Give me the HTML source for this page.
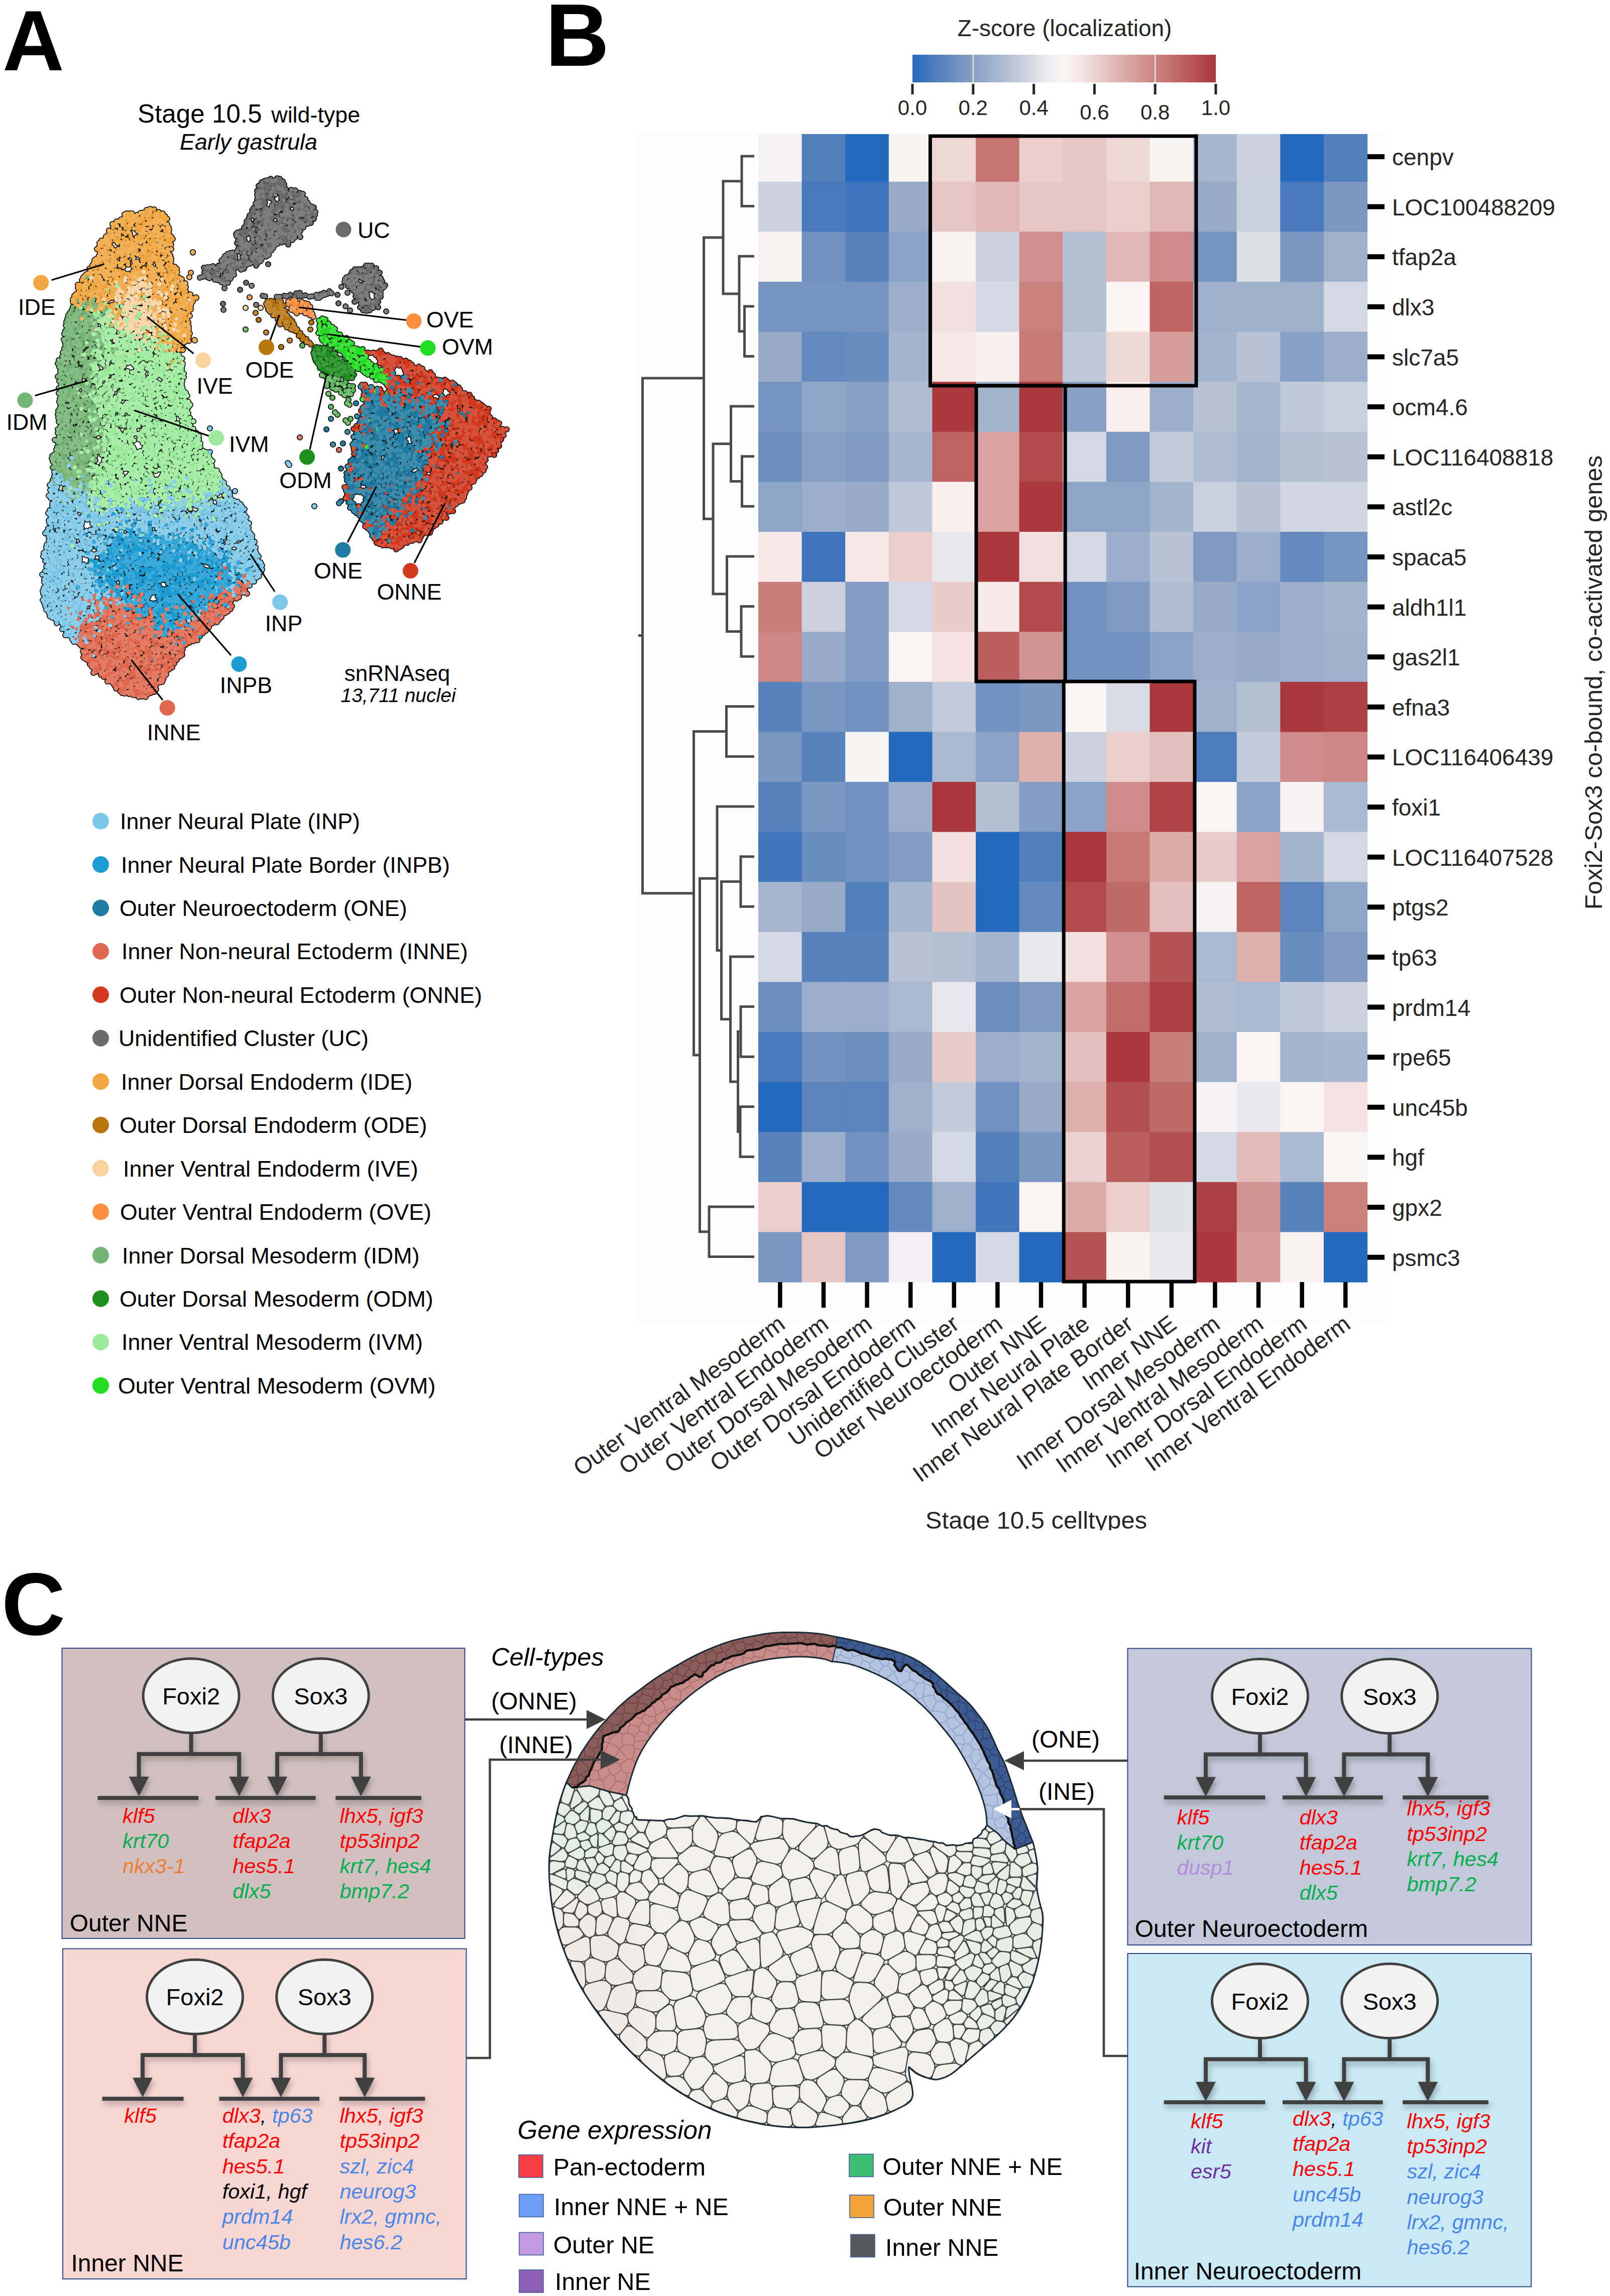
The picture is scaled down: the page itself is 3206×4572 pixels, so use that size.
<!DOCTYPE html>
<html><head><meta charset="utf-8"><title>Figure</title>
<style>html,body{margin:0;padding:0;background:#fff}svg{display:block}text{font-family:"Liberation Sans",sans-serif}</style>
</head><body>
<svg width="3206" height="4572" viewBox="0 0 3206 4572">
<rect width="3206" height="4572" fill="#fff"/>
<g id="panel_b">
<rect x="1270" y="264" width="1497" height="2370" fill="#fdfdfd"/>
<text x="1086" y="131" font-size="176" font-weight="bold">B</text>
<defs><linearGradient id="cb" x1="0" x2="1" y1="0" y2="0"><stop offset="0%" stop-color="#2369bd"/><stop offset="5%" stop-color="#4276bc"/><stop offset="10%" stop-color="#5b84bd"/><stop offset="15%" stop-color="#7192c0"/><stop offset="20%" stop-color="#87a0c4"/><stop offset="25%" stop-color="#9baecb"/><stop offset="30%" stop-color="#afbcd1"/><stop offset="35%" stop-color="#c3cbda"/><stop offset="40%" stop-color="#d9dce5"/><stop offset="45%" stop-color="#eeedf0"/><stop offset="50%" stop-color="#faf5f4"/><stop offset="55%" stop-color="#f6e8e7"/><stop offset="60%" stop-color="#ecd3d2"/><stop offset="65%" stop-color="#e3bfbd"/><stop offset="70%" stop-color="#dbaba8"/><stop offset="75%" stop-color="#d39794"/><stop offset="80%" stop-color="#cc8582"/><stop offset="85%" stop-color="#c3726f"/><stop offset="90%" stop-color="#bb5e5d"/><stop offset="95%" stop-color="#b24a4b"/><stop offset="100%" stop-color="#a9373b"/></linearGradient></defs>
<rect x="1817" y="109" width="604" height="55" fill="url(#cb)"/>
<rect x="1936.3" y="109" width="3" height="55" fill="#d9d9d9"/>
<rect x="2057.1" y="109" width="3" height="55" fill="#d9d9d9"/>
<rect x="2177.9" y="109" width="3" height="55" fill="#d9d9d9"/>
<rect x="2298.7" y="109" width="3" height="55" fill="#d9d9d9"/>
<rect x="1814.5" y="167" width="5" height="21" fill="#262626"/>
<text x="1817" y="229" font-size="42" text-anchor="middle" fill="#262626">0.0</text>
<rect x="1935.3" y="167" width="5" height="21" fill="#262626"/>
<text x="1937.8" y="229" font-size="42" text-anchor="middle" fill="#262626">0.2</text>
<rect x="2056.1" y="167" width="5" height="21" fill="#262626"/>
<text x="2058.6" y="229" font-size="42" text-anchor="middle" fill="#262626">0.4</text>
<rect x="2176.9" y="167" width="5" height="21" fill="#262626"/>
<text x="2179.4" y="238" font-size="42" text-anchor="middle" fill="#262626">0.6</text>
<rect x="2297.7" y="167" width="5" height="21" fill="#262626"/>
<text x="2300.2" y="238" font-size="42" text-anchor="middle" fill="#262626">0.8</text>
<rect x="2418.5" y="167" width="5" height="21" fill="#262626"/>
<text x="2421" y="229" font-size="42" text-anchor="middle" fill="#262626">1.0</text>
<text x="2120" y="72" font-size="46" text-anchor="middle" fill="#262626">Z-score (localization)</text>
<rect x="1510" y="267" width="87.2" height="95.4" fill="#f5f2f4"/>
<rect x="1596.6" y="267" width="87.2" height="95.4" fill="#517fbc"/>
<rect x="1683.2" y="267" width="87.2" height="95.4" fill="#2369bd"/>
<rect x="1769.8" y="267" width="87.2" height="95.4" fill="#f7f4f4"/>
<rect x="1856.4" y="267" width="87.2" height="95.4" fill="#eed7d5"/>
<rect x="1943" y="267" width="87.2" height="95.4" fill="#c57572"/>
<rect x="2029.6" y="267" width="87.2" height="95.4" fill="#eacfcd"/>
<rect x="2116.2" y="267" width="87.2" height="95.4" fill="#e7c7c5"/>
<rect x="2202.9" y="267" width="87.2" height="95.4" fill="#eed7d5"/>
<rect x="2289.5" y="267" width="87.2" height="95.4" fill="#f7f4f4"/>
<rect x="2376.1" y="267" width="87.2" height="95.4" fill="#a7b6ce"/>
<rect x="2462.7" y="267" width="87.2" height="95.4" fill="#cbd1de"/>
<rect x="2549.3" y="267" width="87.2" height="95.4" fill="#2369bd"/>
<rect x="2635.9" y="267" width="87.2" height="95.4" fill="#517fbc"/>
<rect x="1510" y="361.8" width="87.2" height="100.2" fill="#cbd1de"/>
<rect x="1596.6" y="361.8" width="87.2" height="100.2" fill="#4879bc"/>
<rect x="1683.2" y="361.8" width="87.2" height="100.2" fill="#3d74bc"/>
<rect x="1769.8" y="361.8" width="87.2" height="100.2" fill="#97abc9"/>
<rect x="1856.4" y="361.8" width="87.2" height="100.2" fill="#e7c7c5"/>
<rect x="1943" y="361.8" width="87.2" height="100.2" fill="#e0b7b5"/>
<rect x="2029.6" y="361.8" width="87.2" height="100.2" fill="#e7c7c5"/>
<rect x="2116.2" y="361.8" width="87.2" height="100.2" fill="#e7c7c5"/>
<rect x="2202.9" y="361.8" width="87.2" height="100.2" fill="#eacfcd"/>
<rect x="2289.5" y="361.8" width="87.2" height="100.2" fill="#e0b7b5"/>
<rect x="2376.1" y="361.8" width="87.2" height="100.2" fill="#97abc9"/>
<rect x="2462.7" y="361.8" width="87.2" height="100.2" fill="#c8cfdd"/>
<rect x="2549.3" y="361.8" width="87.2" height="100.2" fill="#4879bc"/>
<rect x="2635.9" y="361.8" width="87.2" height="100.2" fill="#7997c1"/>
<rect x="1510" y="461.4" width="87.2" height="100.2" fill="#faf2f1"/>
<rect x="1596.6" y="461.4" width="87.2" height="100.2" fill="#7192c0"/>
<rect x="1683.2" y="461.4" width="87.2" height="100.2" fill="#5782bc"/>
<rect x="1769.8" y="461.4" width="87.2" height="100.2" fill="#8aa2c5"/>
<rect x="1856.4" y="461.4" width="87.2" height="100.2" fill="#faf2f1"/>
<rect x="1943" y="461.4" width="87.2" height="100.2" fill="#cbd1de"/>
<rect x="2029.6" y="461.4" width="87.2" height="100.2" fill="#d08f8d"/>
<rect x="2116.2" y="461.4" width="87.2" height="100.2" fill="#b3bfd3"/>
<rect x="2202.9" y="461.4" width="87.2" height="100.2" fill="#e0b7b5"/>
<rect x="2289.5" y="461.4" width="87.2" height="100.2" fill="#cf8c8a"/>
<rect x="2376.1" y="461.4" width="87.2" height="100.2" fill="#7594c0"/>
<rect x="2462.7" y="461.4" width="87.2" height="100.2" fill="#dcdee6"/>
<rect x="2549.3" y="461.4" width="87.2" height="100.2" fill="#7997c1"/>
<rect x="2635.9" y="461.4" width="87.2" height="100.2" fill="#9fb0cc"/>
<rect x="1510" y="561" width="87.2" height="100.2" fill="#7594c0"/>
<rect x="1596.6" y="561" width="87.2" height="100.2" fill="#7594c0"/>
<rect x="1683.2" y="561" width="87.2" height="100.2" fill="#7594c0"/>
<rect x="1769.8" y="561" width="87.2" height="100.2" fill="#9baecb"/>
<rect x="1856.4" y="561" width="87.2" height="100.2" fill="#f2e0df"/>
<rect x="1943" y="561" width="87.2" height="100.2" fill="#d4d8e2"/>
<rect x="2029.6" y="561" width="87.2" height="100.2" fill="#ca817e"/>
<rect x="2116.2" y="561" width="87.2" height="100.2" fill="#b3bfd3"/>
<rect x="2202.9" y="561" width="87.2" height="100.2" fill="#faf5f4"/>
<rect x="2289.5" y="561" width="87.2" height="100.2" fill="#bd6361"/>
<rect x="2376.1" y="561" width="87.2" height="100.2" fill="#9fb0cc"/>
<rect x="2462.7" y="561" width="87.2" height="100.2" fill="#9fb0cc"/>
<rect x="2549.3" y="561" width="87.2" height="100.2" fill="#9fb0cc"/>
<rect x="2635.9" y="561" width="87.2" height="100.2" fill="#d4d8e2"/>
<rect x="1510" y="660.6" width="87.2" height="100.2" fill="#97abc9"/>
<rect x="1596.6" y="660.6" width="87.2" height="100.2" fill="#6489be"/>
<rect x="1683.2" y="660.6" width="87.2" height="100.2" fill="#698cbe"/>
<rect x="1769.8" y="660.6" width="87.2" height="100.2" fill="#a3b4cd"/>
<rect x="1856.4" y="660.6" width="87.2" height="100.2" fill="#f6e8e7"/>
<rect x="1943" y="660.6" width="87.2" height="100.2" fill="#f9efee"/>
<rect x="2029.6" y="660.6" width="87.2" height="100.2" fill="#c77977"/>
<rect x="2116.2" y="660.6" width="87.2" height="100.2" fill="#c0c9d9"/>
<rect x="2202.9" y="660.6" width="87.2" height="100.2" fill="#eed7d5"/>
<rect x="2289.5" y="660.6" width="87.2" height="100.2" fill="#d59c99"/>
<rect x="2376.1" y="660.6" width="87.2" height="100.2" fill="#a3b4cd"/>
<rect x="2462.7" y="660.6" width="87.2" height="100.2" fill="#b7c2d5"/>
<rect x="2549.3" y="660.6" width="87.2" height="100.2" fill="#87a0c4"/>
<rect x="2635.9" y="660.6" width="87.2" height="100.2" fill="#9baecb"/>
<rect x="1510" y="760.2" width="87.2" height="100.2" fill="#7594c0"/>
<rect x="1596.6" y="760.2" width="87.2" height="100.2" fill="#8fa5c7"/>
<rect x="1683.2" y="760.2" width="87.2" height="100.2" fill="#87a0c4"/>
<rect x="1769.8" y="760.2" width="87.2" height="100.2" fill="#afbcd1"/>
<rect x="1856.4" y="760.2" width="87.2" height="100.2" fill="#a9373b"/>
<rect x="1943" y="760.2" width="87.2" height="100.2" fill="#a3b4cd"/>
<rect x="2029.6" y="760.2" width="87.2" height="100.2" fill="#a9373b"/>
<rect x="2116.2" y="760.2" width="87.2" height="100.2" fill="#87a0c4"/>
<rect x="2202.9" y="760.2" width="87.2" height="100.2" fill="#f9efee"/>
<rect x="2289.5" y="760.2" width="87.2" height="100.2" fill="#9baecb"/>
<rect x="2376.1" y="760.2" width="87.2" height="100.2" fill="#b7c2d5"/>
<rect x="2462.7" y="760.2" width="87.2" height="100.2" fill="#a7b6ce"/>
<rect x="2549.3" y="760.2" width="87.2" height="100.2" fill="#c0c9d9"/>
<rect x="2635.9" y="760.2" width="87.2" height="100.2" fill="#c8cfdd"/>
<rect x="1510" y="859.8" width="87.2" height="100.2" fill="#6c8ebf"/>
<rect x="1596.6" y="859.8" width="87.2" height="100.2" fill="#87a0c4"/>
<rect x="1683.2" y="859.8" width="87.2" height="100.2" fill="#7e9ac2"/>
<rect x="1769.8" y="859.8" width="87.2" height="100.2" fill="#a7b6ce"/>
<rect x="1856.4" y="859.8" width="87.2" height="100.2" fill="#bd6361"/>
<rect x="1943" y="859.8" width="87.2" height="100.2" fill="#d8a3a0"/>
<rect x="2029.6" y="859.8" width="87.2" height="100.2" fill="#b24a4b"/>
<rect x="2116.2" y="859.8" width="87.2" height="100.2" fill="#d4d8e2"/>
<rect x="2202.9" y="859.8" width="87.2" height="100.2" fill="#7e9ac2"/>
<rect x="2289.5" y="859.8" width="87.2" height="100.2" fill="#c3cbda"/>
<rect x="2376.1" y="859.8" width="87.2" height="100.2" fill="#afbcd1"/>
<rect x="2462.7" y="859.8" width="87.2" height="100.2" fill="#a3b4cd"/>
<rect x="2549.3" y="859.8" width="87.2" height="100.2" fill="#b3bfd3"/>
<rect x="2635.9" y="859.8" width="87.2" height="100.2" fill="#b7c2d5"/>
<rect x="1510" y="959.4" width="87.2" height="100.2" fill="#8fa5c7"/>
<rect x="1596.6" y="959.4" width="87.2" height="100.2" fill="#9baecb"/>
<rect x="1683.2" y="959.4" width="87.2" height="100.2" fill="#97abc9"/>
<rect x="1769.8" y="959.4" width="87.2" height="100.2" fill="#c0c9d9"/>
<rect x="1856.4" y="959.4" width="87.2" height="100.2" fill="#f9efee"/>
<rect x="1943" y="959.4" width="87.2" height="100.2" fill="#d8a3a0"/>
<rect x="2029.6" y="959.4" width="87.2" height="100.2" fill="#a9373b"/>
<rect x="2116.2" y="959.4" width="87.2" height="100.2" fill="#8fa5c7"/>
<rect x="2202.9" y="959.4" width="87.2" height="100.2" fill="#8fa5c7"/>
<rect x="2289.5" y="959.4" width="87.2" height="100.2" fill="#a3b4cd"/>
<rect x="2376.1" y="959.4" width="87.2" height="100.2" fill="#c8cfdd"/>
<rect x="2462.7" y="959.4" width="87.2" height="100.2" fill="#b7c2d5"/>
<rect x="2549.3" y="959.4" width="87.2" height="100.2" fill="#d0d5e0"/>
<rect x="2635.9" y="959.4" width="87.2" height="100.2" fill="#d0d5e0"/>
<rect x="1510" y="1059" width="87.2" height="100.2" fill="#f6e8e7"/>
<rect x="1596.6" y="1059" width="87.2" height="100.2" fill="#3d74bc"/>
<rect x="1683.2" y="1059" width="87.2" height="100.2" fill="#f6e8e7"/>
<rect x="1769.8" y="1059" width="87.2" height="100.2" fill="#eacfcd"/>
<rect x="1856.4" y="1059" width="87.2" height="100.2" fill="#e9e9ed"/>
<rect x="1943" y="1059" width="87.2" height="100.2" fill="#a9373b"/>
<rect x="2029.6" y="1059" width="87.2" height="100.2" fill="#f2e0df"/>
<rect x="2116.2" y="1059" width="87.2" height="100.2" fill="#d4d8e2"/>
<rect x="2202.9" y="1059" width="87.2" height="100.2" fill="#9baecb"/>
<rect x="2289.5" y="1059" width="87.2" height="100.2" fill="#b7c2d5"/>
<rect x="2376.1" y="1059" width="87.2" height="100.2" fill="#7e9ac2"/>
<rect x="2462.7" y="1059" width="87.2" height="100.2" fill="#9baecb"/>
<rect x="2549.3" y="1059" width="87.2" height="100.2" fill="#6489be"/>
<rect x="2635.9" y="1059" width="87.2" height="100.2" fill="#7594c0"/>
<rect x="1510" y="1158.6" width="87.2" height="100.2" fill="#c87e7b"/>
<rect x="1596.6" y="1158.6" width="87.2" height="100.2" fill="#cbd1de"/>
<rect x="1683.2" y="1158.6" width="87.2" height="100.2" fill="#829cc3"/>
<rect x="1769.8" y="1158.6" width="87.2" height="100.2" fill="#d4d8e2"/>
<rect x="1856.4" y="1158.6" width="87.2" height="100.2" fill="#e9cbc9"/>
<rect x="1943" y="1158.6" width="87.2" height="100.2" fill="#f7ebea"/>
<rect x="2029.6" y="1158.6" width="87.2" height="100.2" fill="#b24a4b"/>
<rect x="2116.2" y="1158.6" width="87.2" height="100.2" fill="#7192c0"/>
<rect x="2202.9" y="1158.6" width="87.2" height="100.2" fill="#7e9ac2"/>
<rect x="2289.5" y="1158.6" width="87.2" height="100.2" fill="#afbcd1"/>
<rect x="2376.1" y="1158.6" width="87.2" height="100.2" fill="#97abc9"/>
<rect x="2462.7" y="1158.6" width="87.2" height="100.2" fill="#8aa2c5"/>
<rect x="2549.3" y="1158.6" width="87.2" height="100.2" fill="#9baecb"/>
<rect x="2635.9" y="1158.6" width="87.2" height="100.2" fill="#a3b4cd"/>
<rect x="1510" y="1258.2" width="87.2" height="100.2" fill="#cd8885"/>
<rect x="1596.6" y="1258.2" width="87.2" height="100.2" fill="#97abc9"/>
<rect x="1683.2" y="1258.2" width="87.2" height="100.2" fill="#829cc3"/>
<rect x="1769.8" y="1258.2" width="87.2" height="100.2" fill="#faf4f3"/>
<rect x="1856.4" y="1258.2" width="87.2" height="100.2" fill="#f4e3e2"/>
<rect x="1943" y="1258.2" width="87.2" height="100.2" fill="#bb5e5d"/>
<rect x="2029.6" y="1258.2" width="87.2" height="100.2" fill="#d29491"/>
<rect x="2116.2" y="1258.2" width="87.2" height="100.2" fill="#7192c0"/>
<rect x="2202.9" y="1258.2" width="87.2" height="100.2" fill="#7192c0"/>
<rect x="2289.5" y="1258.2" width="87.2" height="100.2" fill="#8aa2c5"/>
<rect x="2376.1" y="1258.2" width="87.2" height="100.2" fill="#9baecb"/>
<rect x="2462.7" y="1258.2" width="87.2" height="100.2" fill="#97abc9"/>
<rect x="2549.3" y="1258.2" width="87.2" height="100.2" fill="#9baecb"/>
<rect x="2635.9" y="1258.2" width="87.2" height="100.2" fill="#9fb0cc"/>
<rect x="1510" y="1357.8" width="87.2" height="100.2" fill="#5782bc"/>
<rect x="1596.6" y="1357.8" width="87.2" height="100.2" fill="#7997c1"/>
<rect x="1683.2" y="1357.8" width="87.2" height="100.2" fill="#7192c0"/>
<rect x="1769.8" y="1357.8" width="87.2" height="100.2" fill="#9fb0cc"/>
<rect x="1856.4" y="1357.8" width="87.2" height="100.2" fill="#c3cbda"/>
<rect x="1943" y="1357.8" width="87.2" height="100.2" fill="#7192c0"/>
<rect x="2029.6" y="1357.8" width="87.2" height="100.2" fill="#7997c1"/>
<rect x="2116.2" y="1357.8" width="87.2" height="100.2" fill="#faf5f4"/>
<rect x="2202.9" y="1357.8" width="87.2" height="100.2" fill="#d9dce5"/>
<rect x="2289.5" y="1357.8" width="87.2" height="100.2" fill="#a9373b"/>
<rect x="2376.1" y="1357.8" width="87.2" height="100.2" fill="#9fb0cc"/>
<rect x="2462.7" y="1357.8" width="87.2" height="100.2" fill="#b3bfd3"/>
<rect x="2549.3" y="1357.8" width="87.2" height="100.2" fill="#a9373b"/>
<rect x="2635.9" y="1357.8" width="87.2" height="100.2" fill="#ac3f42"/>
<rect x="1510" y="1457.4" width="87.2" height="100.2" fill="#7997c1"/>
<rect x="1596.6" y="1457.4" width="87.2" height="100.2" fill="#5782bc"/>
<rect x="1683.2" y="1457.4" width="87.2" height="100.2" fill="#f7f4f4"/>
<rect x="1769.8" y="1457.4" width="87.2" height="100.2" fill="#2369bd"/>
<rect x="1856.4" y="1457.4" width="87.2" height="100.2" fill="#abb9d0"/>
<rect x="1943" y="1457.4" width="87.2" height="100.2" fill="#8aa2c5"/>
<rect x="2029.6" y="1457.4" width="87.2" height="100.2" fill="#ddafad"/>
<rect x="2116.2" y="1457.4" width="87.2" height="100.2" fill="#cbd1de"/>
<rect x="2202.9" y="1457.4" width="87.2" height="100.2" fill="#eacfcd"/>
<rect x="2289.5" y="1457.4" width="87.2" height="100.2" fill="#e3bfbd"/>
<rect x="2376.1" y="1457.4" width="87.2" height="100.2" fill="#4c7cbc"/>
<rect x="2462.7" y="1457.4" width="87.2" height="100.2" fill="#c3cbda"/>
<rect x="2549.3" y="1457.4" width="87.2" height="100.2" fill="#cf8c8a"/>
<rect x="2635.9" y="1457.4" width="87.2" height="100.2" fill="#cd8885"/>
<rect x="1510" y="1557" width="87.2" height="100.2" fill="#5782bc"/>
<rect x="1596.6" y="1557" width="87.2" height="100.2" fill="#7997c1"/>
<rect x="1683.2" y="1557" width="87.2" height="100.2" fill="#7192c0"/>
<rect x="1769.8" y="1557" width="87.2" height="100.2" fill="#9baecb"/>
<rect x="1856.4" y="1557" width="87.2" height="100.2" fill="#a9373b"/>
<rect x="1943" y="1557" width="87.2" height="100.2" fill="#b3bfd3"/>
<rect x="2029.6" y="1557" width="87.2" height="100.2" fill="#829cc3"/>
<rect x="2116.2" y="1557" width="87.2" height="100.2" fill="#8aa2c5"/>
<rect x="2202.9" y="1557" width="87.2" height="100.2" fill="#cf8c8a"/>
<rect x="2289.5" y="1557" width="87.2" height="100.2" fill="#ae4244"/>
<rect x="2376.1" y="1557" width="87.2" height="100.2" fill="#faf5f4"/>
<rect x="2462.7" y="1557" width="87.2" height="100.2" fill="#8aa2c5"/>
<rect x="2549.3" y="1557" width="87.2" height="100.2" fill="#f5f2f4"/>
<rect x="2635.9" y="1557" width="87.2" height="100.2" fill="#abb9d0"/>
<rect x="1510" y="1656.6" width="87.2" height="100.2" fill="#4276bc"/>
<rect x="1596.6" y="1656.6" width="87.2" height="100.2" fill="#698cbe"/>
<rect x="1683.2" y="1656.6" width="87.2" height="100.2" fill="#7192c0"/>
<rect x="1769.8" y="1656.6" width="87.2" height="100.2" fill="#829cc3"/>
<rect x="1856.4" y="1656.6" width="87.2" height="100.2" fill="#f2e0df"/>
<rect x="1943" y="1656.6" width="87.2" height="100.2" fill="#2369bd"/>
<rect x="2029.6" y="1656.6" width="87.2" height="100.2" fill="#517fbc"/>
<rect x="2116.2" y="1656.6" width="87.2" height="100.2" fill="#a9373b"/>
<rect x="2202.9" y="1656.6" width="87.2" height="100.2" fill="#c77977"/>
<rect x="2289.5" y="1656.6" width="87.2" height="100.2" fill="#dbaba8"/>
<rect x="2376.1" y="1656.6" width="87.2" height="100.2" fill="#e9cbc9"/>
<rect x="2462.7" y="1656.6" width="87.2" height="100.2" fill="#d8a3a0"/>
<rect x="2549.3" y="1656.6" width="87.2" height="100.2" fill="#a3b4cd"/>
<rect x="2635.9" y="1656.6" width="87.2" height="100.2" fill="#d4d8e2"/>
<rect x="1510" y="1756.2" width="87.2" height="100.2" fill="#a7b6ce"/>
<rect x="1596.6" y="1756.2" width="87.2" height="100.2" fill="#97abc9"/>
<rect x="1683.2" y="1756.2" width="87.2" height="100.2" fill="#517fbc"/>
<rect x="1769.8" y="1756.2" width="87.2" height="100.2" fill="#a7b6ce"/>
<rect x="1856.4" y="1756.2" width="87.2" height="100.2" fill="#e5c3c1"/>
<rect x="1943" y="1756.2" width="87.2" height="100.2" fill="#2369bd"/>
<rect x="2029.6" y="1756.2" width="87.2" height="100.2" fill="#6489be"/>
<rect x="2116.2" y="1756.2" width="87.2" height="100.2" fill="#b24a4b"/>
<rect x="2202.9" y="1756.2" width="87.2" height="100.2" fill="#c06a68"/>
<rect x="2289.5" y="1756.2" width="87.2" height="100.2" fill="#e3bfbd"/>
<rect x="2376.1" y="1756.2" width="87.2" height="100.2" fill="#f5f2f4"/>
<rect x="2462.7" y="1756.2" width="87.2" height="100.2" fill="#bd6361"/>
<rect x="2549.3" y="1756.2" width="87.2" height="100.2" fill="#5b84bd"/>
<rect x="2635.9" y="1756.2" width="87.2" height="100.2" fill="#8fa5c7"/>
<rect x="1510" y="1855.8" width="87.2" height="100.2" fill="#d4d8e2"/>
<rect x="1596.6" y="1855.8" width="87.2" height="100.2" fill="#5782bc"/>
<rect x="1683.2" y="1855.8" width="87.2" height="100.2" fill="#5782bc"/>
<rect x="1769.8" y="1855.8" width="87.2" height="100.2" fill="#b7c2d5"/>
<rect x="1856.4" y="1855.8" width="87.2" height="100.2" fill="#b3bfd3"/>
<rect x="1943" y="1855.8" width="87.2" height="100.2" fill="#a3b4cd"/>
<rect x="2029.6" y="1855.8" width="87.2" height="100.2" fill="#e9e9ed"/>
<rect x="2116.2" y="1855.8" width="87.2" height="100.2" fill="#f2e0df"/>
<rect x="2202.9" y="1855.8" width="87.2" height="100.2" fill="#d08f8d"/>
<rect x="2289.5" y="1855.8" width="87.2" height="100.2" fill="#b55252"/>
<rect x="2376.1" y="1855.8" width="87.2" height="100.2" fill="#abb9d0"/>
<rect x="2462.7" y="1855.8" width="87.2" height="100.2" fill="#ddafad"/>
<rect x="2549.3" y="1855.8" width="87.2" height="100.2" fill="#698cbe"/>
<rect x="2635.9" y="1855.8" width="87.2" height="100.2" fill="#7e9ac2"/>
<rect x="1510" y="1955.4" width="87.2" height="100.2" fill="#6c8ebf"/>
<rect x="1596.6" y="1955.4" width="87.2" height="100.2" fill="#9baecb"/>
<rect x="1683.2" y="1955.4" width="87.2" height="100.2" fill="#9baecb"/>
<rect x="1769.8" y="1955.4" width="87.2" height="100.2" fill="#abb9d0"/>
<rect x="1856.4" y="1955.4" width="87.2" height="100.2" fill="#e6e6ec"/>
<rect x="1943" y="1955.4" width="87.2" height="100.2" fill="#6c8ebf"/>
<rect x="2029.6" y="1955.4" width="87.2" height="100.2" fill="#7e9ac2"/>
<rect x="2116.2" y="1955.4" width="87.2" height="100.2" fill="#d8a3a0"/>
<rect x="2202.9" y="1955.4" width="87.2" height="100.2" fill="#c16d6b"/>
<rect x="2289.5" y="1955.4" width="87.2" height="100.2" fill="#ac3f42"/>
<rect x="2376.1" y="1955.4" width="87.2" height="100.2" fill="#afbcd1"/>
<rect x="2462.7" y="1955.4" width="87.2" height="100.2" fill="#abb9d0"/>
<rect x="2549.3" y="1955.4" width="87.2" height="100.2" fill="#c0c9d9"/>
<rect x="2635.9" y="1955.4" width="87.2" height="100.2" fill="#cbd1de"/>
<rect x="1510" y="2055" width="87.2" height="100.2" fill="#4879bc"/>
<rect x="1596.6" y="2055" width="87.2" height="100.2" fill="#7192c0"/>
<rect x="1683.2" y="2055" width="87.2" height="100.2" fill="#6c8ebf"/>
<rect x="1769.8" y="2055" width="87.2" height="100.2" fill="#97abc9"/>
<rect x="1856.4" y="2055" width="87.2" height="100.2" fill="#e9cbc9"/>
<rect x="1943" y="2055" width="87.2" height="100.2" fill="#9baecb"/>
<rect x="2029.6" y="2055" width="87.2" height="100.2" fill="#a3b4cd"/>
<rect x="2116.2" y="2055" width="87.2" height="100.2" fill="#e3bfbd"/>
<rect x="2202.9" y="2055" width="87.2" height="100.2" fill="#a9373b"/>
<rect x="2289.5" y="2055" width="87.2" height="100.2" fill="#c87e7b"/>
<rect x="2376.1" y="2055" width="87.2" height="100.2" fill="#9fb0cc"/>
<rect x="2462.7" y="2055" width="87.2" height="100.2" fill="#faf5f4"/>
<rect x="2549.3" y="2055" width="87.2" height="100.2" fill="#a3b4cd"/>
<rect x="2635.9" y="2055" width="87.2" height="100.2" fill="#a7b6ce"/>
<rect x="1510" y="2154.6" width="87.2" height="100.2" fill="#2369bd"/>
<rect x="1596.6" y="2154.6" width="87.2" height="100.2" fill="#5b84bd"/>
<rect x="1683.2" y="2154.6" width="87.2" height="100.2" fill="#5b84bd"/>
<rect x="1769.8" y="2154.6" width="87.2" height="100.2" fill="#9fb0cc"/>
<rect x="1856.4" y="2154.6" width="87.2" height="100.2" fill="#c3cbda"/>
<rect x="1943" y="2154.6" width="87.2" height="100.2" fill="#7192c0"/>
<rect x="2029.6" y="2154.6" width="87.2" height="100.2" fill="#97abc9"/>
<rect x="2116.2" y="2154.6" width="87.2" height="100.2" fill="#ddafad"/>
<rect x="2202.9" y="2154.6" width="87.2" height="100.2" fill="#b44f4f"/>
<rect x="2289.5" y="2154.6" width="87.2" height="100.2" fill="#c06a68"/>
<rect x="2376.1" y="2154.6" width="87.2" height="100.2" fill="#f5f2f4"/>
<rect x="2462.7" y="2154.6" width="87.2" height="100.2" fill="#e9e9ed"/>
<rect x="2549.3" y="2154.6" width="87.2" height="100.2" fill="#faf5f4"/>
<rect x="2635.9" y="2154.6" width="87.2" height="100.2" fill="#f4e3e2"/>
<rect x="1510" y="2254.2" width="87.2" height="100.2" fill="#5782bc"/>
<rect x="1596.6" y="2254.2" width="87.2" height="100.2" fill="#9baecb"/>
<rect x="1683.2" y="2254.2" width="87.2" height="100.2" fill="#7192c0"/>
<rect x="1769.8" y="2254.2" width="87.2" height="100.2" fill="#97abc9"/>
<rect x="1856.4" y="2254.2" width="87.2" height="100.2" fill="#d4d8e2"/>
<rect x="1943" y="2254.2" width="87.2" height="100.2" fill="#517fbc"/>
<rect x="2029.6" y="2254.2" width="87.2" height="100.2" fill="#7997c1"/>
<rect x="2116.2" y="2254.2" width="87.2" height="100.2" fill="#ecd3d2"/>
<rect x="2202.9" y="2254.2" width="87.2" height="100.2" fill="#bb5e5d"/>
<rect x="2289.5" y="2254.2" width="87.2" height="100.2" fill="#b44f4f"/>
<rect x="2376.1" y="2254.2" width="87.2" height="100.2" fill="#d4d8e2"/>
<rect x="2462.7" y="2254.2" width="87.2" height="100.2" fill="#e2bcb9"/>
<rect x="2549.3" y="2254.2" width="87.2" height="100.2" fill="#abb9d0"/>
<rect x="2635.9" y="2254.2" width="87.2" height="100.2" fill="#f9f5f5"/>
<rect x="1510" y="2353.8" width="87.2" height="100.2" fill="#eacfcd"/>
<rect x="1596.6" y="2353.8" width="87.2" height="100.2" fill="#2369bd"/>
<rect x="1683.2" y="2353.8" width="87.2" height="100.2" fill="#2369bd"/>
<rect x="1769.8" y="2353.8" width="87.2" height="100.2" fill="#6489be"/>
<rect x="1856.4" y="2353.8" width="87.2" height="100.2" fill="#9fb0cc"/>
<rect x="1943" y="2353.8" width="87.2" height="100.2" fill="#4276bc"/>
<rect x="2029.6" y="2353.8" width="87.2" height="100.2" fill="#faf5f4"/>
<rect x="2116.2" y="2353.8" width="87.2" height="100.2" fill="#dbaba8"/>
<rect x="2202.9" y="2353.8" width="87.2" height="100.2" fill="#eacfcd"/>
<rect x="2289.5" y="2353.8" width="87.2" height="100.2" fill="#e1e2e9"/>
<rect x="2376.1" y="2353.8" width="87.2" height="100.2" fill="#ac3f42"/>
<rect x="2462.7" y="2353.8" width="87.2" height="100.2" fill="#d29491"/>
<rect x="2549.3" y="2353.8" width="87.2" height="100.2" fill="#5782bc"/>
<rect x="2635.9" y="2353.8" width="87.2" height="100.2" fill="#ca817e"/>
<rect x="1510" y="2453.4" width="87.2" height="100.2" fill="#7997c1"/>
<rect x="1596.6" y="2453.4" width="87.2" height="100.2" fill="#e7c7c5"/>
<rect x="1683.2" y="2453.4" width="87.2" height="100.2" fill="#7e9ac2"/>
<rect x="1769.8" y="2453.4" width="87.2" height="100.2" fill="#f1eff2"/>
<rect x="1856.4" y="2453.4" width="87.2" height="100.2" fill="#2369bd"/>
<rect x="1943" y="2453.4" width="87.2" height="100.2" fill="#d4d8e2"/>
<rect x="2029.6" y="2453.4" width="87.2" height="100.2" fill="#2369bd"/>
<rect x="2116.2" y="2453.4" width="87.2" height="100.2" fill="#b55252"/>
<rect x="2202.9" y="2453.4" width="87.2" height="100.2" fill="#faf2f1"/>
<rect x="2289.5" y="2453.4" width="87.2" height="100.2" fill="#e9e9ed"/>
<rect x="2376.1" y="2453.4" width="87.2" height="100.2" fill="#a9373b"/>
<rect x="2462.7" y="2453.4" width="87.2" height="100.2" fill="#d59c99"/>
<rect x="2549.3" y="2453.4" width="87.2" height="100.2" fill="#faf2f1"/>
<rect x="2635.9" y="2453.4" width="87.2" height="100.2" fill="#2369bd"/>
<g fill="none" stroke="#000" stroke-width="7" stroke-linejoin="miter">
<rect x="1852.4" y="271" width="529.6" height="497"/>
<rect x="1944" y="768" width="177.2" height="589"/>
<rect x="2118.2" y="1357" width="260.8" height="1195"/>
</g>
<rect x="2723" y="307" width="34" height="10" fill="#000"/>
<text x="2772" y="329" font-size="46" fill="#262626">cenpv</text>
<rect x="2723" y="406.6" width="34" height="10" fill="#000"/>
<text x="2772" y="428.6" font-size="46" fill="#262626">LOC100488209</text>
<rect x="2723" y="506.2" width="34" height="10" fill="#000"/>
<text x="2772" y="528.2" font-size="46" fill="#262626">tfap2a</text>
<rect x="2723" y="605.9" width="34" height="10" fill="#000"/>
<text x="2772" y="627.9" font-size="46" fill="#262626">dlx3</text>
<rect x="2723" y="705.5" width="34" height="10" fill="#000"/>
<text x="2772" y="727.5" font-size="46" fill="#262626">slc7a5</text>
<rect x="2723" y="805.1" width="34" height="10" fill="#000"/>
<text x="2772" y="827.1" font-size="46" fill="#262626">ocm4.6</text>
<rect x="2723" y="904.7" width="34" height="10" fill="#000"/>
<text x="2772" y="926.7" font-size="46" fill="#262626">LOC116408818</text>
<rect x="2723" y="1004.3" width="34" height="10" fill="#000"/>
<text x="2772" y="1026.3" font-size="46" fill="#262626">astl2c</text>
<rect x="2723" y="1104" width="34" height="10" fill="#000"/>
<text x="2772" y="1126" font-size="46" fill="#262626">spaca5</text>
<rect x="2723" y="1203.6" width="34" height="10" fill="#000"/>
<text x="2772" y="1225.6" font-size="46" fill="#262626">aldh1l1</text>
<rect x="2723" y="1303.2" width="34" height="10" fill="#000"/>
<text x="2772" y="1325.2" font-size="46" fill="#262626">gas2l1</text>
<rect x="2723" y="1402.8" width="34" height="10" fill="#000"/>
<text x="2772" y="1424.8" font-size="46" fill="#262626">efna3</text>
<rect x="2723" y="1502.4" width="34" height="10" fill="#000"/>
<text x="2772" y="1524.4" font-size="46" fill="#262626">LOC116406439</text>
<rect x="2723" y="1602.1" width="34" height="10" fill="#000"/>
<text x="2772" y="1624.1" font-size="46" fill="#262626">foxi1</text>
<rect x="2723" y="1701.7" width="34" height="10" fill="#000"/>
<text x="2772" y="1723.7" font-size="46" fill="#262626">LOC116407528</text>
<rect x="2723" y="1801.3" width="34" height="10" fill="#000"/>
<text x="2772" y="1823.3" font-size="46" fill="#262626">ptgs2</text>
<rect x="2723" y="1900.9" width="34" height="10" fill="#000"/>
<text x="2772" y="1922.9" font-size="46" fill="#262626">tp63</text>
<rect x="2723" y="2000.5" width="34" height="10" fill="#000"/>
<text x="2772" y="2022.5" font-size="46" fill="#262626">prdm14</text>
<rect x="2723" y="2100.2" width="34" height="10" fill="#000"/>
<text x="2772" y="2122.2" font-size="46" fill="#262626">rpe65</text>
<rect x="2723" y="2199.8" width="34" height="10" fill="#000"/>
<text x="2772" y="2221.8" font-size="46" fill="#262626">unc45b</text>
<rect x="2723" y="2299.4" width="34" height="10" fill="#000"/>
<text x="2772" y="2321.4" font-size="46" fill="#262626">hgf</text>
<rect x="2723" y="2399" width="34" height="10" fill="#000"/>
<text x="2772" y="2421" font-size="46" fill="#262626">gpx2</text>
<rect x="2723" y="2498.6" width="34" height="10" fill="#000"/>
<text x="2772" y="2520.6" font-size="46" fill="#262626">psmc3</text>
<rect x="1549.1" y="2553.0" width="8.5" height="51" fill="#000"/>
<text transform="translate(1566.3 2643) rotate(-36)" font-size="46.5" text-anchor="end" fill="#262626">Outer Ventral Mesoderm</text>
<rect x="1635.7" y="2553.0" width="8.5" height="51" fill="#000"/>
<text transform="translate(1652.9 2643) rotate(-36)" font-size="46.5" text-anchor="end" fill="#262626">Outer Ventral Endoderm</text>
<rect x="1722.3" y="2553.0" width="8.5" height="51" fill="#000"/>
<text transform="translate(1739.5 2643) rotate(-36)" font-size="46.5" text-anchor="end" fill="#262626">Outer Dorsal Mesoderm</text>
<rect x="1808.9" y="2553.0" width="8.5" height="51" fill="#000"/>
<text transform="translate(1826.1 2643) rotate(-36)" font-size="46.5" text-anchor="end" fill="#262626">Outer Dorsal Endoderm</text>
<rect x="1895.5" y="2553.0" width="8.5" height="51" fill="#000"/>
<text transform="translate(1912.7 2643) rotate(-36)" font-size="46.5" text-anchor="end" fill="#262626">Unidentified Cluster</text>
<rect x="1982.1" y="2553.0" width="8.5" height="51" fill="#000"/>
<text transform="translate(1999.3 2643) rotate(-36)" font-size="46.5" text-anchor="end" fill="#262626">Outer Neuroectoderm</text>
<rect x="2068.7" y="2553.0" width="8.5" height="51" fill="#000"/>
<text transform="translate(2085.9 2643) rotate(-36)" font-size="46.5" text-anchor="end" fill="#262626">Outer NNE</text>
<rect x="2155.4" y="2553.0" width="8.5" height="51" fill="#000"/>
<text transform="translate(2172.6 2643) rotate(-36)" font-size="46.5" text-anchor="end" fill="#262626">Inner Neural Plate</text>
<rect x="2242" y="2553.0" width="8.5" height="51" fill="#000"/>
<text transform="translate(2259.2 2643) rotate(-36)" font-size="46.5" text-anchor="end" fill="#262626">Inner Neural Plate Border</text>
<rect x="2328.6" y="2553.0" width="8.5" height="51" fill="#000"/>
<text transform="translate(2345.8 2643) rotate(-36)" font-size="46.5" text-anchor="end" fill="#262626">Inner NNE</text>
<rect x="2415.2" y="2553.0" width="8.5" height="51" fill="#000"/>
<text transform="translate(2432.4 2643) rotate(-36)" font-size="46.5" text-anchor="end" fill="#262626">Inner Dorsal Mesoderm</text>
<rect x="2501.8" y="2553.0" width="8.5" height="51" fill="#000"/>
<text transform="translate(2519 2643) rotate(-36)" font-size="46.5" text-anchor="end" fill="#262626">Inner Ventral Mesoderm</text>
<rect x="2588.4" y="2553.0" width="8.5" height="51" fill="#000"/>
<text transform="translate(2605.6 2643) rotate(-36)" font-size="46.5" text-anchor="end" fill="#262626">Inner Dorsal Endoderm</text>
<rect x="2675" y="2553.0" width="8.5" height="51" fill="#000"/>
<text transform="translate(2692.2 2643) rotate(-36)" font-size="46.5" text-anchor="end" fill="#262626">Inner Ventral Endoderm</text>
<text x="2063.5" y="3044" font-size="49" text-anchor="middle" fill="#262626">Stage 10.5 celltypes</text>
<rect x="1800" y="3047" width="540" height="20" fill="#fff"/>
<text transform="translate(3190 1359) rotate(-90)" font-size="49" text-anchor="middle" fill="#262626">Foxi2-Sox3 co-bound, co-activated genes</text>
<path d="M1502 311H1477V410.6H1502M1502 609.9H1482.5V709.5H1502M1502 510.2H1472V659.7H1482.5M1477 360.8H1440V585H1472M1502 908.7H1477.5V1008.3H1502M1502 809.1H1455.5V958.5H1477.5M1502 1207.6H1476V1307.2H1502M1502 1108H1447.5V1257.4H1476M1455.5 883.8H1420V1182.7H1447.5M1440 472.9H1401.5V1033.2H1420M1502 1406.8H1446.5V1506.4H1502M1502 1705.7H1475V1805.3H1502M1502 2004.5H1475V2104.2H1502M1502 2203.8H1474V2303.4H1502M1475 2054.3H1469.5V2253.6H1474M1502 1904.9H1454.5V2154H1469.5M1475 1755.5H1436.5V2029.4H1454.5M1502 1606.1H1428V1892.5H1436.5M1502 2403H1412V2502.6H1502M1428 1749.3H1393.5V2452.8H1412M1446.5 1456.6H1381.5V2101H1393.5M1401.5 753.1H1279.5V1778.8H1381.5M1271 1265.5H1280" fill="none" stroke="#4a4a4a" stroke-width="5" stroke-linejoin="miter" stroke-linecap="butt"/>
</g>
<g id="panel_a">
<text x="5" y="139.5" font-size="170" font-weight="bold">A</text>
<text x="274" y="244" font-size="51.2">Stage 10.5</text>
<text x="540.3" y="244" font-size="44.8">wild-type</text>
<text x="495" y="298" font-size="44.8" text-anchor="middle" font-style="italic">Early gastrula</text>
<defs><path id="uUC0" d="M539 356h0m13-1h0m5 1h0m-36 7h0m6-3h0m3 8h0m6 0h0m1-7h0m4 4h0m5-1h0m5 2h0m4-4h0m5 4h0m3-5h0m3 6h0m-51 3h0m7 5h0m4-5h0m5 6h0m5-2h0m8-4h0m6 6h0m8-4h0m7 1h0m4 3h0m-57 4h0m5-2h0m11 3h0m6 1h0m15 0h0m8 2h0m14-2h0m26 2h0m-79 4h0m8-1h0m6 4h0m28-2h0m6 0h0m5 2h0m12-5h0m6 1h0m7 2h0m-84 8h0m6-1h0m9 0h0m9-2h0m6 2h0m18-1h0m15 5h0m13-6h0m10 1h0m-78 11h0m1-6h0m7 4h0m17-2h0m6 4h0m7-3h0m4 4h0m4-4h0m14 5h0m6-8h0m5 1h0m9 0h0m-95 13h0m21-3h0m21 4h0m5-3h0m5-1h0m11 1h0m6 2h0m21 0h0m12-5h0m18 4h0m-123 6h0m6 2h0m8-1h0m9-2h0m17 5h0m5-2h0m15-5h0m20 7h0m23-6h0m17 6h0m-125 6h0m5 1h0m0-5h0m19 0h0m23 6h0m44-1h0m21-4h0m10 2h0m8 0h0m-132 7h0m18 3h0m9 1h0m14-6h0m4 4h0m12-5h0m9 8h0m1-7h0m8 2h0m6 1h0m7-3h0m22 6h0m4-5h0m4 5h0m12-3h0m-135 12h0m1-7h0m10 6h0m8-6h0m9 5h0m6-2h0m9 2h0m12-1h0m7 0h0m5-1h0m10 1h0m17-2h0m35 1h0m-133 9h0m11 2h0m13-7h0m29 8h0m23-1h0m3-5h0m5 4h0m8-6h0m4 4h0m12 1h0m-115 8h0m6-1h0m7 0h0m10 0h0m17-2h0m9 3h0m7-2h0m17-1h0m12 2h0m8 0h0m5-1h0m-107 7h0m13 0h0m3 5h0m5-4h0m14-2h0m4 3h0m6 0h0m11 0h0m32 2h0m7 1h0m8-2h0m8 2h0m-107 8h0m13-1h0m30-5h0m4 4h0m12-2h0m19 1h0m9 1h0m6-1h0m-95 8h0m14 1h0m13-1h0m5-2h0m9 0h0m2 5h0m15-4h0m10 3h0m21-3h0m6-2h0m7 1h0m0 5h0m-99 7h0m27-2h0m6-2h0m7 2h0m7 2h0m8 1h0m3-7h0m6 4h0m-59 11h0m9-6h0m9 2h0m8-1h0m21 2h0m-70 9h0m6 1h0m5-3h0m31 5h0m18-1h0m-57 3h0m9-2h0m0 8h0m15 0h0m6-3h0m20-1h0m-68 9h0m4-5h0m11 5h0m31-1h0m6-3h0m12 2h0m7 1h0m21 2h0m-128 7h0m28 2h0m1-6h0m9 7h0m18-4h0m6 2h0m2-5h0m4 3h0m10-2h0m2 5h0m3-6h0m21 0h0m212 6h0m7-6h0m3 5h0m8-5h0m0 6h0m9-1h0m-342 8h0m2-6h0m8 1h0m5 4h0m9-1h0m18 3h0m4-5h0m248 3h0m6-5h0m7 0h0m21 3h0m14 1h0m7 3h0m-347 5h0m14 3h0m3-7h0m2 5h0m270-2h0m13-2h0m7 2h0m6 1h0m9-4h0m14 1h0m-334 7h0m20 0h0m6 5h0m4-4h0m4 5h0m275-3h0m12 1h0m8-3h0m4 5h0m-256 5h0m217 4h0m10 0h0m14 0h0m13-4h0m6 4h0m11-7h0m6 8h0m-74 2h0m35 1h0m12 0h0m5-2h0m8 3h0m-275 5h0m119 6h0m48 0h0m11-3h0m48-1h0m7-1h0m14 4h0m6-6h0m6 1h0m9 3h0m13-3h0m-236 12h0m43 0h0m12-2h0m8 4h0m4-7h0m5 6h0m7-1h0m6-1h0m30-2h0m14-1h0m20 2h0m36 3h0m5-3h0m7-3h0m38 7h0m-46 7h0m1-5h0m9 1h0m26 4h0m5-4h0m-309 11h0m230-1h0m32-3h0m17 6h0m13-3h0m7 2h0m6 0h0m4-5h0m-36 11h0m12 1h0m8-3h0m16 2h0m-30 6h0m7 1h0m6-1h0"/><path id="uIDE0" d="M292 418h0m2 6h0m13-7h0m9 5h0m-60 7h0m2-4h0m2 6h0m27-2h0m13 0h0m6 0h0m3-4h0m1 7h0m9-5h0m4 4h0m6 0h0m-81 1h0m8 7h0m17-5h0m9-2h0m3 5h0m8-2h0m7 2h0m16-4h0m6 3h0m6 3h0m5-3h0m-103 10h0m20-4h0m9 2h0m14 4h0m6-6h0m8 2h0m9-3h0m8 3h0m9-1h0m6 2h0m-94 8h0m24-5h0m1 6h0m8 1h0m17-1h0m5-3h0m6-1h0m14 2h0m31 3h0m-101 5h0m16 2h0m28-2h0m24 2h0m19-5h0m12 3h0m7 4h0m-120 3h0m2 5h0m20 0h0m12-6h0m9-1h0m1 6h0m12 1h0m13-2h0m6-5h0m13 7h0m3-7h0m13 6h0m21 0h0m-139 8h0m27-7h0m0 7h0m6-1h0m11-4h0m7 3h0m10-1h0m13 3h0m1-6h0m5 3h0m10-1h0m12 2h0m5 2h0m15-4h0m5-2h0m6 3h0m4 4h0m5-4h0m-124 5h0m19 0h0m20 6h0m4-5h0m9 3h0m25-5h0m4 4h0m30-2h0m10 5h0m-138 3h0m9-1h0m4 5h0m6-2h0m26-1h0m5 1h0m27 0h0m13 2h0m1-6h0m9 3h0m6 1h0m4 3h0m12-2h0m-132 3h0m5 2h0m1 5h0m19 0h0m17-7h0m16 5h0m11 1h0m10-3h0m19 2h0m9-2h0m-87 8h0m15 1h0m6 2h0m5-5h0m12 1h0m12 4h0m16-5h0m1 5h0m9-1h0m7-3h0m12-2h0m7 8h0m1-7h0m9-1h0m4 5h0m10-1h0m-151 10h0m20 1h0m6-2h0m8 2h0m7-5h0m21 1h0m37-1h0m2 5h0m6-6h0m1 5h0m10-1h0m13-1h0m12 2h0m-135 9h0m4-5h0m3 5h0m35-3h0m10-3h0m7 0h0m19 6h0m11-3h0m16-2h0m12 1h0m22 3h0m6 2h0m-157 0h0m7 4h0m8 3h0m47-3h0m19-2h0m3 6h0m7-3h0m12 1h0m9-2h0m6-1h0m30-1h0m4 5h0m6-1h0m6-3h0m4 4h0m-162 2h0m13 5h0m14-5h0m8 0h0m6 1h0m7 1h0m3 4h0m5-1h0m18-1h0m17-2h0m10-1h0m31 2h0m15 1h0m6 2h0m4-4h0m33 4h0m-210 5h0m10 0h0m31-3h0m3 4h0m13 2h0m16-1h0m7-5h0m5 0h0m21 7h0m3-8h0m5 5h0m14 2h0m12-4h0m12-1h0m16 2h0m13-1h0m-188 11h0m8 1h0m17-7h0m6 8h0m0-6h0m36 1h0m12 1h0m14-3h0m8 5h0m71-5h0m4 5h0m10-6h0m0 6h0m8-5h0m-202 14h0m5 0h0m16-1h0m10 0h0m5-1h0m9-3h0m2 5h0m8-4h0m9-1h0m9-2h0m61 2h0m54 1h0m14 2h0m-202 8h0m8 0h0m19 0h0m5 0h0m5 3h0m4-2h0m6-2h0m5-2h0m4-2h0m33 7h0m1-5h0m4 5h0m57-6h0m23 5h0m1-6h0m8 5h0m21-1h0m-202 7h0m3 4h0m12 1h0m4-4h0m6-1h0m6 1h0m11 3h0m6-1h0m9 0h0m8-1h0m5 0h0m76 0h0m19-1h0m12-3h0m23 2h0m8-2h0m5 3h0m-222 9h0m7 0h0m10 1h0m10-2h0m22 0h0m7 1h0m63-2h0m6-2h0m9-1h0m5 1h0m24 6h0m6 0h0m20-4h0m3 5h0m11-1h0m7 1h0m7-8h0m1 5h0m-216 11h0m2-6h0m8-1h0m10 2h0m10 1h0m21 1h0m10-3h0m2 5h0m4-4h0m102 2h0m3-5h0m17 5h0m6 1h0m10 1h0m8-5h0m4 6h0m19-6h0m4-2h0m1 1h0m-240 13h0m17-5h0m11 1h0m1 5h0m22-3h0m21 3h0m105-4h0m6-1h0m23 3h0m7-1h0m20-4h0m-169 9h0m4 3h0m103 3h0m4-4h0m16 5h0m25-3h0m6 1h0m1-5h0m6 1h0m-192 9h0m16-2h0m23 0h0m8 5h0m5 0h0m54-6h0m10 7h0m52-6h0m20 3h0m4-4h0m-144 11h0m85 1h0m10-2h0m11 1h0m6-1h0m4 3h0m11-1h0m5 1h0m3-5h0m-57 10h0m16 4h0m1-5h0m9 3h0m5-2h0m21 2h0m7-1h0m-40 11h0m23-2h0m19-2h0m-62 13h0m8-4h0m13 0h0m11 0h0m26 5h0m-80 6h0m23-1h0m11-2h0m9 3h0m25-2h0m5-1h0m11 0h0m-54 11h0m17-1h0m3-5h0m6 6h0m4-3h0m11-2h0m10 2h0m4 4h0m2-7h0m-22 14h0m7-3h0m9-1h0m4 5h0m-51 4h0m20-3h0m18 7h0m-15 6h0m8-3h0m-31 8h0m7 1h0m32-2h0m-21 23h0m17 0h0"/><path id="uIVE0" d="M268 551h0m-18 2h0m73 3h0m-91 6h0m32 2h0m6-1h0m13 0h0m7 3h0m-53 8h0m36-3h0m5 1h0m14 0h0m-59 13h0m4 4h0m13-3h0m1 5h0m4-6h0m38 2h0m6-2h0m-92 11h0m23-4h0m18 3h0m18-2h0m4 7h0m5-5h0m24 2h0m9 1h0m69-1h0m-139 6h0m13 2h0m7-1h0m26-4h0m3 5h0m7-1h0m6 2h0m2-5h0m-102 12h0m56 1h0m6-5h0m13 4h0m5 1h0m10-4h0m25-1h0m174 4h0m-260 9h0m39-3h0m5 2h0m16-3h0m3 5h0m20-1h0m-91 4h0m24 0h0m18 3h0m5-3h0m13 6h0m14 0h0m9 0h0m3-5h0m19 4h0m-116 8h0m29-5h0m2 5h0m5 1h0m16-3h0m4-4h0m9 6h0m10-4h0m14 0h0m3 4h0m50-4h0m-117 13h0m21-6h0m8 0h0m9 5h0m13-4h0m11-2h0m13 0h0m1 5h0m5 2h0m8-8h0m-88 14h0m15 0h0m15-6h0m5 7h0m8-4h0m7-3h0m12 0h0m32 7h0m-90 2h0m15 3h0m31-1h0m34-3h0m34 3h0m-115 8h0m41 3h0m42-6h0m-58 10h0m9-1h0m15 2h0m1 5h0m40 7h0m-88 18h0m16 0h0m-15 22h0"/><path id="uIDM0" d="M174 552h0m-18 47h0m18 3h0m1 6h0m10-6h0m5 4h0m-45 5h0m10 3h0m57 2h0m-73 7h0m4-6h0m9 1h0m15 3h0m41 1h0m-72 6h0m10-3h0m12 2h0m7 2h0m15-2h0m22 0h0m-68 8h0m14-2h0m10 1h0m4 5h0m6-5h0m6 0h0m-42 7h0m5 1h0m5 5h0m15-5h0m5 3h0m15-4h0m3 5h0m11-5h0m-58 12h0m12 3h0m3-6h0m6 2h0m5-1h0m58 1h0m-87 7h0m6 0h0m13 3h0m5-5h0m12 5h0m25 0h0m5 0h0m-59 9h0m6 0h0m2-5h0m16 0h0m3 5h0m4-4h0m11 1h0m70-3h0m-117 8h0m6 5h0m6 2h0m5-1h0m10-2h0m7-1h0m12-2h0m6 2h0m14-2h0m-69 7h0m1 6h0m9 0h0m24-3h0m17-2h0m12 1h0m-64 11h0m16-4h0m6 6h0m6-2h0m6 1h0m4-4h0m22 1h0m17-3h0m-59 14h0m25-1h0m9-2h0m26 3h0m-76 1h0m3 6h0m6-1h0m13-2h0m36 0h0m-37 12h0m20 0h0m11-6h0m7 5h0m-74 6h0m6-2h0m3 6h0m25-5h0m3 4h0m10-4h0m6 0h0m27-2h0m-62 10h0m7-1h0m5-2h0m13 6h0m9 0h0m8-2h0m5-1h0m-48 8h0m4-3h0m14 5h0m9-2h0m12 3h0m13-3h0m-69 11h0m6 2h0m5-8h0m10 6h0m7-1h0m5-3h0m14-2h0m7 6h0m-43 10h0m22-6h0m5 2h0m6 2h0m16 0h0m3-6h0m3 7h0m-49 3h0m11 3h0m15-2h0m8 2h0m12 0h0m-52 5h0m2 5h0m7 0h0m4-4h0m25-1h0m7-2h0m5 2h0m1 6h0m9-6h0m40 0h0m-88 11h0m5-4h0m27 7h0m3-5h0m65 2h0m-117 7h0m11-3h0m5 4h0m12 1h0m-24 4h0m4 3h0m11 2h0m6 0h0m37-1h0m50-1h0m-113 8h0m10 2h0m23-5h0m5 1h0m13-1h0m3 5h0m4-5h0m4 5h0m6 0h0m6-4h0m6 0h0m-76 7h0m27 4h0m5-4h0m15 4h0m7-2h0m-62 6h0m8 4h0m14-1h0m9 1h0m6-3h0m5 1h0m18 2h0m7-1h0m-68 4h0m11 5h0m10-4h0m6 5h0m10 1h0m22-3h0m8-3h0m4 4h0m52-4h0m-116 10h0m28 4h0m4-2h0m7 1h0m5-6h0m5 5h0m3-4h0m22-1h0m18 6h0m-92 5h0m19 2h0m23 1h0m-44 8h0m22-4h0m5 2h0m7-2h0m26 2h0m6 1h0m7-5h0m48-1h0m-121 13h0m11-3h0m5-1h0m7 1h0m10 1h0m5-1h0m76 5h0m-88 2h0m14 6h0m15-6h0m6 5h0m3-5h0m5 1h0m-61 11h0m5-4h0m1 6h0m4-3h0m8-4h0m13 7h0m22 0h0m9-3h0m12 0h0m-87 5h0m6 5h0m8-3h0m16-2h0m30 1h0m13-1h0m3 6h0m-77 3h0m11-1h0m28 1h0m12 2h0m14-4h0m5 4h0m-71 8h0m10 4h0m2-7h0m12 0h0m5-1h0m2 7h0m6-2h0m19-1h0m12 4h0m5-5h0m-82 9h0m7 2h0m15-3h0m9 0h0m23 1h0m10-2h0m6 5h0m16-3h0m46 1h0m-106 4h0m27 4h0m5-2h0m5 1h0m5 2h0m6-3h0m12 2h0m-73 8h0m11-4h0m2 6h0m4-5h0m16 4h0m2-5h0m8 3h0m4-3h0m3 5h0m5 0h0m12-6h0m30 3h0m8 2h0m-117 6h0m6 0h0m43-1h0m3 4h0m28-1h0m24 0h0m-95 5h0m4 4h0m2-5h0m6 5h0m15-2h0m-14 9h0m4-3h0m8 0h0m6 0h0m6 0h0m5-2h0m6 1h0m17 2h0m-74 9h0m23 2h0m3-4h0m17 4h0m6 1h0m16-3h0m7 1h0m17 1h0m-86 7h0m58-1h0m-19 5h0m8 2h0m11 1h0m28 2h0m-50 5h0m24-1h0m3 11h0m-29 4h0"/><path id="uIVM0" d="M214 576h0m73 15h0m-78 14h0m-48 8h0m139-1h0m-55 9h0m34 2h0m-91 2h0m1 5h0m6-2h0m18 0h0m63 0h0m-75 6h0m14 2h0m5 1h0m11 2h0m-45 4h0m43 3h0m-24 5h0m49-2h0m30 5h0m-83 5h0m3 4h0m17-2h0m39-2h0m-69 8h0m13 1h0m5-2h0m11 1h0m6-3h0m18 4h0m32-3h0m13 4h0m5 2h0m24-5h0m11 0h0m-124 13h0m5-7h0m31 5h0m17 0h0m8 3h0m31 0h0m8-2h0m3-5h0m18 0h0m-112 13h0m36-4h0m6 2h0m46 2h0m17-1h0m-103 7h0m20 0h0m8 0h0m6 3h0m6-2h0m28-2h0m31-2h0m9 0h0m-140 15h0m3-6h0m25 1h0m7-2h0m12 3h0m9-3h0m30 3h0m10 2h0m13 0h0m7-2h0m15 3h0m7-1h0m12 1h0m-171 4h0m30 2h0m2-5h0m4 5h0m11-3h0m11-1h0m3 5h0m20-1h0m20-4h0m5 5h0m12-2h0m6-1h0m14 0h0m19 0h0m24 2h0m5 2h0m7-5h0m2 5h0m-162 3h0m15-2h0m9 1h0m6 6h0m10-5h0m6-1h0m2 5h0m6-5h0m4 4h0m6-1h0m5 1h0m7-2h0m8 0h0m5-2h0m7 3h0m6-2h0m22-1h0m8 6h0m3-6h0m18 6h0m6-1h0m-176 6h0m11-1h0m11 0h0m30 3h0m17-2h0m18 2h0m24 0h0m9-3h0m15-2h0m7 2h0m15-2h0m8 5h0m-130 4h0m7 4h0m8-3h0m5 3h0m74-4h0m5-1h0m3 5h0m13-6h0m33 7h0m-171 5h0m12 1h0m5-2h0m3 5h0m2-8h0m3 5h0m14 0h0m7-2h0m6-2h0m6 5h0m5-3h0m16-1h0m12-1h0m17 7h0m11-7h0m7 3h0m5-1h0m4-3h0m12 5h0m6 3h0m18-4h0m-180 9h0m4-5h0m10 7h0m4-3h0m6-2h0m8 2h0m12 3h0m6-3h0m6-4h0m23 5h0m6 2h0m8-5h0m11 3h0m19 2h0m3-6h0m5-1h0m10 6h0m1-6h0m27 3h0m3 5h0m12-8h0m0 7h0m-180 8h0m17-4h0m18 2h0m12-1h0m40-3h0m6-1h0m1 5h0m7-1h0m8-3h0m6 3h0m6 0h0m21-2h0m16 3h0m12 1h0m-183 5h0m19-1h0m17 5h0m21-2h0m5-2h0m13 5h0m11-8h0m35 5h0m7 1h0m15-3h0m10-2h0m14 4h0m11 0h0m-197 9h0m47 1h0m6-3h0m9 1h0m44-2h0m5-3h0m10 1h0m6 0h0m3 5h0m13-4h0m16-1h0m25 5h0m9-1h0m9-2h0m3 4h0m-203 8h0m50-4h0m5-3h0m32 2h0m6 0h0m2 5h0m8-1h0m7 1h0m8-4h0m6-1h0m15 4h0m2-5h0m8-1h0m2 8h0m15-2h0m6-5h0m7 2h0m6 3h0m2-5h0m8 0h0m7 5h0m5 1h0m2-6h0m1 2h0m-200 11h0m5-1h0m21 1h0m17-1h0m4-4h0m8 2h0m23 0h0m3 5h0m8-6h0m11 3h0m15-4h0m9 1h0m22 0h0m5 2h0m30-3h0m6 3h0m-170 4h0m10 4h0m15 0h0m5-4h0m14 4h0m30-2h0m7 3h0m7-4h0m7 1h0m4 4h0m15 1h0m13-1h0m5-4h0m22-1h0m4 3h0m7 3h0m6 0h0m7-1h0m7-1h0m-161 5h0m8 0h0m14 6h0m46 0h0m13-7h0m6 3h0m9-2h0m10 5h0m10-2h0m7 2h0m10-4h0m7 1h0m18-2h0m-164 6h0m10 1h0m7 5h0m6 2h0m5-1h0m31 1h0m0-6h0m11 3h0m6-1h0m39 1h0m9-3h0m22-1h0m4 4h0m16 1h0m9-4h0m-197 7h0m10 3h0m16 2h0m3-5h0m5 4h0m7 2h0m6-2h0m8-4h0m6 2h0m4 5h0m3-5h0m7-1h0m4 4h0m7-1h0m7-1h0m5-2h0m5-2h0m9 4h0m6-2h0m10-1h0m3 4h0m11-2h0m5-2h0m20 3h0m8 4h0m9-1h0m10-5h0m2 5h0m-196 8h0m12 1h0m34-5h0m8 4h0m21 0h0m15-6h0m13 5h0m13-3h0m7 1h0m5 3h0m10-5h0m4 4h0m4-3h0m11 0h0m10 2h0m32 3h0m-156 2h0m6 0h0m4 5h0m9-2h0m8 1h0m18-4h0m1 6h0m11-5h0m16 4h0m13 1h0m16-6h0m14-1h0m24 5h0m9-4h0m6 5h0m-152 4h0m9 2h0m22 0h0m6-4h0m15 1h0m8 2h0m19 4h0m7-5h0m6-1h0m8 1h0m21-1h0m16 5h0m5-5h0m-175 12h0m32 2h0m32-6h0m8 5h0m0-7h0m5 3h0m18 2h0m12-3h0m11-1h0m7 5h0m15-1h0m14-2h0m8 0h0m17 0h0m-177 12h0m7-5h0m19 3h0m6 1h0m4-3h0m9 4h0m11-3h0m5-2h0m5 1h0m20 3h0m3-4h0m21-1h0m7 7h0m20-4h0m8-3h0m15 1h0m2 5h0m4-4h0m5 5h0m5-5h0m21 3h0m-229 3h0m46 1h0m5-2h0m10 2h0m5 3h0m6-1h0m13-2h0m31 3h0m15-3h0m3 6h0m2-5h0m17 5h0m3-4h0m6-3h0m7 4h0m24 3h0m5-7h0m12 0h0m4 7h0m10-5h0m-214 11h0m40 0h0m9-2h0m11-1h0m17-2h0m10 7h0m23-3h0m10 1h0m7 2h0m29-6h0m2 5h0m8-3h0m5-3h0m5 5h0m23-4h0m17 5h0m8-4h0m-193 10h0m5-2h0m5 4h0m6-4h0m13 3h0m12-2h0m17 1h0m28 3h0m5-4h0m5 2h0m5-3h0m16-3h0m20 3h0m5 4h0m26-7h0m6 0h0m5 3h0m4 5h0m-216 6h0m19-1h0m19-3h0m14 5h0m3-5h0m6 2h0m8-1h0m6-1h0m13 1h0m38-1h0m14 4h0m6-1h0m35 1h0m7-3h0m9 4h0m13-2h0m12 0h0m7-3h0m-186 12h0m22 0h0m2-5h0m7 1h0m5 3h0m5 0h0m16-1h0m29-2h0m6 3h0m15 2h0m14-3h0m8 4h0m6-3h0m12-5h0m2 6h0m15-4h0m4 4h0m9 0h0m15-4h0m5 2h0m-207 6h0m22 1h0m5 5h0m13-4h0m6 3h0m2-5h0m5 5h0m5-6h0m14 2h0m6 4h0m5 1h0m14-1h0m9-1h0m2-6h0m3 8h0m34-6h0m6 3h0m12-4h0m6 4h0m4-3h0m1 5h0m9-1h0m5 0h0m10-6h0m9 2h0m6 1h0m-232 6h0m27 0h0m8 1h0m6 0h0m18 2h0m10-1h0m7 2h0m5 0h0m7-3h0m5 0h0m10 4h0m6 0h0m3-4h0m17 5h0m6 1h0m10-4h0m7-3h0m13 1h0m10 2h0m44 1h0m15-4h0m-232 14h0m17-2h0m16-5h0m16 4h0m5-3h0m15 0h0m23 2h0m4 4h0m4-3h0m17-3h0m5 1h0m12 3h0m17-3h0m3 4h0m11-1h0m10-4h0m28 5h0m7-5h0m14 3h0m-216 12h0m5-4h0m15 3h0m24-5h0m21-2h0m15 0h0m5 4h0m24 3h0m7-7h0m12 7h0m2-5h0m4 5h0m2-5h0m29 2h0m5-4h0m18 8h0m2-6h0m30 3h0m3-4h0m3 5h0m5 1h0m-271 4h0m6 0h0m33 2h0m6 1h0m3-4h0m13 5h0m5-1h0m6-6h0m6 3h0m29 1h0m7-2h0m11 0h0m9-1h0m22 1h0m31 2h0m22-4h0m10 5h0m9 3h0m21-4h0m8-3h0m7 3h0m9 1h0m-270 8h0m45 0h0m8-3h0m26 2h0m51 4h0m10-3h0m3-5h0m46 3h0m5 4h0m5-7h0m4 4h0m16-2h0m16 6h0m4-5h0m26 3h0m8-2h0m7-2h0m-254 13h0m22-5h0m11-1h0m14 4h0m15-1h0m5-3h0m7 3h0m8-4h0m13 5h0m9 2h0m4-5h0m21 1h0m4 4h0m5-1h0m3-5h0m3 6h0m6-3h0m6 0h0m21-2h0m19-2h0m13 5h0m8-1h0m5-2h0m5-1h0m-231 10h0m5 2h0m13-2h0m16 5h0m31-6h0m33 3h0m22-3h0m14 2h0m12 0h0m17-3h0m11 1h0m2 5h0m3-6h0m14 1h0m7 5h0m29-1h0m17 0h0m3-4h0m10 3h0m-278 3h0m17 2h0m6 2h0m18 1h0m6 1h0m22-4h0m7-2h0m1 6h0m8-5h0m1 6h0m18-4h0m11 3h0m12-2h0m15 0h0m10-3h0m20 7h0m6-4h0m4-3h0m22 2h0m5-1h0m10 4h0m5-5h0m7-1h0m7 7h0m2-4h0m22 1h0m9-4h0m16 0h0m-311 10h0m51 3h0m8-1h0m18 2h0m9-5h0m5 2h0m5 3h0m0-5h0m5 6h0m24-4h0m5 5h0m7-2h0m8-3h0m7 1h0m6-3h0m21-1h0m26 0h0m5 7h0m8 0h0m12 1h0m6-4h0m23 0h0m5 1h0m14-2h0m7-2h0m4 6h0m-272 5h0m63 0h0m13-1h0m4 3h0m6-1h0m12 0h0m7-1h0m24-1h0m18 3h0m3-5h0m34 0h0m15 3h0m8-4h0m22 1h0m25 3h0m8 3h0m13 0h0m-260 7h0m42-2h0m68 3h0m24-2h0m23 3h0m6-4h0m18-3h0m9 3h0m21 1h0m8 3h0m8-5h0m12 4h0m50-2h0m-263 10h0m7-4h0m19 5h0m10-2h0m15-3h0m33 3h0m20 0h0m38-3h0m38-3h0m21 3h0m20 1h0m-261 5h0m59 0h0m38 4h0m37-1h0m7 2h0m45 0h0m17-4h0m22 3h0m-177 4h0m28 4h0m25-3h0m64 9h0m3 4h0m49-3h0m16 4h0m38-3h0m-212 10h0m-7 4h0m42 3h0m37 20h0"/><path id="uINP0" d="M418 853h0m0 47h0m155 22h0m-465 26h0m13-2h0m44 3h0m-42 5h0m19-1h0m70 7h0m56-2h0m174 0h0m-324 4h0m14 2h0m41 2h0m126 2h0m39-3h0m-235 6h0m5 0h0m26 2h0m213-4h0m25 5h0m73 0h0m-340 4h0m15 3h0m39 2h0m174-1h0m28-4h0m79 1h0m12 4h0m-342 8h0m14-7h0m9 5h0m279-2h0m10 0h0m36-2h0m-326 11h0m31 1h0m10-1h0m103-3h0m8 1h0m8 0h0m5 1h0m102 4h0m67-2h0m-357 8h0m6-3h0m3 4h0m5-1h0m25 0h0m8-1h0m12 0h0m5 1h0m47-3h0m30 4h0m14 1h0m57-1h0m13 2h0m5-1h0m29-2h0m17-1h0m18 3h0m20 0h0m13-4h0m8 2h0m9-2h0m5 4h0m4-6h0m8 6h0m9-3h0m-380 12h0m5-8h0m2 7h0m4-5h0m6 1h0m6 1h0m7 1h0m6 1h0m2-5h0m4 6h0m2-7h0m3 5h0m15-3h0m12 2h0m6 2h0m19-4h0m37 1h0m22 2h0m9 2h0m6-3h0m5 1h0m7-4h0m22 1h0m20 5h0m7-2h0m12-2h0m6-1h0m11 3h0m7 0h0m27-4h0m9 3h0m4 3h0m13-2h0m7-4h0m13 2h0m8-2h0m37 5h0m-375 3h0m7 0h0m3 4h0m9-2h0m6 0h0m13 3h0m16 2h0m57-5h0m16-2h0m8 6h0m1-6h0m20 2h0m4-2h0m5 4h0m7-5h0m7 2h0m18 0h0m7 1h0m13 1h0m18 1h0m4-3h0m8 5h0m46-3h0m6 0h0m6 3h0m8 0h0m21-5h0m18 2h0m9 1h0m9-4h0m-382 9h0m7 4h0m1-5h0m5 6h0m4-6h0m7 1h0m12 2h0m22 4h0m27-3h0m6-3h0m8 2h0m8-2h0m4 5h0m23-5h0m7 0h0m10 2h0m10-3h0m13 1h0m16-1h0m5 5h0m9-6h0m12 8h0m8-6h0m16 2h0m9-2h0m4 4h0m24-6h0m23 2h0m2 5h0m10-6h0m18 2h0m23-1h0m5 6h0m33-2h0m-394 6h0m23 3h0m5 1h0m6-8h0m6 1h0m6 2h0m26-3h0m10 0h0m9 5h0m9-1h0m5 3h0m2-6h0m12 1h0m30 0h0m7 0h0m45 1h0m8 0h0m6-1h0m1 5h0m61-4h0m5 5h0m2-7h0m12-1h0m0 7h0m17-4h0m25-1h0m17 2h0m10 3h0m3-6h0m7 7h0m8-4h0m-378 9h0m8-3h0m6 4h0m76-5h0m30 2h0m12 2h0m4-5h0m43 2h0m5 2h0m7-4h0m12 1h0m14 4h0m16 2h0m7-3h0m6-4h0m16 3h0m10 2h0m23-2h0m8 4h0m27 0h0m7-7h0m6 2h0m7 2h0m6-2h0m19-1h0m-381 11h0m6-1h0m9-3h0m12 2h0m6 1h0m6 1h0m11 1h0m6-2h0m11 0h0m29 1h0m12 3h0m5-5h0m5 3h0m12-4h0m21 3h0m13-1h0m17-1h0m10 1h0m35 0h0m7 0h0m19 3h0m8-5h0m2 5h0m13 1h0m10-6h0m6 2h0m9 0h0m1 5h0m5-5h0m25-1h0m9 3h0m8 2h0m5-6h0m5 3h0m7 2h0m5-3h0m21-2h0m8 2h0m-405 11h0m4-5h0m3 7h0m7-5h0m11-3h0m3 7h0m5-1h0m10-3h0m63 1h0m6 1h0m7 0h0m7 3h0m8-3h0m49-1h0m16-2h0m6 3h0m12 0h0m7 1h0m25-4h0m5-1h0m6 5h0m6-3h0m8-3h0m1 5h0m10-3h0m7 3h0m25 2h0m8-2h0m10-5h0m11 8h0m12-5h0m41-3h0m4 7h0m2-6h0m-398 12h0m7 1h0m26-5h0m4 4h0m5-5h0m5 3h0m5-2h0m11 6h0m1-6h0m24 4h0m6-1h0m8 4h0m6-2h0m49-5h0m50 4h0m14-3h0m52 3h0m3-4h0m5 2h0m23 1h0m17-2h0m27 4h0m2-6h0m9 0h0m11 8h0m3-7h0m5 3h0m11 0h0m11 2h0m5-4h0m0 5h0m-379 7h0m5 2h0m2-6h0m9 1h0m9 2h0m22 2h0m13-4h0m9 2h0m18 1h0m12 0h0m36-4h0m22 2h0m51-3h0m7 2h0m23 0h0m44 1h0m9-1h0m42-3h0m5 3h0m11-2h0m17 5h0m5-3h0m13 4h0m-401 5h0m21 1h0m11 2h0m2-5h0m6 0h0m4 4h0m8-2h0m5-2h0m12 1h0m8 1h0m14 3h0m20-6h0m60 5h0m50 0h0m17 0h0m15-6h0m36 4h0m7-1h0m26 5h0m15-1h0m18-7h0m18 4h0m-367 12h0m1-7h0m6 3h0m7 3h0m7-6h0m4 4h0m7 0h0m17-2h0m9 3h0m3-5h0m4 5h0m20 0h0m4-2h0m41 3h0m84-4h0m53 5h0m19-5h0m10 3h0m14-3h0m11 0h0m24 3h0m18 0h0m19-1h0m5 2h0m-408 3h0m8 2h0m4-3h0m1 6h0m11-2h0m15 3h0m1-8h0m23 5h0m12 2h0m27-1h0m5 0h0m5-5h0m8 2h0m109 0h0m39-1h0m48 5h0m27-2h0m7-1h0m23-1h0m26-2h0m9 5h0m-407 10h0m9-1h0m13-4h0m11-3h0m15 7h0m19-4h0m78 3h0m139 2h0m16-3h0m44-1h0m4 3h0m3-6h0m9-1h0m6 3h0m25 3h0m13-2h0m6 2h0m8-2h0m5 0h0m-425 9h0m23-3h0m0 5h0m7-1h0m4-4h0m8 1h0m14 3h0m3-4h0m315 4h0m6-3h0m8-2h0m12 0h0m0 7h0m12-3h0m7-2h0m-392 8h0m25 1h0m20 1h0m5-1h0m29-2h0m30-1h0m202 6h0m26-7h0m15 0h0m2 6h0m5 1h0m11-2h0m11 1h0m4-4h0m6 5h0m14-1h0m-430 2h0m17 1h0m7 5h0m7-4h0m5 2h0m11-3h0m14 3h0m12-3h0m31 7h0m18-1h0m247-6h0m24 3h0m14 3h0m6-2h0m12-5h0m5 6h0m-438 10h0m12-6h0m6 0h0m10 1h0m6 3h0m5-5h0m18 4h0m37-2h0m6 1h0m281 0h0m16 1h0m13 0h0m6-1h0m13-3h0m-417 12h0m6-3h0m3 5h0m2-7h0m7 3h0m28-1h0m16 3h0m9-5h0m4 4h0m5-3h0m8 2h0m22 0h0m261 2h0m14 2h0m8 0h0m2-4h0m6 0h0m5-2h0m14 2h0m-428 6h0m6 3h0m6-3h0m4 7h0m6-7h0m9 2h0m38 4h0m51-6h0m223 1h0m56 2h0m16-4h0m3 6h0m-411 10h0m15-7h0m4 3h0m6-3h0m29 6h0m4-4h0m9 4h0m18-4h0m9-1h0m6 2h0m266 1h0m36 1h0m-405 7h0m19 2h0m14-5h0m14 4h0m3-5h0m16 6h0m20 1h0m21-3h0m7-3h0m13 3h0m212-3h0m26-1h0m-371 13h0m4-4h0m15 2h0m5 4h0m12-1h0m5-3h0m25-2h0m17 0h0m6 3h0m53 1h0m204-4h0m54 2h0m-398 10h0m8-3h0m6 3h0m11-2h0m18 1h0m13 0h0m14 1h0m10-4h0m10 4h0m3-5h0m3 6h0m15-4h0m27 1h0m-133 5h0m25 3h0m8-3h0m8 0h0m14 4h0m15 0h0m10 0h0m31-1h0m6 1h0m28 3h0m8-2h0m-158 3h0m2 6h0m10-2h0m4-4h0m29 5h0m11 2h0m5-6h0m15 1h0m34 5h0m23-8h0m12 4h0m16 0h0m206 4h0m-349 3h0m6 2h0m6-4h0m40-1h0m4 5h0m8-4h0m13 2h0m22 1h0m205-3h0m-313 11h0m9-2h0m11-2h0m2 8h0m35-1h0m2-5h0m18 4h0m2-5h0m15 0h0m14 6h0m194-7h0m-300 11h0m23 5h0m39-6h0m5 5h0m7-3h0m12-4h0m15 2h0m49 1h0m-138 7h0m16 2h0m16 1h0m7-3h0m8 3h0m5-1h0m14 3h0m208-7h0m-272 9h0m12 3h0m6-1h0m8 0h0m21-1h0m201 0h0m-237 11h0m5-1h0m12-3h0m1 5h0m15-3h0m184 1h0m23 0h0m-232 7h0m23 4h0m0-7h0m-25 9h0m6 0h0m5 2h0m46-1h0m-35 12h0m3-5h0m15 0h0"/><path id="uINPB0" d="M226 1024h0m-72 18h0m86 3h0m14-5h0m44 1h0m32 3h0m-66 11h0m100-4h0m-195 13h0m68-6h0m22 2h0m22 1h0m20 1h0m82-6h0m-151 13h0m8 1h0m21-1h0m13-1h0m12 4h0m23-2h0m5 1h0m21-4h0m19 0h0m38-1h0m-158 9h0m7 4h0m7-6h0m19 6h0m26-7h0m18 5h0m58 1h0m50-6h0m-188 16h0m16-6h0m5 4h0m18-1h0m12-2h0m5 1h0m18-2h0m7 5h0m37-4h0m11 4h0m22-3h0m8 4h0m17-7h0m13 5h0m-229 3h0m29 7h0m3-5h0m26 1h0m6 2h0m8 0h0m4-4h0m1 6h0m5-7h0m1 6h0m5-3h0m6 3h0m12 0h0m3-7h0m5 8h0m6-3h0m5-2h0m16 3h0m3-4h0m15 4h0m6-1h0m18 0h0m5-5h0m5 0h0m7 5h0m-172 8h0m19 3h0m13 0h0m7-2h0m6-2h0m15-2h0m12 2h0m36-1h0m17 3h0m6-2h0m21 0h0m9 4h0m14-1h0m2-5h0m24 0h0m4 3h0m22-3h0m-245 9h0m22-3h0m1 5h0m19 2h0m13-4h0m23 5h0m3-5h0m22 5h0m1-6h0m45 6h0m5-3h0m5 1h0m7 1h0m31-3h0m13 0h0m36 0h0m-267 12h0m1-6h0m4 3h0m7 1h0m19-2h0m8-3h0m1 6h0m4-5h0m6 4h0m10-1h0m8-3h0m25 0h0m15 5h0m32-2h0m13 2h0m11 0h0m10-2h0m16-1h0m11-1h0m14 1h0m14-2h0m2 6h0m7-5h0m16 3h0m8-2h0m7 1h0m2-5h0m-262 11h0m5 5h0m6-1h0m8-3h0m28-4h0m13 3h0m15-2h0m11 5h0m45 2h0m7-5h0m2 5h0m5-2h0m7-2h0m6 3h0m3-6h0m13 7h0m6-2h0m6-6h0m4 6h0m5-6h0m8 6h0m4-5h0m25 6h0m4-6h0m8 4h0m19 0h0m5 0h0m57-1h0m-327 5h0m15 5h0m21-1h0m12-1h0m8-3h0m3 4h0m4-5h0m26 3h0m7 2h0m7-1h0m9 1h0m5 2h0m4-4h0m16 1h0m7 2h0m7-5h0m6 4h0m8-1h0m6 0h0m13 1h0m19-2h0m15 2h0m5 2h0m20-3h0m8 2h0m7 1h0m11-3h0m-254 11h0m14 0h0m12-5h0m8 3h0m7 1h0m26-4h0m6 5h0m8-2h0m3-4h0m8-1h0m5 3h0m11-3h0m1 8h0m5-7h0m14 3h0m7 2h0m5 1h0m14-5h0m30 4h0m7-6h0m24 6h0m8-6h0m9 3h0m37 1h0m-257 11h0m8-7h0m8 1h0m15 4h0m7 0h0m9 3h0m10-6h0m4 5h0m5 0h0m8 0h0m5-3h0m12-1h0m4 5h0m7-1h0m8-5h0m22 6h0m9-2h0m10-1h0m6 1h0m3-6h0m5 0h0m2 6h0m7-3h0m5-3h0m33 5h0m9-4h0m40 4h0m4-3h0m-279 9h0m18 1h0m9-1h0m22 1h0m7-1h0m24 1h0m9 1h0m5-2h0m11-2h0m0 5h0m7 1h0m14-4h0m28 2h0m7-5h0m1 5h0m6 2h0m14-4h0m7 5h0m8-4h0m6-3h0m6 0h0m7 1h0m2 6h0m6-2h0m22-2h0m14 4h0m-272 8h0m11-8h0m0 7h0m17-6h0m8 0h0m4 2h0m19 1h0m4-3h0m25 6h0m2-6h0m7 3h0m27 1h0m5 2h0m22 0h0m8-6h0m7 2h0m22-2h0m20 1h0m7 0h0m13 4h0m9-2h0m7-1h0m17-1h0m6 2h0m-230 9h0m10 3h0m28-7h0m42 3h0m14 2h0m5-1h0m8-1h0m7 0h0m8 0h0m11-1h0m42-2h0m6 0h0m13 6h0m18 0h0m39-7h0m-256 15h0m9-7h0m8 5h0m24-4h0m5 3h0m6 3h0m20-6h0m29 4h0m9-2h0m8-1h0m3 5h0m5-1h0m7-5h0m1 5h0m15-1h0m17-1h0m28 1h0m23 0h0m-197 7h0m7 3h0m13-4h0m13 4h0m11-2h0m30-1h0m5 2h0m7-4h0m7-1h0m27 5h0m2-6h0m10 6h0m11-2h0m11 3h0m1-6h0m13 5h0m39-4h0m23 0h0m-271 7h0m53 4h0m65-1h0m8 3h0m7 1h0m32-3h0m11-3h0m21 5h0m25-1h0m2-6h0m-150 10h0m5-1h0m13 5h0m6-3h0m3 4h0m9-6h0m20 3h0m5 2h0m6-6h0m7 4h0m9 1h0m6 0h0m20-3h0m4 4h0m25-4h0m41 1h0m-206 8h0m6 1h0m8 0h0m56-1h0m6 1h0m5-2h0m19 3h0m78-5h0m-151 11h0m10 1h0m8-3h0m20 1h0m7-1h0m1 5h0m4-4h0m6 0h0m8-2h0m7 2h0m6 6h0m5-8h0m11 1h0m11 0h0m-103 14h0m40-4h0m30-2h0m1 6h0m5-2h0m9-4h0m11 5h0m25 1h0m39-5h0m-154 7h0m27 1h0m16 3h0m22 1h0m72 0h0m-107 3h0m4 5h0m6-5h0m7 1h0m11-1h0m5 5h0m33 1h0m-93 4h0m28-1h0m19 3h0m15 2h0m7-3h0m5-3h0m-77 10h0m45-1h0m-16 7h0m20 0h0m30 5h0m39-3h0m-94 45h0"/><path id="uINNE0" d="M675 896h0m-227 234h0m-9 12h0m47 5h0m-5 17h0m4 3h0m-41 2h0m39 4h0m5 2h0m-266 3h0m221 3h0m10-2h0m7 3h0m19-1h0m-291 3h0m1 8h0m33-1h0m56-2h0m125-1h0m14 3h0m9-3h0m10 4h0m1-5h0m-271 6h0m49 1h0m170 3h0m61-1h0m5 2h0m11-4h0m-256 7h0m5 4h0m44 1h0m27-1h0m143-2h0m12 2h0m22-3h0m3 5h0m-325 4h0m79-3h0m9 4h0m40-3h0m2 6h0m31-2h0m125 1h0m14-1h0m11 0h0m11 0h0m-318 9h0m20-1h0m30 3h0m5-1h0m19-5h0m18-1h0m6 1h0m166-1h0m8 3h0m8-1h0m22 4h0m0-6h0m-288 15h0m24-6h0m27 2h0m11-3h0m43 7h0m2-6h0m4 6h0m3-7h0m11 1h0m15 4h0m30 1h0m80-7h0m12 7h0m13-1h0m-227 4h0m7-2h0m3 7h0m11-3h0m6-1h0m10 2h0m17 0h0m29-3h0m4 2h0m11-3h0m89 5h0m19-6h0m20 3h0m7-1h0m-291 13h0m19-1h0m12 0h0m5-4h0m3 6h0m7-7h0m6 0h0m4 5h0m13 2h0m11-7h0m0 7h0m13-1h0m6-3h0m16-2h0m5 4h0m5-4h0m7-2h0m78 4h0m8 2h0m22-6h0m17 5h0m5-4h0m3 5h0m8-3h0m-267 9h0m12-1h0m5 3h0m2-5h0m10 2h0m17-2h0m5 4h0m15 0h0m14-1h0m15-2h0m10 3h0m19-4h0m1 5h0m13-2h0m31 2h0m52-3h0m16 5h0m7-2h0m3-5h0m12 7h0m-236 6h0m7-2h0m26-3h0m19 3h0m5 2h0m32 0h0m19 2h0m10-2h0m7-5h0m40 0h0m8 7h0m7-2h0m29 0h0m6-1h0m15 0h0m-254 10h0m28 0h0m15 1h0m4-5h0m10 2h0m4-4h0m4 3h0m7 1h0m6-2h0m5 1h0m6 3h0m19-2h0m17-4h0m14 5h0m69-5h0m10 3h0m4 4h0m0-7h0m13 7h0m0-5h0m-225 10h0m26-1h0m7 2h0m5-5h0m4 5h0m14-4h0m6 4h0m17 2h0m17-4h0m5-2h0m5 3h0m7-1h0m20-3h0m4 4h0m8-3h0m4 4h0m5-2h0m9-4h0m9 6h0m6-1h0m13-5h0m3 6h0m8-3h0m5-1h0m6 3h0m-205 10h0m6-3h0m4-4h0m12 4h0m7 1h0m12-5h0m23 7h0m2-4h0m6 2h0m15 0h0m20-3h0m15 5h0m15-5h0m6 5h0m5-3h0m5-1h0m44 3h0m5-2h0m7-4h0m-205 12h0m12 0h0m8-1h0m14 2h0m5-2h0m7 3h0m11 2h0m6-1h0m7-4h0m17 1h0m7 1h0m4-4h0m6 3h0m13 3h0m6-3h0m15 2h0m19-2h0m35 1h0m-197 9h0m12-3h0m15-3h0m1 8h0m15-6h0m7 6h0m4-6h0m18 5h0m16-7h0m9 5h0m12-4h0m5 3h0m11 0h0m6 0h0m4-4h0m23 6h0m30-1h0m7-3h0m-196 11h0m13 2h0m22-3h0m23 4h0m0-8h0m5 4h0m9 2h0m12 0h0m19-4h0m7 3h0m18-2h0m5-2h0m18 6h0m4-4h0m9 1h0m5-3h0m3 4h0m25-5h0m-188 11h0m6 3h0m3-4h0m6 0h0m17-2h0m11 6h0m15-5h0m11 0h0m8 6h0m2-6h0m14 5h0m18-2h0m13-3h0m12 7h0m10-6h0m2 6h0m11-6h0m7 2h0m6-3h0m5 1h0m-173 9h0m10 4h0m6 1h0m1-8h0m6 8h0m11-4h0m7-1h0m20 4h0m3-3h0m6 1h0m7-2h0m19 2h0m6-3h0m17-2h0m0 6h0m13 2h0m16 0h0m3-7h0m4 4h0m13-4h0m-159 12h0m7 0h0m17-3h0m5-1h0m9-1h0m9 5h0m8 1h0m1-5h0m9 1h0m18-2h0m6 5h0m7-2h0m5 2h0m4-4h0m8 5h0m6 0h0m9-1h0m16-2h0m5 2h0m6-4h0m-152 9h0m10 6h0m10-1h0m8 1h0m7-5h0m32 0h0m5 0h0m4 4h0m1-5h0m12 2h0m5-4h0m10 2h0m7 2h0m18-4h0m11 1h0m-124 11h0m30-2h0m18 2h0m6-2h0m9 2h0m15 3h0m16-5h0m20-1h0m-90 14h0m9-4h0m6 4h0m4-5h0m7 1h0m8-1h0m14 5h0m9-4h0m10 0h0m-70 10h0m8 1h0m12-1h0m4-4h0m5 2h0m13-1h0m21 5h0m8-7h0m8 2h0m3 4h0m2-5h0m-71 9h0m5 5h0m3-5h0m17 1h0m17-2h0m24 2h0m-68 5h0m4 4h0m26-4h0m1 8h0m5-6h0m4 5h0m1-6h0m6 4h0m9 1h0m5-2h0m7-2h0"/><path id="uODE0" d="M539 599h0m5 1h0m9-1h0m6 0h0m-17 7h0m8 1h0m15 1h0m-26 7h0m12-3h0m5-3h0m-7 9h0m8-1h0m11 2h0m-19 9h0m7 1h0m-41 8h0m49 2h0m1-6h0m6 2h0m6 5h0m0-6h0m5 5h0m-15 7h0m7 1h0m46-5h0m-39 8h0m4 8h0m5 2h0m8 3h0m-3 6h0m8 1h0m-1 6h0m8-1h0m9 11h0m-59 5h0"/><path id="uOVE0" d="M583 598h0m-9 8h0m5-3h0m6 2h0m7-1h0m8 3h0m8-3h0m5 1h0m-24 4h0m5 3h0m-7 8h0m4 4h0m4-6h0m11-2h0m7 7h0m4 5h0"/><path id="uODM20" d="M602 688h0m46 62h0m9 1h0m8 8h0m9-4h0m-12 11h0m18-2h0m8-3h0m-37 8h0m11 4h0m7 3h0m7-1h0m20-7h0m7 1h0m-15 9h0m15-1h0m-41 15h0m32 4h0m-35 14h0m13 16h0m26 8h0"/><path id="uODM0" d="M630 691h0m7 1h0m15 2h0m-26 2h0m3 8h0m10-4h0m14 3h0m5-7h0m4 8h0m-24 5h0m5 2h0m5-4h0m8 1h0m13 1h0m-40 10h0m5-1h0m0-5h0m16 7h0m5-5h0m1 11h0m14-6h0m12 0h0m4 4h0m6 0h0m-55 9h0m5 3h0m3-4h0m15-1h0m8 1h0m5-4h0m18 7h0m-42 4h0m5 2h0m16-2h0m7 0h0m6 8h0m8 1h0m4-3h0m10 1h0m-17 8h0m7-1h0"/><path id="uOVM0" d="M648 636h0m-11 9h0m9-4h0m8 3h0m-1 11h0m-13 9h0m4-7h0m4 4h0m6 1h0m16 2h0m-23 6h0m17-1h0m-22 9h0m20 0h0m7-5h0m5 2h0m11 2h0m-31 3h0m16 5h0m6 0h0m7-3h0m18 2h0m-19 11h0m7 0h0m8-3h0m14 2h0m11 1h0m-45 3h0m6 3h0m6 0h0m23-1h0m5-3h0m-30 10h0m11-1h0m10-1h0m9-1h0m-19 10h0m6 6h0m17-1h0m7-4h0m-25 13h0m11 0h0m6-4h0m6-2h0m-13 13h0m17-3h0m11 3h0m7-6h0m-26 9h0m10 2h0m6-1h0m16-1h0m-8 11h0m6 2h0m2-5h0m7-1h0m11 0h0m-14 12h0m14-3h0m-2 12h0m1 16h0m-36 8h0m29 20h0m-15 24h0m1 21h0m-30 20h0"/><path id="uONNE0" d="M727 702h0m6 0h0m19 0h0m6-4h0m4 6h0m-6 3h0m16 0h0m-4 12h0m23-5h0m6 1h0m4 4h0m7-1h0m-46 8h0m5-2h0m6-1h0m19-2h0m15 6h0m3-4h0m5 4h0m0-5h0m-32 10h0m29 0h0m19 2h0m-59 5h0m5 3h0m36 0h0m13-5h0m31 4h0m-81 7h0m36 2h0m14-2h0m6 3h0m4-6h0m7 1h0m5 3h0m-67 9h0m10-1h0m2-5h0m3 7h0m5-1h0m24 0h0m5-3h0m14 3h0m5-4h0m2 4h0m6 1h0m7-6h0m22 3h0m-109 7h0m9-2h0m1 7h0m12-4h0m6 2h0m7-1h0m9-4h0m8 2h0m18-1h0m14 0h0m5 4h0m8-2h0m5 3h0m3-6h0m9-1h0m6 4h0m-174 10h0m34 1h0m19-1h0m12-1h0m20-2h0m10-2h0m7-1h0m2 5h0m11 0h0m8-5h0m4 4h0m30 0h0m6-2h0m14-1h0m6 4h0m7-2h0m-168 10h0m14-1h0m15-1h0m15-1h0m34 0h0m3 4h0m4-3h0m36 2h0m6-1h0m24-4h0m13 1h0m-150 12h0m3-4h0m62 3h0m6 0h0m16-3h0m11 5h0m18-6h0m19 6h0m12-3h0m6 4h0m8-2h0m15-3h0m-177 8h0m29 3h0m22-4h0m52 2h0m6 2h0m17-4h0m5 2h0m13 0h0m4 3h0m6-1h0m5-3h0m10 2h0m8 0h0m4 3h0m1-6h0m5 7h0m-148 4h0m67-1h0m19-1h0m11 1h0m7-1h0m16 1h0m18 3h0m5-2h0m8 1h0m11 1h0m-116 3h0m32 3h0m20 3h0m6-1h0m6-1h0m9-3h0m15 3h0m11-5h0m6 3h0m7-1h0m18 4h0m-254 4h0m120 4h0m65 1h0m17-6h0m3 7h0m27-3h0m2-5h0m7 1h0m5 3h0m6 1h0m-123 7h0m21-3h0m41 6h0m3-7h0m19 3h0m12 4h0m8-4h0m6 2h0m8-4h0m6 2h0m-93 7h0m39 3h0m22-1h0m12-4h0m5 4h0m9 3h0m0-6h0m18 4h0m4 3h0m-258 8h0m149 0h0m17-3h0m6-1h0m10-1h0m12-2h0m7 3h0m14-2h0m5 1h0m3 5h0m5-7h0m5 3h0m6 0h0m12 3h0m-277 7h0m6-6h0m28 4h0m144 1h0m21-3h0m33 5h0m35-3h0m21-1h0m3 4h0m-258 3h0m126 4h0m7-5h0m5 4h0m6 0h0m11 0h0m7-3h0m10-1h0m13 2h0m5 3h0m11-1h0m6-5h0m25 1h0m11 4h0m11-1h0m-136 6h0m20 3h0m12-3h0m13 5h0m9 0h0m3-4h0m6 4h0m5-4h0m11 3h0m5 2h0m11-2h0m5-5h0m1 6h0m18-2h0m6 0h0m5-4h0m5 6h0m5-2h0m-135 6h0m22-2h0m8 1h0m5 2h0m7 1h0m10-2h0m6 1h0m27-2h0m4 2h0m7 3h0m5-2h0m26-1h0m11-1h0m-138 9h0m36-3h0m31 5h0m4-5h0m18 1h0m3 4h0m7-3h0m15-2h0m3 5h0m17 2h0m-148 7h0m28-1h0m7 1h0m3-6h0m4 4h0m6-3h0m28 0h0m3 5h0m5-4h0m4 3h0m19-1h0m10 1h0m12-3h0m7-1h0m-277 7h0m154 5h0m0-6h0m6 3h0m11 1h0m6 3h0m41-2h0m15-1h0m15-2h0m8 4h0m15-2h0m12-3h0m-283 7h0m159 4h0m23 0h0m12-2h0m3 6h0m3-6h0m11 6h0m18-7h0m0 5h0m8 1h0m0-6h0m14 1h0m13 0h0m15 0h0m-111 9h0m8 2h0m7-4h0m6 2h0m4 3h0m7 2h0m3-8h0m13 3h0m5 0h0m8 5h0m5-2h0m28-2h0m-269 8h0m171-1h0m4 4h0m15-5h0m35-2h0m5 1h0m12 2h0m17-2h0m6 4h0m-116 9h0m8-4h0m32 2h0m11-4h0m5 3h0m7 0h0m19 0h0m14-2h0m2 5h0m4-4h0m-254 11h0m150 1h0m17-1h0m5-2h0m9 3h0m3-4h0m5 3h0m13 0h0m16-3h0m10 5h0m6-4h0m8 2h0m6-2h0m7 2h0m5-5h0m-95 12h0m12 3h0m59-6h0m2 5h0m11-3h0m7 1h0m-241 8h0m132 3h0m11 0h0m3-6h0m15 3h0m18-1h0m12 5h0m9-1h0m5-6h0m1 6h0m20-3h0m9-2h0m-167 14h0m50-4h0m22 0h0m12 1h0m9 1h0m10-3h0m5-2h0m3 4h0m11 3h0m8-4h0m5 4h0m15 0h0m5-3h0m5-4h0m-247 9h0m44 3h0m94-1h0m6 0h0m41 0h0m13 3h0m7-3h0m27-2h0m7 5h0m-233 8h0m72-2h0m60 3h0m7-3h0m11-3h0m7 3h0m19-2h0m6 0h0m8 2h0m11 3h0m0-6h0m7 2h0m6 0h0m6 1h0m6-5h0m-232 9h0m4 5h0m118-2h0m5-3h0m16 5h0m5-2h0m9 1h0m7-2h0m13 3h0m7-2h0m5-4h0m4 3h0m34 5h0m-223 3h0m107 5h0m6-1h0m52-5h0m9 1h0m10 0h0m5 1h0m9 0h0m9-2h0m7 4h0m-150 10h0m55-3h0m22-4h0m3 6h0m7-5h0m4 4h0m13-1h0m11 1h0m17-4h0m6 5h0m-130 3h0m40 5h0m11-1h0m32 1h0m7-6h0m2 5h0m17-1h0m-72 10h0m6-2h0m19 3h0m2-7h0m29 4h0m20-3h0m9-2h0m5 3h0m8-1h0m-120 12h0m6 0h0m34-3h0m9 2h0m25 1h0m33 1h0m-136 7h0m39 1h0m22-4h0m9 4h0m2-6h0m6 7h0m11-7h0m8 4h0m5-2h0m15-3h0m5 1h0m-138 15h0m5-1h0m47-4h0m7 0h0m19 4h0m6-1h0m23-3h0m14-3h0m-127 11h0m25-2h0m12 0h0m34 1h0m3 4h0m6-5h0m5 4h0m7-2h0m3 5h0m8-4h0m6 2h0m1-6h0m17 7h0m6-7h0m-80 8h0m7 3h0m5-3h0m20 5h0m27 2h0m10-6h0m3 4h0m-109 7h0m18-3h0m5 0h0m8 7h0m16-3h0m5 2h0m3-6h0m8 0h0m9 4h0m6-4h0m13 4h0m-81 9h0m5-2h0m30 4h0m0-6h0m6 2h0m-48 5h0m19 5h0m10-4h0m8 0h0m8 2h0m5 3h0m11-6h0m-22 13h0"/><path id="uONE0" d="M802 752h0m-24 16h0m13-5h0m44 0h0m71 3h0m-125 6h0m79 2h0m-135 5h0m8 0h0m-4 9h0m5-1h0m6-2h0m11 0h0m23 2h0m5 3h0m23-6h0m12 5h0m-61 9h0m20-5h0m24 3h0m19-2h0m17 0h0m3 4h0m7-1h0m4 3h0m25 0h0m16 0h0m-179 3h0m20-1h0m7-1h0m3 6h0m7-7h0m7 7h0m39-6h0m20 3h0m5 3h0m11-4h0m-98 12h0m6-1h0m7-2h0m15-1h0m4 4h0m4-3h0m19-1h0m24 4h0m2-5h0m6 2h0m9-3h0m29 5h0m11 1h0m16-4h0m-144 8h0m11 2h0m7-2h0m6 1h0m7-3h0m9 2h0m14 5h0m12-6h0m22 1h0m6 3h0m34-1h0m11 3h0m2-6h0m39 5h0m15-2h0m-205 4h0m5 1h0m18 0h0m6 1h0m6 0h0m6-2h0m8 6h0m9-3h0m8 0h0m15 0h0m6-3h0m8 0h0m7 3h0m12-1h0m82 2h0m-189 9h0m15 1h0m29-1h0m25-3h0m4 3h0m10 0h0m7 0h0m13-1h0m14-2h0m6 3h0m12-2h0m-154 6h0m22 5h0m5-5h0m12 1h0m26 1h0m5 0h0m8 2h0m12-1h0m14-2h0m9 0h0m8 0h0m11-1h0m7 2h0m5 1h0m-210 10h0m83-3h0m11 4h0m5-3h0m14 3h0m3-5h0m11-2h0m13 1h0m8 0h0m36 4h0m8-6h0m2 7h0m4-6h0m5 2h0m37-3h0m-181 14h0m11-5h0m5 2h0m5-2h0m16 4h0m12-3h0m16 3h0m7 1h0m24 1h0m6-3h0m28 3h0m9-1h0m1-5h0m39 1h0m-158 8h0m5-2h0m14 3h0m4 5h0m10-6h0m25 4h0m4-3h0m4 4h0m4-6h0m3 5h0m15-5h0m3 4h0m13-2h0m8 2h0m18-1h0m21-1h0m-169 11h0m6 1h0m18-3h0m8 0h0m4-3h0m9 4h0m9-4h0m22 6h0m6-2h0m6-2h0m5 0h0m61 3h0m-183 5h0m48 3h0m15 0h0m13 2h0m5-5h0m33 2h0m4-5h0m19 7h0m14-7h0m6 5h0m29-1h0m36 1h0m-195 5h0m13 3h0m4 3h0m6-5h0m23 1h0m11-2h0m29 1h0m8 0h0m6 3h0m5-6h0m6 6h0m-112 7h0m16 0h0m6 0h0m13-1h0m15-2h0m19 5h0m8 0h0m9 1h0m9-8h0m6 6h0m5-3h0m7 1h0m32-1h0m-137 12h0m5-6h0m3 4h0m6 2h0m4-4h0m9 2h0m5-1h0m9-3h0m12 4h0m12-2h0m3 5h0m48-4h0m5-4h0m41 6h0m-181 8h0m5-4h0m3 6h0m6-4h0m15-1h0m5 2h0m10-2h0m4 5h0m1-7h0m26 6h0m3-6h0m5 3h0m8 1h0m24-3h0m7-1h0m10 3h0m7 0h0m-121 4h0m5 2h0m6 3h0m8 0h0m6-1h0m15 1h0m7-5h0m4 4h0m7 4h0m10-8h0m3 6h0m6-3h0m22 4h0m16 1h0m12-8h0m0 8h0m6-7h0m-170 12h0m15-2h0m14 0h0m6 5h0m15-6h0m14-1h0m5 0h0m11 7h0m3-5h0m19-2h0m11-1h0m13 2h0m2 5h0m11-1h0m20 2h0m28-7h0m-176 13h0m11 0h0m6-4h0m5 3h0m22-1h0m8-3h0m6 3h0m11 1h0m11-3h0m8 0h0m14-1h0m4 5h0m13-1h0m4-3h0m5 6h0m20-3h0m72 2h0m-220 7h0m6 1h0m18-5h0m10 2h0m10-1h0m20-1h0m13 4h0m10-4h0m15 1h0m10-3h0m11 4h0m12-3h0m-134 12h0m53 2h0m2-7h0m7 0h0m5 1h0m30 0h0m5 0h0m8 4h0m19 0h0m5 0h0m6 0h0m-135 9h0m4 2h0m24-6h0m6 0h0m3 5h0m2-6h0m6 6h0m5 1h0m3-5h0m9-3h0m14 3h0m9-2h0m5 4h0m25-5h0m28 5h0m-140 9h0m7-6h0m5 4h0m41 2h0m18 1h0m8-1h0m7 0h0m9-2h0m7-2h0m4 5h0m2-7h0m7 2h0m6-2h0m20 4h0m-132 8h0m25 4h0m10-2h0m10 2h0m9-3h0m12-1h0m19 2h0m23-4h0m7 5h0m8-5h0m-131 11h0m28-3h0m10-2h0m1 7h0m6-2h0m9 0h0m19 1h0m32-3h0m-126 11h0m49-3h0m44 2h0m23-4h0m21 0h0m1 6h0m14-4h0m-137 5h0m4 4h0m6-1h0m24 4h0m5-3h0m5-4h0m23 2h0m12 4h0m15 1h0m18-3h0m23 0h0m-126 10h0m6 1h0m12-4h0m6 4h0m4-2h0m10-5h0m6 4h0m5 2h0m9-2h0m14 0h0m6-4h0m7 7h0m8-2h0m47 0h0m50-3h0m-183 12h0m13-3h0m12 1h0m26 2h0m6-5h0m5 1h0m25 3h0m-64 7h0m5 1h0m9-4h0m9 1h0m39 2h0m13 0h0m-81 4h0m5 1h0m4 2h0m12-1h0m11 1h0m27 2h0m-35 9h0m14-4h0m13-1h0m5 3h0m-35 8h0m73 4h0m-76 0h0m4 7h0m3-5h0"/><path id="uUC1" d="M532 359h0m11 1h0m5-1h0m-27 9h0m32 4h0m-37 11h0m7-2h0m18 1h0m3-6h0m11 0h0m6 1h0m4 5h0m15-4h0m8 1h0m-76 8h0m11 4h0m16-3h0m9 0h0m29-2h0m25 6h0m1-6h0m-90 6h0m52 6h0m15-5h0m13 3h0m10 1h0m5-1h0m-99 9h0m5 2h0m2-5h0m56 6h0m8-6h0m14 6h0m7-1h0m6-6h0m5 2h0m-100 9h0m6-1h0m13 4h0m9 0h0m2-6h0m46 2h0m13 2h0m10 3h0m4-8h0m5 3h0m-92 12h0m7-3h0m17 3h0m3-5h0m13 4h0m2-5h0m6 5h0m13-3h0m5 5h0m5-3h0m6 2h0m9 0h0m6-6h0m8 5h0m-121 9h0m6-6h0m1 5h0m11 1h0m6 0h0m2-5h0m6 1h0m21 1h0m5-1h0m5 3h0m4-3h0m4 3h0m9-6h0m5 8h0m5-4h0m6 0h0m12 4h0m-97 3h0m12 2h0m5 2h0m21-2h0m11 3h0m23-3h0m28 1h0m-121 4h0m32 0h0m11 2h0m34 0h0m5-3h0m14 4h0m4-5h0m4 5h0m5 3h0m6-2h0m-116 3h0m9 7h0m12-4h0m7 2h0m4-5h0m3 5h0m8-3h0m8-1h0m6 2h0m7-3h0m16 4h0m13 1h0m0-5h0m10 2h0m5 2h0m-131 10h0m25 1h0m18-2h0m6-1h0m20 2h0m4-7h0m12 2h0m25 1h0m9 2h0m6-1h0m-127 10h0m5 1h0m26-1h0m18-3h0m15-3h0m1 6h0m5 0h0m9-4h0m2 5h0m4-6h0m5 0h0m7 1h0m9 0h0m6 0h0m5 1h0m7-1h0m-115 9h0m23 1h0m9 0h0m13-3h0m10 7h0m6-2h0m5-4h0m11 6h0m18-6h0m7 4h0m5-5h0m11-1h0m-119 14h0m2-5h0m10 4h0m27-3h0m7 0h0m19 1h0m6-2h0m2 5h0m-71 9h0m2-5h0m6 1h0m5 4h0m2-6h0m32 1h0m16 4h0m2-5h0m-162 14h0m74 1h0m5-1h0m9-3h0m15 2h0m27-3h0m5 1h0m16 2h0m0-5h0m5 2h0m-92 11h0m5-4h0m34 2h0m9-4h0m8 6h0m2-5h0m3 5h0m5-4h0m7-1h0m6 1h0m3 5h0m5-3h0m-94 11h0m4-4h0m7 2h0m5 2h0m5 0h0m21-7h0m7 0h0m12 4h0m14 0h0m6-2h0m-74 12h0m5-4h0m12 5h0m8-3h0m5 3h0m1-6h0m14 5h0m5-1h0m21-5h0m-106 12h0m5 0h0m6-2h0m4 4h0m13-4h0m6 1h0m9 1h0m278-3h0m-294 11h0m20-2h0m5 4h0m15-5h0m226 4h0m12-2h0m8 1h0m18 0h0m-340 11h0m9-7h0m3 4h0m18-2h0m14 2h0m5 0h0m6-4h0m2 6h0m5-3h0m224 5h0m6-1h0m8-2h0m7 2h0m18-1h0m7-1h0m5-2h0m10 2h0m-353 4h0m19 1h0m11 3h0m6 1h0m19-4h0m6 1h0m228 1h0m8 4h0m6-5h0m4 4h0m5-2h0m8-5h0m10 4h0m10 2h0m13-4h0m7 0h0m-317 8h0m6 3h0m7-2h0m232-2h0m6 3h0m6 3h0m4-3h0m10 1h0m14 0h0m4-4h0m6 2h0m14-1h0m6 1h0m4 4h0m-313 7h0m54-5h0m179 2h0m20 3h0m5-1h0m10 0h0m7-3h0m12 2h0m9 4h0m21-4h0m-72 11h0m16-1h0m7-3h0m7-3h0m8 6h0m21-1h0m-223 9h0m23 1h0m6 0h0m14-1h0m45 1h0m5-1h0m9-3h0m11 2h0m6-2h0m13-3h0m58 5h0m6 0h0m7-2h0m19 2h0m8-4h0m-127 8h0m5 0h0m84 5h0m12-5h0m3 5h0m-225 9h0m209-3h0m6-2h0m6 2h0m12-3h0m-55 9h0m55 3h0m-298 4h0m252 1h0m72 2h0"/><path id="uIDE1" d="M286 423h0m13-7h0m1 6h0m-52 5h0m4-2h0m11 0h0m3 5h0m7-2h0m7-4h0m14 6h0m19-3h0m11-2h0m-83 12h0m5 0h0m8-3h0m7 3h0m6-1h0m5 4h0m5-3h0m30 1h0m5 0h0m6 2h0m-94 6h0m8-5h0m5 0h0m6 2h0m1 5h0m21-6h0m28 4h0m7 0h0m9 0h0m14-5h0m5 4h0m5 2h0m-100 3h0m6 6h0m18-7h0m5-1h0m5 7h0m20 1h0m22-2h0m5-2h0m10 1h0m12 0h0m-119 6h0m5 2h0m16 0h0m17 0h0m27-2h0m4 4h0m7-7h0m13 4h0m5 0h0m5 4h0m21-6h0m-126 13h0m13-4h0m8 0h0m5-1h0m42 0h0m17 5h0m5-4h0m9 3h0m5 2h0m8-6h0m8 2h0m5 1h0m-127 8h0m6-1h0m8-3h0m48 5h0m16 2h0m27-2h0m-116 6h0m6 0h0m5-1h0m5 0h0m4 4h0m16-3h0m9 3h0m3-5h0m6 3h0m4-3h0m10 4h0m14-3h0m8 5h0m18-2h0m7 1h0m6-7h0m1 5h0m5-2h0m9 4h0m-136 3h0m12 4h0m32-1h0m20-1h0m6 1h0m6-2h0m13 3h0m11-1h0m21-2h0m10-3h0m-124 11h0m7 3h0m14-5h0m7 5h0m8-1h0m7-4h0m8 5h0m1-6h0m8 1h0m19 2h0m23-1h0m11 1h0m6 0h0m6 2h0m4-5h0m1 7h0m6-7h0m43 6h0m-187 7h0m7-5h0m4 3h0m15-2h0m20 4h0m2-5h0m10 5h0m12-4h0m7 2h0m13-2h0m16 2h0m6 5h0m-117 3h0m5 2h0m6-3h0m6-1h0m7-1h0m7 0h0m4 7h0m16-2h0m23-3h0m17 4h0m19-5h0m9 4h0m14-4h0m11 2h0m5-1h0m-154 10h0m6-1h0m18 0h0m5 2h0m8 1h0m8-4h0m11 2h0m12 3h0m12-6h0m2 5h0m4-5h0m6 6h0m18-2h0m22-3h0m5 1h0m17-3h0m-163 15h0m5-1h0m22-2h0m6-3h0m5 2h0m6 0h0m7-2h0m10 0h0m69 6h0m7-6h0m3 5h0m3-6h0m3 5h0m-144 7h0m4 3h0m8-1h0m6 0h0m8-4h0m6 1h0m4 5h0m16-1h0m38-2h0m6 0h0m19 2h0m6-5h0m6 3h0m8-2h0m13 0h0m25 3h0m-179 3h0m18 3h0m6 3h0m8-5h0m3 5h0m11-4h0m5-2h0m7 5h0m4-4h0m25 1h0m6-1h0m7 1h0m15-1h0m12-2h0m3 5h0m26-2h0m13 1h0m-177 4h0m14 8h0m9-2h0m12-2h0m11-1h0m8 1h0m16 0h0m27-3h0m7 3h0m26 2h0m7-1h0m5-4h0m7 0h0m13 0h0m5 6h0m8-5h0m13 6h0m8-4h0m15-4h0m-207 13h0m26 3h0m9-5h0m18 2h0m16-3h0m1 6h0m5-4h0m7 4h0m5-7h0m1 7h0m49-7h0m4 5h0m4-5h0m9 2h0m11 3h0m13-2h0m15 0h0m6 0h0m-203 5h0m6 4h0m44-2h0m5 2h0m5 3h0m1-6h0m36 0h0m44 5h0m6 0h0m2-5h0m6 4h0m5-4h0m24 1h0m15-1h0m5 2h0m-203 6h0m26 3h0m7-4h0m9 0h0m22 0h0m20 4h0m59-1h0m18 0h0m7 2h0m9-1h0m5-2h0m-197 6h0m15 0h0m12 1h0m4 4h0m1-6h0m7 5h0m18-2h0m10 2h0m6-3h0m20 3h0m33-1h0m26 3h0m6-5h0m33 1h0m2 5h0m10-5h0m17 1h0m7-2h0m1 6h0m-235 4h0m16 3h0m35-6h0m28 0h0m57 3h0m32 2h0m13-2h0m35 3h0m8-5h0m-224 7h0m16 5h0m34-6h0m34 5h0m15-4h0m97 3h0m9 3h0m19 0h0m4-5h0m8 3h0m-226 4h0m22 4h0m21-5h0m8 3h0m19 1h0m80 1h0m6 0h0m10-3h0m13 2h0m3-4h0m5 1h0m7 4h0m7-2h0m7-1h0m-189 7h0m21-1h0m29 5h0m13-4h0m71 1h0m39 2h0m5 2h0m8-2h0m6 2h0m-135 6h0m84 0h0m42-3h0m21 4h0m-215 5h0m68 0h0m128 5h0m1-7h0m-137 15h0m19-1h0m77-3h0m16-2h0m7 4h0m4-5h0m5 1h0m15 3h0m5 3h0m-32 7h0m12-1h0m5-2h0m3 4h0m4-7h0m2 5h0m11-3h0m0 5h0m-35 4h0m7 3h0m22-1h0m-57 8h0m18 2h0m23 0h0m2-6h0m4 5h0m-41 7h0m12 2h0m11-6h0m8 3h0m37 1h0m1 1h0m-74 6h0m20-2h0m6 3h0m8 3h0m4-6h0m7 1h0m9-2h0m-55 13h0m28 2h0m5 3h0m10-2h0m-18 33h0"/><path id="uIVE1" d="M286 541h0m-104 12h0m67 6h0m28-2h0m4-3h0m8 0h0m-11 12h0m20-1h0m20 1h0m-61 7h0m11 0h0m17-4h0m14 1h0m44 0h0m-106 10h0m6 1h0m15-1h0m4-4h0m1 7h0m4-4h0m5-2h0m5 4h0m9-3h0m6 3h0m7-3h0m18 4h0m25-6h0m-84 15h0m14-1h0m50-3h0m9-2h0m-99 12h0m7-1h0m15 4h0m8-5h0m30 2h0m38-4h0m-67 7h0m2 5h0m8-1h0m5-1h0m28 3h0m5-3h0m8 0h0m-73 13h0m4-6h0m5-1h0m6 6h0m25-2h0m30 1h0m203-1h0m-267 5h0m2 4h0m29-3h0m17 1h0m18-1h0m9-3h0m6 2h0m2 5h0m-117 7h0m33-3h0m7 4h0m3-6h0m25 2h0m4 4h0m7-5h0m28-1h0m11 4h0m-87 6h0m40 3h0m20-5h0m10 3h0m-93 4h0m10 2h0m13 4h0m10 0h0m10-6h0m12 6h0m0-5h0m11 4h0m13 0h0m23 3h0m21-2h0m-158 9h0m52-3h0m13 3h0m4-4h0m4 4h0m31-2h0m-23 8h0m4-4h0m6 5h0m18-5h0m7 2h0m39-3h0m-90 9h0m11 0h0m30 2h0m10-2h0m60 3h0m-138 10h0m74-5h0m2 17h0m-27 7h0"/><path id="uIDM1" d="M186 596h0m-20 10h0m4 5h0m15 0h0m6 0h0m-31 10h0m15 3h0m-24 5h0m2-5h0m17 5h0m-30 9h0m2-6h0m4 6h0m6-2h0m19 3h0m8-3h0m4 4h0m2-7h0m8 3h0m-57 12h0m10-3h0m6 2h0m15-2h0m6 1h0m18 2h0m-60 0h0m10 5h0m27 0h0m7 0h0m8 1h0m4-3h0m-45 9h0m16 0h0m5-3h0m8 2h0m8 3h0m6-2h0m52 2h0m-109 3h0m6 0h0m6 0h0m9 5h0m6-1h0m18-1h0m13 2h0m10-1h0m-69 7h0m27 0h0m18-3h0m17 3h0m3-3h0m-56 10h0m11 1h0m6 4h0m3-6h0m3 6h0m13-1h0m7 0h0m5-2h0m16-2h0m-64 9h0m3 4h0m41-2h0m17-1h0m33 0h0m-105 9h0m6-3h0m5 5h0m4-3h0m15 0h0m6-1h0m14-2h0m30-1h0m20 1h0m-101 12h0m34-1h0m18-3h0m-59 11h0m8-1h0m5-2h0m5 1h0m8 0h0m9-2h0m7 2h0m6 1h0m5-3h0m7 7h0m-49 3h0m7 0h0m9-2h0m29 5h0m10-6h0m-65 11h0m5 3h0m5 1h0m19 0h0m22-5h0m40 1h0m-89 8h0m19 3h0m3-5h0m3 4h0m8-5h0m2 8h0m10-5h0m10-1h0m5 4h0m-60 3h0m7 7h0m7-7h0m18 5h0m8 1h0m16-4h0m15 2h0m-73 10h0m15-4h0m5 1h0m7 4h0m50-2h0m-73 6h0m12 4h0m3-5h0m16 3h0m-36 7h0m4-4h0m28 1h0m9 0h0m9 5h0m5-1h0m12 1h0m-67 8h0m5-4h0m9 1h0m17-3h0m2 5h0m15 1h0m15-3h0m12-3h0m-66 9h0m3 5h0m15-6h0m10 6h0m7-4h0m25 0h0m9-2h0m-76 9h0m17 2h0m5-3h0m11 3h0m6 1h0m6 1h0m6-4h0m7 1h0m40 2h0m-99 3h0m7 1h0m17 5h0m5-1h0m16 1h0m-44 7h0m10 1h0m8-6h0m9 2h0m21 1h0m16 3h0m6-1h0m-66 4h0m8 6h0m3-5h0m8-2h0m22 5h0m-48 11h0m4-4h0m11 1h0m18-2h0m9 4h0m1-6h0m6 3h0m3-4h0m23 2h0m18 4h0m-92 10h0m12-4h0m6-4h0m1 6h0m10-3h0m47 3h0m8-1h0m-75 10h0m3-6h0m6 4h0m10-4h0m13 3h0m11 1h0m7 1h0m7-4h0m6 2h0m6-1h0m17 1h0m-97 11h0m5-5h0m9 3h0m7-2h0m24 3h0m6-2h0m5 2h0m15-5h0m13 1h0m7 2h0m-91 10h0m11-2h0m9 3h0m29-5h0m6 5h0m7-4h0m10 1h0m-70 10h0m5 1h0m3-6h0m5 2h0m9-1h0m14 5h0m0-6h0m12 7h0m7-2h0m30-5h0m-93 11h0m7 0h0m5 3h0m28-2h0m5 0h0m12 1h0m11-4h0m8 1h0m30-2h0m-76 10h0m6 3h0m5-4h0m7 3h0m8-1h0m5 1h0m15 1h0m12-2h0m-85 11h0m9-3h0m9 4h0m2-7h0m8 1h0m8 3h0m11-2h0m16 2h0m5 3h0m14 0h0m6-3h0m-82 5h0m11 3h0m5 1h0m21 1h0m2-5h0m33 4h0m7-2h0m7 0h0m-96 5h0m6 1h0m2 5h0m5 1h0m26-1h0m3-4h0m13 3h0m5 1h0m8-6h0m4 4h0m-77 4h0m2 6h0m3-4h0m8 3h0m8 0h0m10-1h0m12 2h0m7-6h0m-44 11h0m15 0h0m17-3h0m4 5h0m-29 7h0m8-3h0m4 5h0m5-3h0m11-1h0m18 0h0m5 2h0m12 0h0m-48 6h0m5-2h0m0 5h0m11-6h0m1 6h0m18-1h0m7 0h0m11 1h0m-48 10h0m12-1h0m22-4h0m22 1h0m-51 12h0m18-2h0m5-3h0m9-3h0m6 0h0m-37 14h0m6-3h0m4 3h0m19-5h0m-42 12h0m43 1h0m6 2h0m-43 8h0m18-3h0m-31 15h0m28-3h0"/><path id="uIVM1" d="M233 569h0m0 41h0m10 0h0m25 0h0m-86 7h0m14 5h0m18 0h0m5-4h0m-10 14h0m16-2h0m-20 8h0m49-2h0m18-2h0m-74 6h0m6 4h0m9 4h0m3-5h0m35-3h0m-54 15h0m11 0h0m15 1h0m8-5h0m59 1h0m15 1h0m-93 8h0m4-4h0m12 2h0m16 3h0m5-2h0m-63 5h0m28 4h0m12 2h0m6-1h0m24 0h0m5-2h0m6 2h0m-72 8h0m10-4h0m10 2h0m6-4h0m13 3h0m13 1h0m5-2h0m31 5h0m30-1h0m26-1h0m-167 5h0m24 5h0m13-5h0m9 1h0m13 4h0m2-6h0m4 5h0m6-4h0m4 6h0m5 0h0m9-1h0m6-2h0m7-4h0m2 5h0m6-2h0m9 3h0m5-2h0m13 2h0m-98 3h0m9-1h0m6 0h0m38 3h0m6-2h0m6 1h0m11 5h0m9-3h0m7 3h0m17-1h0m9-1h0m5-2h0m5-3h0m-145 9h0m6 3h0m36 0h0m10 1h0m14-2h0m5-1h0m21 3h0m25-2h0m-143 6h0m49 2h0m13-3h0m5 3h0m17-3h0m6 5h0m6 1h0m10-5h0m17 4h0m5-3h0m14 3h0m17-4h0m5 2h0m5 0h0m4-4h0m9 2h0m-148 8h0m4 5h0m10-2h0m13-3h0m10 6h0m37-2h0m28-3h0m5 4h0m5-5h0m8 3h0m3-5h0m10 3h0m5-2h0m23 1h0m-179 13h0m21-1h0m9-3h0m20-2h0m2 6h0m19-4h0m7-1h0m10 2h0m9 3h0m4-4h0m11 4h0m10-2h0m20-1h0m24 2h0m14-2h0m-177 10h0m4-4h0m3 4h0m29-5h0m20 3h0m4-3h0m23 1h0m5 1h0m9 1h0m9 2h0m7-2h0m22-1h0m11 2h0m10-1h0m7 3h0m6-1h0m0-6h0m7 1h0m-165 14h0m24-1h0m4-4h0m18 5h0m19-2h0m7 3h0m7-8h0m9 5h0m13-4h0m5 2h0m27 3h0m16-2h0m8 0h0m-111 8h0m8 4h0m2-6h0m27-1h0m18 6h0m12-1h0m8-3h0m13 2h0m4-3h0m6 3h0m17 0h0m-169 6h0m10 4h0m8-6h0m5 3h0m25-3h0m9 1h0m7 3h0m6-2h0m5 4h0m7 0h0m19 0h0m20 1h0m21-1h0m6-4h0m10-1h0m3 5h0m12 0h0m-163 6h0m13-2h0m4 5h0m3-5h0m6-3h0m10 8h0m4-4h0m7-2h0m6 2h0m17 1h0m8-2h0m8 1h0m13-3h0m7 4h0m17 0h0m5 3h0m6-2h0m11-4h0m17 3h0m-168 4h0m35 6h0m3-5h0m10 0h0m8 2h0m5-2h0m5 6h0m13-2h0m18-3h0m12 0h0m7 2h0m8 0h0m5-1h0m9 0h0m12-3h0m19 2h0m-177 10h0m12-1h0m4 3h0m16-2h0m2-5h0m4 6h0m31-4h0m11-1h0m22 2h0m13 1h0m13-3h0m1 6h0m55-1h0m-191 4h0m21 5h0m30 0h0m7-5h0m23 3h0m11-3h0m6 3h0m22-1h0m7 1h0m23-3h0m5-1h0m7 3h0m4 3h0m16-2h0m7 1h0m5-2h0m-185 7h0m10 3h0m5-2h0m19-2h0m16 4h0m1-5h0m13-1h0m33 1h0m9 1h0m7 2h0m18 1h0m1-5h0m4 7h0m5-3h0m24-2h0m22 6h0m-185 0h0m27 7h0m5-6h0m5 2h0m7 0h0m6 4h0m8 0h0m4-5h0m3 6h0m4-6h0m5 1h0m5 2h0m3-5h0m6 3h0m3 4h0m18-1h0m19-3h0m15-2h0m21 4h0m17-2h0m8 3h0m-217 8h0m33-6h0m7 6h0m11 0h0m8-4h0m15 1h0m9 2h0m7 0h0m14 0h0m20-3h0m1 5h0m6-1h0m7-1h0m5-4h0m31 4h0m7 0h0m15 0h0m2-5h0m9 0h0m-171 15h0m0-6h0m84 6h0m20 0h0m14-3h0m12 2h0m4-5h0m1 6h0m6-5h0m14 0h0m5 1h0m5-1h0m6 3h0m-169 7h0m16 2h0m23 1h0m21 1h0m4-5h0m8 4h0m2-5h0m13-2h0m44 8h0m11-6h0m18 3h0m10-1h0m-189 9h0m6-1h0m22 0h0m10 3h0m27-6h0m12 5h0m26 1h0m4-5h0m6-1h0m5 2h0m15-1h0m19 3h0m9-1h0m5-2h0m19-2h0m19 7h0m-180 4h0m11 4h0m23-5h0m7 0h0m25 3h0m5 3h0m14-5h0m5 3h0m5-2h0m31-3h0m4 6h0m2-7h0m3 6h0m9 0h0m4-3h0m21 0h0m5 4h0m-167 4h0m5 4h0m9-6h0m6 5h0m15-6h0m46 3h0m25-2h0m6-1h0m3 5h0m11-1h0m25 3h0m3-5h0m12 4h0m7 0h0m-176 6h0m27-2h0m32 0h0m1 5h0m19-4h0m7-2h0m1 5h0m7 0h0m9-5h0m7 4h0m5-3h0m12 4h0m6 2h0m4-8h0m3 5h0m29 1h0m7-1h0m-178 11h0m11-4h0m5 3h0m17-2h0m13 1h0m4-4h0m6 0h0m11-2h0m10 3h0m22 4h0m31-4h0m9 0h0m5-1h0m15 3h0m14-1h0m16 0h0m-200 11h0m11-2h0m19 0h0m12 2h0m6-6h0m5 6h0m8-5h0m6-1h0m4 4h0m10-2h0m10-1h0m14 0h0m6 4h0m5-2h0m9-2h0m28-2h0m14 2h0m0 6h0m18-6h0m10 0h0m-165 9h0m7-2h0m5 5h0m14 1h0m32-5h0m29 0h0m4 6h0m9-6h0m8 1h0m19 3h0m2-5h0m5 3h0m17 4h0m15-2h0m1-6h0m6 3h0m-204 7h0m13 5h0m9-1h0m31-1h0m7 2h0m10-5h0m2 4h0m20-1h0m5 3h0m11-2h0m0-5h0m9-1h0m12 3h0m5-2h0m3 6h0m3-6h0m6 1h0m27-2h0m6 5h0m-212 8h0m13-2h0m48 1h0m6 4h0m1-5h0m11 3h0m20-3h0m14 1h0m5-2h0m9 4h0m8 1h0m15-4h0m15-2h0m3 6h0m11-7h0m14 3h0m18 2h0m15-3h0m10 2h0m-189 6h0m10 3h0m44 1h0m5-5h0m13 1h0m10 1h0m12-1h0m16 3h0m6-3h0m4 5h0m4-4h0m8 4h0m16-6h0m5 4h0m36-1h0m7 4h0m-198 5h0m27 2h0m4-4h0m9 5h0m25-1h0m9 0h0m27-4h0m14 0h0m22 0h0m3 5h0m6-1h0m15-4h0m6 2h0m5-1h0m10 2h0m10-4h0m8 5h0m4-4h0m7 5h0m5-2h0m-243 6h0m29 1h0m18-3h0m4 5h0m15 1h0m7 0h0m9-6h0m7 6h0m29-7h0m4 5h0m24-4h0m6 0h0m24 1h0m11-2h0m3 4h0m6 1h0m6-4h0m13 5h0m7-3h0m20 3h0m-273 4h0m25 4h0m18-6h0m22-1h0m6 2h0m8 1h0m8 4h0m13-1h0m7 0h0m7 0h0m7-1h0m14 0h0m9-5h0m6 2h0m18 5h0m21-1h0m8-5h0m7 1h0m16 6h0m5-5h0m5 0h0m10 2h0m7 0h0m4-3h0m9 0h0m-228 8h0m7-1h0m19 4h0m13-5h0m6 6h0m10 0h0m5-3h0m28 4h0m4-3h0m10 0h0m8 4h0m6-7h0m27 6h0m8-4h0m13-2h0m5 6h0m2-6h0m14 5h0m10-6h0m12 4h0m7 2h0m15 1h0m13 0h0m9-6h0m2 5h0m-246 10h0m9-1h0m13 1h0m9-3h0m7 1h0m17-3h0m11 2h0m4-4h0m5 0h0m7 4h0m5 3h0m1-6h0m6 1h0m20 2h0m20-1h0m6 2h0m4-6h0m4 6h0m4-4h0m26 2h0m19 1h0m4-3h0m11 5h0m5-4h0m10 1h0m-227 12h0m12-4h0m6 3h0m19-4h0m13 3h0m3-5h0m9 5h0m55-4h0m14-2h0m27 2h0m7 2h0m14 2h0m0-5h0m6 4h0m7 3h0m7-5h0m30 1h0m7 0h0m6-2h0m3 5h0m5-6h0m-249 14h0m13-4h0m4 3h0m15-6h0m5 5h0m8-2h0m21 3h0m6-6h0m1 6h0m6-3h0m3 5h0m3-7h0m11 3h0m8-2h0m12-2h0m2 7h0m14 0h0m13-5h0m13 2h0m16-1h0m26 0h0m8 1h0m6-1h0m6-3h0m9 2h0m-277 10h0m47 1h0m9-4h0m17 7h0m4-3h0m5-1h0m28-2h0m5 4h0m12 2h0m13-6h0m14 1h0m26 3h0m4-5h0m22 7h0m5-2h0m13 2h0m19-1h0m5-2h0m17-2h0m4 3h0m6-5h0m11 2h0m8 3h0m-257 10h0m41-2h0m23-2h0m8-2h0m7 4h0m53-4h0m9 1h0m6-2h0m62 4h0m17-3h0m25 0h0m-245 10h0m7-1h0m8 1h0m9-2h0m14 4h0m2-5h0m22-1h0m22 5h0m7-1h0m14-1h0m8-2h0m9 5h0m6 1h0m1-5h0m6-1h0m3 6h0m5 1h0m1-7h0m3 4h0m27 0h0m14 3h0m2-6h0m6 3h0m10-1h0m7 2h0m4-4h0m46 0h0m-263 9h0m16 2h0m4-3h0m1 5h0m8-6h0m14 0h0m7 2h0m6 1h0m6-2h0m4 4h0m4-4h0m11 0h0m6 1h0m36 0h0m4 2h0m27 1h0m14-1h0m38-2h0m15-2h0m35 2h0m-263 6h0m6 7h0m0-6h0m13 0h0m9 5h0m4-3h0m5-2h0m13-1h0m8 0h0m5 5h0m16 2h0m1-7h0m15 0h0m11 2h0m9 5h0m3-7h0m16 1h0m34 3h0m16-2h0m13 4h0m5-2h0m-194 9h0m9 1h0m31-6h0m20 0h0m82 1h0m73 3h0m-228 9h0m31 1h0m10-5h0m108-2h0m74 6h0m-139 4h0m54 1h0m80-2h0m-156 9h0m99 1h0m93 0h0m-229 10h0m35 9h0m-88 33h0"/><path id="uINP1" d="M142 912h0m-5 15h0m439-1h0m-468 14h0m7 9h0m257 2h0m-261 5h0m7 0h0m17 4h0m163-4h0m50 3h0m-249 7h0m4-4h0m10-1h0m13 2h0m10 5h0m25-5h0m60 4h0m225-6h0m-346 15h0m14-6h0m34 4h0m5 2h0m7-1h0m171-4h0m110-1h0m12 2h0m-341 6h0m18 2h0m10 2h0m33-2h0m32 0h0m96-2h0m77 2h0m30 2h0m10 1h0m15 0h0m16-5h0m8 2h0m11-2h0m-371 9h0m4-3h0m4 4h0m8-3h0m5 1h0m3 5h0m6-3h0m13-1h0m6 1h0m14 3h0m7-5h0m11 4h0m159 1h0m7 0h0m41 1h0m66 0h0m-350 0h0m7 5h0m8-2h0m11-2h0m10 3h0m13 3h0m5-3h0m12-3h0m23-1h0m5 3h0m25 0h0m40-2h0m56 1h0m29 5h0m19-5h0m6 3h0m41-1h0m9 4h0m15-4h0m9 4h0m4-4h0m12-3h0m13 6h0m-369 4h0m24-3h0m3 5h0m9-3h0m21 3h0m28-5h0m74 1h0m6 6h0m20-6h0m17 3h0m24 0h0m21 1h0m4-3h0m8 5h0m3-6h0m24 6h0m18-3h0m55 2h0m-308 9h0m11-4h0m23-2h0m29 5h0m9 0h0m75 2h0m11-5h0m97-2h0m5 2h0m16 5h0m5-4h0m26 2h0m7 1h0m5 0h0m3-5h0m5-1h0m144-1h0m-530 14h0m6 0h0m25 0h0m15-1h0m19-4h0m8 0h0m8 2h0m9 2h0m7 0h0m14-1h0m6 4h0m5-1h0m43-5h0m23 6h0m15-2h0m36 0h0m5-2h0m13 2h0m3-6h0m10 6h0m20 0h0m12-4h0m19-2h0m13 5h0m6 2h0m1-5h0m13 4h0m4-6h0m3 6h0m23 0h0m-379 10h0m18-1h0m11-5h0m11 0h0m5 3h0m7-1h0m10 2h0m7-3h0m12-2h0m39 6h0m6-1h0m18-1h0m16 2h0m7-1h0m15 0h0m6 1h0m13-1h0m30-3h0m30 2h0m5 3h0m14-4h0m27 0h0m10 2h0m20 0h0m3-6h0m7 3h0m18 1h0m8-1h0m7 2h0m6-4h0m-383 11h0m7 0h0m13-2h0m8 6h0m16-3h0m8 0h0m8 1h0m10-3h0m9 1h0m9-3h0m15 5h0m15-1h0m7-1h0m10-2h0m24 4h0m14-6h0m7 6h0m8-3h0m30 3h0m6-5h0m1 6h0m7 0h0m3-5h0m5 1h0m17 2h0m5 0h0m6 3h0m14-2h0m19 1h0m9 0h0m5-3h0m24-3h0m14 4h0m17-4h0m12 1h0m4 4h0m-392 3h0m26 4h0m10 1h0m4-2h0m4-4h0m3 7h0m5-3h0m7 3h0m6-4h0m21 0h0m4 3h0m27 1h0m13-3h0m18-3h0m9 7h0m3-5h0m15 4h0m3-6h0m6 7h0m9-1h0m15-1h0m6 1h0m12-3h0m26 4h0m3-5h0m5-2h0m2 5h0m8 0h0m14-2h0m10 0h0m25 1h0m6-1h0m6-3h0m5 1h0m5 4h0m20 2h0m7-4h0m8 1h0m6 2h0m6-4h0m6 4h0m4-5h0m-356 7h0m18 4h0m22 2h0m6-1h0m15-4h0m21 1h0m18-1h0m29 3h0m13 2h0m10-2h0m21-1h0m27 0h0m4-3h0m31 2h0m39-1h0m6 2h0m24-4h0m27 3h0m6 4h0m6 0h0m-361 1h0m19 3h0m6 0h0m8 0h0m9 0h0m8-2h0m14 3h0m28-1h0m5-1h0m23 1h0m74-3h0m6 2h0m1 5h0m5-5h0m3 4h0m3-5h0m56 1h0m5 2h0m5 1h0m3-5h0m9 1h0m8 0h0m2 5h0m6 0h0m13-1h0m13-4h0m10 7h0m4-7h0m6 3h0m10 1h0m14 0h0m-395 4h0m7-1h0m1 7h0m4-4h0m5 4h0m5-3h0m19 4h0m9-3h0m15 1h0m10-5h0m50 0h0m18 1h0m34 0h0m49 2h0m12 2h0m9 1h0m11-4h0m26-2h0m5 6h0m16-3h0m16 3h0m5-4h0m4 3h0m7-2h0m21 1h0m18 3h0m1-8h0m-383 13h0m7-1h0m9 2h0m4-3h0m46 1h0m12-3h0m4 6h0m10-6h0m13 4h0m17-2h0m87 1h0m10 1h0m57-3h0m6 2h0m8-2h0m2 5h0m9-2h0m31-1h0m6-1h0m32 2h0m22-4h0m13 5h0m-409 7h0m6-2h0m15 0h0m7 0h0m13-3h0m33 7h0m23-3h0m6-3h0m9 4h0m110-3h0m98-1h0m2 5h0m15-4h0m7 3h0m14 3h0m2-8h0m10 5h0m8 1h0m13-5h0m2 6h0m4-3h0m8-1h0m5 1h0m-411 6h0m7 3h0m3-4h0m5 3h0m20-2h0m27 2h0m26-1h0m29 0h0m158-2h0m40 0h0m19 6h0m23-2h0m9-5h0m18 1h0m7 3h0m15-4h0m5 2h0m6 0h0m-422 11h0m23 3h0m12-4h0m12 1h0m5 2h0m5-4h0m5 3h0m1-5h0m11 4h0m20 1h0m5 2h0m92-1h0m67-7h0m31 5h0m13 0h0m27 1h0m15-5h0m41 2h0m8 3h0m4-5h0m8 6h0m14 0h0m3-5h0m2 5h0m-425 5h0m5-2h0m8 0h0m7 3h0m14 1h0m8 0h0m8-1h0m9-2h0m5 2h0m22-3h0m7 2h0m6 1h0m280 1h0m2-5h0m5 5h0m3-4h0m12 0h0m-392 11h0m8 1h0m4-4h0m21 4h0m12 1h0m14-2h0m5-4h0m0 5h0m201-2h0m98 0h0m25 1h0m14 2h0m17-2h0m5 3h0m-423 4h0m6 1h0m8-3h0m7 6h0m8-6h0m6 1h0m18 0h0m7 2h0m19 2h0m7-3h0m265 0h0m16 0h0m18 3h0m12-3h0m16-3h0m-412 10h0m6 1h0m5 3h0m25-4h0m8 5h0m4-7h0m14 0h0m12 6h0m11-5h0m47 1h0m234 3h0m10 1h0m6 1h0m12-7h0m21 1h0m-422 7h0m9 5h0m33-5h0m0 6h0m15-6h0m3 6h0m3-4h0m4 4h0m3-6h0m5 1h0m8 2h0m284 2h0m29-3h0m22 3h0m6 1h0m6-4h0m-429 8h0m29 1h0m6 2h0m2-5h0m5 6h0m5-1h0m13-1h0m12 2h0m14-1h0m15 0h0m270-5h0m49 5h0m-423 9h0m25-2h0m14-1h0m10 0h0m8-4h0m5 7h0m5-5h0m7 4h0m6-1h0m6 0h0m6-1h0m7 0h0m54-3h0m147 0h0m77 2h0m30-3h0m6 6h0m-411 9h0m6-6h0m7 4h0m22-1h0m7-3h0m2 7h0m8-5h0m16 1h0m9 1h0m7 0h0m38-1h0m254 2h0m24-5h0m-403 10h0m12 4h0m5-4h0m5-2h0m9 0h0m29 4h0m17-1h0m7-2h0m7 0h0m6 3h0m9-2h0m52-1h0m207 2h0m10-2h0m-377 7h0m8 5h0m7 1h0m17 0h0m4-6h0m11 0h0m0 5h0m5 2h0m6-3h0m21-3h0m22 1h0m9 5h0m2-5h0m11 5h0m6-5h0m30 3h0m221-4h0m-358 10h0m15 2h0m16-1h0m13-5h0m10 0h0m10 7h0m2-6h0m21 5h0m21-2h0m250-2h0m-380 9h0m12 1h0m6-1h0m7-2h0m2 5h0m28-4h0m13 0h0m5 1h0m10 5h0m17-2h0m47-3h0m33 0h0m-172 5h0m15 5h0m8-3h0m6-1h0m5 6h0m2-6h0m5 0h0m4 4h0m4-4h0m10 6h0m4-6h0m15 3h0m6-2h0m8 4h0m15-5h0m4 6h0m-112 7h0m6-2h0m27 0h0m6 1h0m10 2h0m7-2h0m5-1h0m12-4h0m3 6h0m22-3h0m11 5h0m-99 6h0m8 1h0m2-5h0m13 5h0m1-6h0m5 2h0m6 0h0m10 0h0m20 2h0m15-2h0m-78 11h0m5-2h0m6 0h0m13 0h0m6 2h0m2-5h0m5 4h0m4 3h0m2-6h0m4 3h0m245-5h0m-280 9h0m6 6h0m12-1h0m3-4h0m14 5h0m29-5h0m7 0h0m7-2h0m182 4h0m-230 6h0m5 4h0m4-2h0m64 1h0m-86 4h0m14 7h0m43-6h0m-52 8h0m7 4h0m53-5h0m-47 9h0m16 2h0m-23 5h0m3 5h0m25 1h0m14 26h0"/><path id="uINPB1" d="M243 1014h0m-66 13h0m92 10h0m84 0h0m-86 9h0m144-1h0m-156 10h0m22 0h0m22 1h0m0-6h0m-64 13h0m6 1h0m103 0h0m-146 2h0m24 0h0m43-1h0m3 6h0m23-5h0m5 1h0m28 2h0m57 3h0m-194 7h0m27-7h0m13 3h0m1 5h0m23-2h0m2-6h0m3 8h0m8-5h0m9-1h0m0 6h0m16-3h0m12-3h0m21 1h0m5 4h0m7 1h0m12-3h0m9-2h0m10-2h0m59 6h0m17-1h0m-231 5h0m15 4h0m8-5h0m10 5h0m17-4h0m33 1h0m7-2h0m21-2h0m11 6h0m8-5h0m11 7h0m2-7h0m13 3h0m7 3h0m4-5h0m41-1h0m-202 10h0m13 2h0m6 2h0m4-6h0m22-1h0m22 0h0m8 3h0m15-1h0m15-1h0m22 2h0m20 1h0m5 3h0m18 0h0m29-1h0m22 1h0m-262 6h0m31 1h0m20-5h0m7 4h0m12 1h0m4-5h0m23 4h0m25-1h0m13-1h0m5-2h0m17 3h0m5-3h0m20 6h0m7-5h0m2 5h0m35 0h0m3-5h0m7 2h0m45 0h0m-250 10h0m5-3h0m8 1h0m10-3h0m22 4h0m12 0h0m3-4h0m2 7h0m5-6h0m11 6h0m5-7h0m1 6h0m6-6h0m16 2h0m9 2h0m5-3h0m7-1h0m1 5h0m5-4h0m9-1h0m26 1h0m9 4h0m22 0h0m12-1h0m3-4h0m8 4h0m-226 4h0m27 0h0m16 7h0m6-2h0m3-4h0m3 6h0m6-5h0m18 3h0m12 0h0m6-5h0m1 6h0m5 1h0m4-5h0m16-2h0m5 1h0m7 1h0m2 5h0m4-8h0m45 3h0m12 1h0m6 2h0m18-5h0m4 4h0m3-4h0m-227 9h0m11-2h0m1 5h0m5-1h0m13 3h0m4-2h0m17 1h0m10 1h0m5-6h0m6-1h0m4 4h0m8 0h0m5 2h0m5-2h0m7 2h0m5-3h0m5-2h0m0 5h0m6-4h0m33 3h0m6-1h0m5-3h0m21 4h0m4-4h0m27 0h0m21 0h0m37 0h0m-297 12h0m7 1h0m6-1h0m18 0h0m3-5h0m39 8h0m7-5h0m12 0h0m44 1h0m5 1h0m45 2h0m10-7h0m4 6h0m5-4h0m13 1h0m3 5h0m2-8h0m16 8h0m23-7h0m28 1h0m25 4h0m-303 8h0m15-4h0m6 4h0m9-3h0m21-2h0m12 4h0m5 2h0m3-6h0m3 5h0m10-6h0m19 7h0m12-3h0m13 2h0m5-2h0m16-3h0m5 1h0m6 0h0m9 5h0m9-1h0m7-3h0m8-1h0m5-1h0m19 4h0m5 3h0m11-1h0m6-2h0m18 1h0m5-4h0m-255 7h0m26 5h0m14-1h0m20-1h0m9 0h0m32 3h0m1-6h0m31 5h0m4-4h0m5 3h0m10-5h0m50 6h0m1-6h0m6 3h0m9 1h0m28-1h0m6 4h0m4-4h0m5 4h0m-266 6h0m17 1h0m23-5h0m10 5h0m20 1h0m5-5h0m6 4h0m20 2h0m6 0h0m19-3h0m4-4h0m11 2h0m9 3h0m31-3h0m20-2h0m29 0h0m13 4h0m5 0h0m11 0h0m20 0h0m-266 7h0m14 4h0m23-4h0m15-4h0m10 0h0m1 6h0m22 0h0m13-3h0m31-2h0m11 6h0m18-4h0m9 4h0m11-2h0m26-5h0m1 6h0m11 1h0m19-3h0m4-3h0m5 6h0m22-5h0m-316 7h0m55 5h0m18-5h0m12 3h0m14 3h0m15-1h0m9 0h0m5-4h0m7 1h0m7-2h0m13 1h0m4 5h0m30 1h0m8-7h0m14 0h0m0 5h0m8 2h0m4-6h0m7 3h0m5-5h0m5 7h0m8 0h0m11-3h0m13 3h0m9-6h0m7 6h0m14 0h0m-265 2h0m12 1h0m45-1h0m26 1h0m9 0h0m7 5h0m8-5h0m6 2h0m5-1h0m6 4h0m44-6h0m15 7h0m7-7h0m9 4h0m9 0h0m6 1h0m3-4h0m10 2h0m6 0h0m5 4h0m-198 4h0m17-2h0m41 4h0m5 0h0m3-6h0m35 7h0m7 1h0m7-4h0m6 1h0m13 0h0m22-2h0m25-1h0m-157 7h0m6 5h0m9-1h0m12-2h0m3 4h0m8-2h0m34-3h0m8 2h0m8 1h0m5-4h0m0 6h0m5-5h0m3 5h0m13-2h0m10-5h0m8 0h0m3 7h0m9-5h0m6 5h0m6-4h0m19 3h0m-174 3h0m10 2h0m34-2h0m4 4h0m9 0h0m5 2h0m1-6h0m23 6h0m25-3h0m8-3h0m16 3h0m10 1h0m45-1h0m-236 7h0m61 1h0m5 1h0m9 0h0m6-2h0m15 3h0m4-3h0m26 0h0m21 1h0m14 3h0m2-5h0m7 4h0m9-1h0m6-2h0m9-1h0m6 4h0m-133 5h0m14 4h0m13-3h0m4 4h0m21-1h0m20-5h0m10 1h0m30 1h0m-167 9h0m64-4h0m31 7h0m13-3h0m7-4h0m1 6h0m26-3h0m8-4h0m4 4h0m10-3h0m-74 10h0m20-1h0m25 0h0m5-1h0m-110 8h0m78 7h0m1-7h0m5 7h0m11-1h0m23-3h0m-66 5h0m11 3h0m66-2h0m-52 9h0m-7 5h0m26 18h0m16-2h0"/><path id="uINNE1" d="M597 871h0m-160 280h0m39 8h0m15 8h0m4-6h0m-261 7h0m19 0h0m215 6h0m2-4h0m5 4h0m-218 6h0m25 3h0m166-6h0m8 6h0m16-3h0m20 2h0m-285 10h0m61-4h0m153-3h0m21 4h0m9 2h0m8-3h0m12 4h0m5-3h0m-298 8h0m16 2h0m32-5h0m1 6h0m10-7h0m40 2h0m164 4h0m15-6h0m-264 12h0m22-4h0m12 4h0m18-1h0m17 1h0m16 2h0m140-3h0m12 3h0m-234 6h0m24 2h0m11-3h0m5-3h0m6-1h0m2 7h0m89-2h0m19-4h0m14 0h0m53 3h0m12 4h0m13-5h0m-235 6h0m13 5h0m5 0h0m17 1h0m4-4h0m6 3h0m6-2h0m41-1h0m68 3h0m14 0h0m42 2h0m6-2h0m7-3h0m11 2h0m5-3h0m-265 11h0m22-5h0m7 7h0m13-3h0m5-4h0m1 8h0m6-3h0m15-3h0m18-1h0m27 1h0m22-1h0m66 5h0m12-1h0m11-3h0m6 0h0m3 4h0m19-1h0m-273 11h0m4-7h0m47 5h0m16 1h0m12-6h0m1 7h0m4-6h0m15 3h0m6 0h0m9 1h0m13 0h0m34-1h0m23 2h0m14-1h0m36-3h0m9 2h0m11-1h0m10 3h0m-246 3h0m19 0h0m5 3h0m20-3h0m22 6h0m8 0h0m20-2h0m6-2h0m6-1h0m4 5h0m3-5h0m6-1h0m76 1h0m6 3h0m7-1h0m3-4h0m26 0h0m-247 14h0m9-2h0m23-1h0m17 3h0m16 0h0m23 0h0m6-5h0m31 2h0m21-4h0m55 5h0m14-3h0m10 6h0m4-4h0m11-3h0m-253 11h0m5 3h0m20-3h0m5 2h0m6 1h0m5 0h0m10-3h0m7 1h0m16-4h0m6 5h0m5-5h0m7 4h0m4-4h0m14 2h0m12-2h0m2 4h0m6-5h0m5 6h0m5 0h0m4-4h0m6 1h0m7 1h0m17 3h0m14-6h0m6-1h0m4 4h0m4-3h0m6 3h0m8-2h0m17 4h0m-237 3h0m3 7h0m11-5h0m5-1h0m6 5h0m54-5h0m8 0h0m17 2h0m4 2h0m2-5h0m6 6h0m4-2h0m17 0h0m6-2h0m14-2h0m20 7h0m6-2h0m21-6h0m13 5h0m15 0h0m-183 6h0m21 4h0m1-6h0m5 1h0m9 3h0m0-5h0m7 7h0m1-7h0m29 3h0m7 1h0m3 4h0m19-8h0m10 5h0m6 1h0m3-6h0m17 5h0m33-2h0m6 2h0m8-2h0m-235 7h0m4 4h0m3-5h0m17 4h0m4-4h0m21 4h0m8-3h0m5 3h0m7 2h0m19-2h0m14-4h0m2 6h0m5-3h0m15-4h0m0 7h0m4-4h0m11 1h0m33 0h0m5 1h0m9 0h0m15-4h0m0 6h0m-182 2h0m10-1h0m10 3h0m19-2h0m7 2h0m24 2h0m6-3h0m18 6h0m13-4h0m20-1h0m11 0h0m6 3h0m15-1h0m5-4h0m7 4h0m2-5h0m6 4h0m-191 5h0m7 1h0m17 2h0m14 0h0m30 3h0m10-4h0m7 3h0m5 1h0m6-6h0m14 6h0m33-4h0m8 0h0m10-2h0m6 1h0m11 0h0m7 1h0m-176 8h0m6-2h0m16 6h0m13-4h0m9 3h0m27-3h0m15 0h0m22 4h0m6-5h0m17 0h0m6 2h0m5-3h0m28 1h0m9 2h0m6-1h0m-189 5h0m29 3h0m5 2h0m6 1h0m3-5h0m13 3h0m10 1h0m5 1h0m18-1h0m3-5h0m6 1h0m8 2h0m16-2h0m17 1h0m8 4h0m11-3h0m-143 6h0m6 1h0m12 0h0m5 4h0m17-4h0m6-2h0m3 5h0m31-2h0m8-2h0m15 3h0m4-4h0m14 1h0m11 6h0m22-4h0m-156 5h0m22 5h0m16-1h0m27 1h0m15-2h0m9 3h0m31-6h0m22 5h0m-139 7h0m14-2h0m6 3h0m7-3h0m6-2h0m15 4h0m7-1h0m8 2h0m5-5h0m20 4h0m13 3h0m10 0h0m10 1h0m1-5h0m6 0h0m11 2h0m6 2h0m-116 7h0m5-1h0m4-4h0m6-1h0m2 7h0m12-6h0m2 5h0m29-5h0m5 2h0m14 0h0m12 3h0m7-3h0m14 0h0m-113 10h0m5-1h0m7-3h0m35 5h0m8-2h0m6-2h0m5-1h0m5 7h0m8-1h0m10-3h0m6-2h0m9 5h0m2-6h0m3 5h0m2-5h0m-101 7h0m15 1h0m4 4h0m20-2h0m12 1h0m6 0h0m8-2h0m13 2h0m-71 7h0m24-3h0m5 7h0m0-7h0m13 1h0m6 3h0m8 1h0m9-4h0m0 5h0m5 0h0m10-1h0m-63 8h0m5-3h0m4 4h0m7-3h0m27-2h0m-26 7h0m11 4h0m7-1h0m7 1h0"/><path id="uODE1" d="M530 605h0m3-5h0m4 4h0m22 0h0m-27 6h0m6 0h0m8 4h0m14-2h0m-51 11h0m25-6h0m4 4h0m5-2h0m4 4h0m8-1h0m5 0h0m3-5h0m-19 11h0m18 1h0m5-4h0m5 3h0m-19 8h0m6-1h0m-3 6h0m2 5h0m12-5h0m15 4h0m-14 7h0m8 4h0m8-5h0m5 5h0m26 0h0m-88 6h0m47 16h0m33 3h0m6 1h0"/><path id="uOVE1" d="M497 592h0m91 6h0m-14 2h0m27 1h0m-20 11h0m5 2h0m13-1h0m9-3h0m7 5h0m3-4h0m-38 6h0m20 3h0m19-1h0m-11 5h0m14 1h0m2 6h0"/><path id="uODM21" d="M489 656h0m152 91h0m11 9h0m2-3h0m5 5h0m8-5h0m-16 11h0m21 0h0m-2 10h0m16-5h0m-7 13h0m14 2h0m2-7h0m-41 7h0m32 3h0m13-2h0m-8 18h0m5 3h0m-29 15h0m21 16h0m5 5h0"/><path id="uODM1" d="M633 696h0m12-3h0m-21 10h0m20 1h0m2-5h0m21 5h0m-41 5h0m9-5h0m-8 10h0m12 2h0m11-2h0m11-1h0m4 5h0m7-4h0m6 0h0m-45 10h0m3 4h0m6-7h0m2 6h0m6-2h0m9-4h0m8 5h0m8-3h0m-23 11h0m21 0h0m5-3h0m4-3h0m5 2h0m9-1h0m7 7h0m-44 1h0m1 6h0m5-6h0m17 5h0m3-6h0m5 5h0m8-4h0m3 4h0m-32 5h0m6 1h0m26 6h0"/><path id="uOVM1" d="M635 638h0m7-4h0m-6 16h0m10 1h0m10-2h0m6 2h0m5 4h0m-33 8h0m3-7h0m23 2h0m5 3h0m-9 8h0m3-5h0m18 2h0m4 6h0m-41 1h0m10 3h0m18 4h0m22-7h0m-43 10h0m11 4h0m6-1h0m17 2h0m7-2h0m5 1h0m3-6h0m-26 12h0m7-1h0m27 1h0m-5 5h0m7 1h0m17 4h0m-30 2h0m11 4h0m6 3h0m19-3h0m-37 4h0m6 6h0m16-3h0m7-3h0m13 7h0m-24 3h0m21 2h0m8 0h0m-31 6h0m15 1h0m14-2h0m13 4h0m-24 8h0m21-1h0m13-5h0m-28 10h0m9 4h0m17 0h0m7 2h0m1-7h0m-17 12h0m15 3h0m6 0h0m-30 11h0m8 8h0m-26 16h0m39 10h0m-29 32h0m21 18h0m-23 35h0"/><path id="uONNE1" d="M738 703h0m6-1h0m4 5h0m19 2h0m9 1h0m-22 3h0m3 4h0m4-5h0m11 1h0m2 4h0m5 0h0m4-5h0m4 5h0m-31 6h0m6-2h0m16 4h0m5-4h0m3 6h0m9 1h0m6-2h0m19 0h0m-53 7h0m3-4h0m7 3h0m27 0h0m14 1h0m7-1h0m9-2h0m2 6h0m5-2h0m-75 8h0m14-3h0m26-2h0m2 5h0m4-5h0m6 6h0m8 0h0m7-3h0m10-1h0m5 4h0m-66 6h0m37 2h0m36-4h0m7 0h0m-89 12h0m14-6h0m19 3h0m31 2h0m3-4h0m15 1h0m11 4h0m6-3h0m-151 10h0m6 0h0m55-1h0m59 1h0m50 0h0m10-4h0m-171 9h0m12 5h0m30-7h0m23 1h0m7 1h0m11 1h0m20-2h0m12 5h0m10-1h0m0-5h0m6-1h0m4 4h0m5 3h0m2-5h0m3 4h0m17-3h0m24 4h0m-177 4h0m41 1h0m11 3h0m12-4h0m6 4h0m30-2h0m5-1h0m7-3h0m10 6h0m17-4h0m23 3h0m13 1h0m6-1h0m6 1h0m-202 4h0m57-1h0m54 0h0m16 3h0m49-1h0m28 3h0m-199 4h0m6 0h0m26 3h0m41-5h0m1 6h0m12 0h0m7-7h0m7 6h0m19-4h0m11 5h0m19-5h0m19 2h0m10-3h0m15 6h0m0-5h0m-159 11h0m6 2h0m32 0h0m54 0h0m55-4h0m15 1h0m5 4h0m0-8h0m23 2h0m-227 7h0m101 5h0m15 2h0m46-4h0m8-3h0m9-1h0m21 4h0m9 4h0m30-5h0m-78 9h0m5 0h0m7 2h0m8-3h0m19 0h0m14 5h0m1-7h0m3 4h0m4-4h0m11 6h0m-98 4h0m21 3h0m3-4h0m3 5h0m3-4h0m7 2h0m7-2h0m13 3h0m19-1h0m10-3h0m29 5h0m-251 1h0m72 4h0m66-4h0m21 2h0m13 5h0m5-7h0m4 4h0m6 1h0m11-2h0m12-1h0m14 3h0m26-1h0m-255 10h0m157-6h0m30 1h0m1 7h0m11-2h0m8 1h0m8-7h0m3 5h0m37 1h0m4-5h0m9 6h0m6-4h0m-275 9h0m57 4h0m60-7h0m60 4h0m17-5h0m5 6h0m5-4h0m6 2h0m5-2h0m5 0h0m6 0h0m6 4h0m8-5h0m4 6h0m14-4h0m7 4h0m17-1h0m8 1h0m-298 2h0m86 0h0m73 6h0m34-3h0m10-2h0m3 5h0m11-6h0m5 6h0m11-2h0m5-1h0m10-1h0m9 4h0m7-4h0m21 1h0m6-1h0m-278 6h0m170 6h0m5-6h0m5 2h0m25 0h0m12 0h0m7-2h0m12-1h0m3 7h0m5-3h0m7-4h0m28 3h0m-131 10h0m11 3h0m41-7h0m2 7h0m4-5h0m36 2h0m4-3h0m6 2h0m5-1h0m11 2h0m-269 10h0m168-5h0m19 2h0m9-3h0m15 7h0m2-7h0m3 6h0m3-5h0m4 5h0m21-2h0m5 2h0m7-6h0m5 1h0m9 1h0m-289 9h0m147 0h0m14-1h0m40 1h0m8 3h0m4-4h0m27 3h0m14-6h0m10 3h0m19-2h0m-158 9h0m7 0h0m34 2h0m18-1h0m9-2h0m7 2h0m7 2h0m9-4h0m9 2h0m18-1h0m22 1h0m14-2h0m-129 10h0m14 5h0m5-7h0m18 1h0m20 1h0m4-3h0m5 5h0m8-3h0m21 0h0m12 2h0m5 3h0m9-6h0m-119 12h0m5-2h0m6 2h0m49 0h0m30 2h0m6-2h0m5-3h0m5 5h0m-105 4h0m4 3h0m2-5h0m13 1h0m6 1h0m15 0h0m8 2h0m7-4h0m6 3h0m6 2h0m9 2h0m18-3h0m5 2h0m-260 9h0m5-3h0m148-3h0m15 4h0m15-6h0m13 1h0m3 7h0m20-7h0m4 5h0m6 0h0m8 0h0m5-2h0m22-1h0m6-1h0m-113 6h0m19 0h0m16 1h0m3 5h0m11-1h0m5-3h0m11 2h0m39 4h0m6-7h0m-118 14h0m6-1h0m13 1h0m2-6h0m6 0h0m6 2h0m9 1h0m10 2h0m8-4h0m3 6h0m4-4h0m4-2h0m5 2h0m6 0h0m12 3h0m-220 3h0m92 0h0m48 4h0m6-1h0m11 0h0m8-3h0m11 3h0m4-2h0m5 1h0m16-1h0m7 5h0m2-6h0m14 5h0m-109 7h0m1-5h0m10 3h0m10 4h0m12-6h0m8 1h0m19 4h0m24 0h0m6-3h0m-238 6h0m31 5h0m104-1h0m22-5h0m9 4h0m9 2h0m6-4h0m2 5h0m12-6h0m3 5h0m2-5h0m16 5h0m7-4h0m7 2h0m19-2h0m-122 11h0m31 0h0m19 0h0m29 1h0m35-2h0m-239 11h0m136-2h0m26-6h0m11 4h0m9-3h0m25 5h0m7-4h0m5 2h0m6 3h0m6-4h0m5 4h0m1-6h0m-144 13h0m23-6h0m6 2h0m13 3h0m15-1h0m10 0h0m5-2h0m8 5h0m12-6h0m42 6h0m6-2h0m-207 11h0m86-1h0m23-4h0m11 4h0m10 0h0m14-3h0m9-2h0m8-1h0m8 1h0m5 5h0m13-6h0m7 3h0m-125 11h0m26-7h0m4 5h0m8-4h0m4 4h0m4-3h0m5 3h0m29-3h0m3 5h0m3-7h0m13 4h0m14 2h0m6-5h0m-185 12h0m61-4h0m5 5h0m8-3h0m9-2h0m22 1h0m15 2h0m8-2h0m5 5h0m5 0h0m10 0h0m6-5h0m-107 13h0m7-3h0m29 1h0m15 0h0m22-3h0m5 2h0m27-1h0m7-2h0m7 6h0m2-7h0m-154 15h0m34-3h0m32 0h0m9-2h0m7 6h0m6-5h0m17 0h0m27-2h0m0 5h0m9 0h0m5 1h0m-150 9h0m5-3h0m40-3h0m3 5h0m29-6h0m1 6h0m23 0h0m7 0h0m2-6h0m15 6h0m17-2h0m-97 7h0m8-2h0m8 0h0m8 0h0m52 1h0m10-2h0m-94 10h0m7 1h0m8-1h0m6 3h0m18-3h0m7-1h0m23 3h0m14-5h0m4 5h0m-94 7h0m6 2h0m6 0h0m11-5h0m7 3h0m9-4h0m34 5h0m-84 4h0m21 7h0m17-4h0m21-2h0m5-2h0m5 5h0m6 0h0m6-3h0m8 2h0m-80 7h0m7 3h0m13 0h0m6 2h0m19-6h0m6-1h0m-18 7h0m7 2h0"/><path id="uONE1" d="M783 743h0m24 7h0m-29 3h0m33 6h0m67-2h0m-160 13h0m20 1h0m13 3h0m1 6h0m42-2h0m18 0h0m5-2h0m2 5h0m36 2h0m-111 4h0m8 5h0m13-1h0m4-3h0m19 1h0m8-2h0m45 4h0m39-3h0m-140 5h0m6 1h0m21 3h0m14-2h0m11 0h0m17 4h0m14-1h0m30 0h0m25 1h0m-130 6h0m7-2h0m17-1h0m6-1h0m5 5h0m7 0h0m32-2h0m9 3h0m4-4h0m5 1h0m9 2h0m24 0h0m5-2h0m8 2h0m-164 6h0m10-4h0m19 5h0m24-4h0m4 5h0m15-5h0m5 4h0m33 0h0m18-1h0m9-2h0m6-1h0m-140 10h0m6 2h0m14-3h0m39 0h0m8-2h0m6 6h0m10 0h0m6-3h0m7-2h0m15 0h0m9 7h0m3-7h0m4 5h0m5-2h0m4-4h0m-150 13h0m12-3h0m15 2h0m6 0h0m4 3h0m21 0h0m7-7h0m23 6h0m4-6h0m2 6h0m16 2h0m15-4h0m22 3h0m-199 3h0m60 1h0m9 3h0m3-5h0m10 3h0m14-3h0m4 7h0m5-6h0m9 5h0m9-7h0m2 6h0m5-1h0m24-2h0m16 0h0m14 1h0m-120 4h0m8 2h0m18 5h0m17-4h0m5 1h0m25-3h0m5 5h0m1-6h0m10 6h0m30-4h0m23-2h0m9 5h0m8-2h0m10-1h0m-167 8h0m19-1h0m11 4h0m6-4h0m11 0h0m10 3h0m25 2h0m9-1h0m7-4h0m5 2h0m36-2h0m5-1h0m6 7h0m-183 5h0m60 1h0m13 0h0m5-4h0m32 0h0m19 0h0m2 5h0m3-6h0m5 6h0m8-6h0m18 3h0m5-3h0m-158 14h0m6 0h0m4-6h0m1 8h0m4-5h0m8 3h0m8 0h0m5-2h0m17-3h0m2 7h0m12-6h0m2 5h0m6-4h0m30 0h0m18-1h0m24 4h0m15-3h0m-160 13h0m16-5h0m4 4h0m5-5h0m42 4h0m9-2h0m41 0h0m4-3h0m7-1h0m8 3h0m7 1h0m5-3h0m14 0h0m39 6h0m-244 6h0m39 0h0m6 0h0m8 0h0m17-4h0m3 4h0m6-4h0m5 0h0m6 0h0m0 7h0m5-6h0m14 5h0m5-5h0m9 4h0m5-2h0m15 2h0m2-6h0m18 2h0m6 5h0m12-7h0m1 7h0m5-4h0m7-3h0m20 2h0m-160 9h0m27 3h0m6-2h0m11 0h0m16-2h0m4 3h0m10 1h0m38-3h0m4 3h0m7-2h0m15-4h0m14 7h0m6-6h0m-159 10h0m23-3h0m13 7h0m1-7h0m11 6h0m6-5h0m3 4h0m5-4h0m7 0h0m6 2h0m7-2h0m5 7h0m25-1h0m18 1h0m-134 6h0m4-5h0m21 7h0m18 0h0m22-4h0m15 0h0m8 0h0m7 1h0m7 0h0m2-5h0m8 4h0m19 4h0m6 0h0m-127 5h0m16 2h0m13-1h0m7 2h0m10-5h0m28 1h0m6 2h0m1-5h0m5 3h0m16 2h0m2-6h0m-122 14h0m5 0h0m7-1h0m45 0h0m19-2h0m22 2h0m6-1h0m8-3h0m4 4h0m9-3h0m7 2h0m-144 5h0m21 0h0m7 5h0m3-5h0m12 6h0m12 0h0m5-2h0m5-3h0m11 1h0m5 2h0m9 1h0m6 0h0m9-4h0m3 6h0m11-5h0m14-2h0m10 2h0m-117 10h0m5-2h0m6-3h0m1 7h0m23-4h0m11-1h0m11 4h0m10 0h0m47 0h0m-131 5h0m8 1h0m20 1h0m14-4h0m5 2h0m11 0h0m9-2h0m15 2h0m15 5h0m7-3h0m18 2h0m9-3h0m7 0h0m-138 7h0m14 4h0m12-4h0m8 1h0m4-3h0m14 5h0m10 2h0m4-4h0m7 1h0m2-5h0m7 3h0m4 3h0m6 2h0m13-6h0m10-1h0m19 0h0m14 2h0m-154 6h0m5 0h0m8 2h0m6 3h0m50 1h0m31-3h0m6-2h0m13 2h0m8-1h0m-115 12h0m38-2h0m10-5h0m3 6h0m6 2h0m8-6h0m10-1h0m6 2h0m23 4h0m14-6h0m-136 8h0m5 2h0m8 2h0m10-4h0m4 3h0m7-3h0m1 6h0m5-7h0m6 3h0m6-2h0m8 1h0m6 0h0m28 3h0m5-1h0m9-3h0m2 6h0m10-3h0m16-2h0m-91 13h0m26-3h0m7 1h0m12-4h0m6 4h0m6 1h0m8-1h0m-100 10h0m45-4h0m7-1h0m2 5h0m6-2h0m5-2h0m13-1h0m11 5h0m8 0h0m47-7h0m-168 10h0m49 2h0m5-3h0m18 1h0m8 3h0m12-3h0m13 1h0m15 2h0m-98 6h0m8-2h0m12 6h0m19 0h0m17-6h0m49 3h0m-97 6h0m24 5h0m15-6h0m8 5h0m7-5h0m7 6h0m12-1h0m39 0h0m-101 5h0m7 1h0m21 3h0m47-7h0m56 7h0m-127 3h0m5 4h0m17-2h0m12-3h0m19 1h0m-35 6h0m9 3h0m8 0h0m5-3h0m-25 14h0m5-2h0m17 2h0m6-5h0m3 5h0m-27 5h0m17 4h0m-15 4h0m11 3h0m23 7h0"/></defs>
<g fill="none" stroke-linecap="round" stroke="#111" stroke-width="12.2"><use href="#uUC0"/><use href="#uIDE0"/><use href="#uIVE0"/><use href="#uIDM0"/><use href="#uIVM0"/><use href="#uINP0"/><use href="#uINPB0"/><use href="#uINNE0"/><use href="#uODE0"/><use href="#uOVE0"/><use href="#uODM20"/><use href="#uODM0"/><use href="#uOVM0"/><use href="#uONNE0"/><use href="#uONE0"/><use href="#uUC1"/><use href="#uIDE1"/><use href="#uIVE1"/><use href="#uIDM1"/><use href="#uIVM1"/><use href="#uINP1"/><use href="#uINPB1"/><use href="#uINNE1"/><use href="#uODE1"/><use href="#uOVE1"/><use href="#uODM21"/><use href="#uODM1"/><use href="#uOVM1"/><use href="#uONNE1"/><use href="#uONE1"/></g>
<g fill="none" stroke-linecap="round" stroke-width="8.7"><use href="#uUC0" stroke="#6b6b6b"/><use href="#uIDE0" stroke="#f1a63f"/><use href="#uIVE0" stroke="#f8d3a0"/><use href="#uIDM0" stroke="#74b474"/><use href="#uIVM0" stroke="#9ceb9c"/><use href="#uINP0" stroke="#7cc7e8"/><use href="#uINPB0" stroke="#1b9dd3"/><use href="#uINNE0" stroke="#e0684f"/><use href="#uODE0" stroke="#b9760f"/><use href="#uOVE0" stroke="#fb8f3f"/><use href="#uODM20" stroke="#5cb85c"/><use href="#uODM0" stroke="#1e8e1e"/><use href="#uOVM0" stroke="#23dd23"/><use href="#uONNE0" stroke="#d2391e"/><use href="#uONE0" stroke="#1f7ba1"/><use href="#uUC1" stroke="#7e7e7e"/><use href="#uIDE1" stroke="#f2b157"/><use href="#uIVE1" stroke="#f8d8ac"/><use href="#uIDM1" stroke="#86bd86"/><use href="#uIVM1" stroke="#a8eda8"/><use href="#uINP1" stroke="#8dceea"/><use href="#uINPB1" stroke="#38a9d8"/><use href="#uINNE1" stroke="#e47b65"/><use href="#uODE1" stroke="#c2872e"/><use href="#uOVE1" stroke="#fb9d57"/><use href="#uODM21" stroke="#71c171"/><use href="#uODM1" stroke="#3b9c3b"/><use href="#uOVM1" stroke="#3fe13f"/><use href="#uONNE1" stroke="#d7523b"/><use href="#uONE1" stroke="#3c8cad"/></g>
<circle cx="684" cy="457" r="15.5" fill="#6b6b6b"/>
<text x="712" y="473.5" font-size="44.7">UC</text>
<path d="M595 612L810 637.5" stroke="#000" stroke-width="3.2"/>
<circle cx="824" cy="639.5" r="15.5" fill="#fb8f3f"/>
<text x="849" y="652" font-size="44.7">OVE</text>
<path d="M652.5 665.5L837 690.7" stroke="#000" stroke-width="3.2"/>
<circle cx="852" cy="693" r="15.5" fill="#23dd23"/>
<text x="880" y="706" font-size="44.7">OVM</text>
<path d="M556.3 627.2L537.8 678.4" stroke="#000" stroke-width="3.2"/>
<circle cx="530.5" cy="691.5" r="15.5" fill="#b9760f"/>
<text x="488.5" y="752" font-size="44.7">ODE</text>
<path d="M292.8 631L385.5 704" stroke="#000" stroke-width="3.2"/>
<circle cx="404.5" cy="717.5" r="15.5" fill="#f8d3a0"/>
<text x="391.5" y="783.5" font-size="44.7">IVE</text>
<path d="M267 817L416 868" stroke="#000" stroke-width="3.2"/>
<circle cx="430.5" cy="872" r="15.5" fill="#9ceb9c"/>
<text x="456" y="900" font-size="44.7">IVM</text>
<path d="M650.6 744L617 895" stroke="#000" stroke-width="3.2"/>
<circle cx="611.6" cy="910" r="15.5" fill="#1e8e1e"/>
<text x="556.3" y="971.5" font-size="44.7">ODM</text>
<path d="M749 969.5L692 1080" stroke="#000" stroke-width="3.2"/>
<circle cx="682.7" cy="1095" r="15.5" fill="#1f7ba1"/>
<text x="625" y="1151.5" font-size="44.7">ONE</text>
<path d="M886 1002L825 1121" stroke="#000" stroke-width="3.2"/>
<circle cx="817.4" cy="1136.6" r="15.5" fill="#d2391e"/>
<text x="750.5" y="1194" font-size="44.7">ONNE</text>
<path d="M102.5 557.7L207 526" stroke="#000" stroke-width="3.2"/>
<circle cx="81.6" cy="563" r="15.5" fill="#f1a63f"/>
<text x="36" y="627" font-size="44.7">IDE</text>
<path d="M69.7 787.7L174.3 757.8" stroke="#000" stroke-width="3.2"/>
<circle cx="50" cy="797" r="15.5" fill="#74b474"/>
<text x="12.5" y="856" font-size="44.7">IDM</text>
<path d="M498.4 1103.5L547 1178" stroke="#000" stroke-width="3.2"/>
<circle cx="557.7" cy="1199" r="15.5" fill="#7cc7e8"/>
<text x="527.7" y="1257" font-size="44.7">INP</text>
<path d="M354 1183L460 1305" stroke="#000" stroke-width="3.2"/>
<circle cx="476" cy="1322.4" r="15.5" fill="#1b9dd3"/>
<text x="437.8" y="1380" font-size="44.7">INPB</text>
<path d="M261.4 1314L324 1394" stroke="#000" stroke-width="3.2"/>
<circle cx="333.2" cy="1409.5" r="15.5" fill="#e0684f"/>
<text x="292.8" y="1474.4" font-size="44.7">INNE</text>
<text x="791" y="1356" font-size="44" text-anchor="middle">snRNAseq</text>
<text x="793" y="1398" font-size="39" text-anchor="middle" font-style="italic">13,711 nuclei</text>
<circle cx="200.5" cy="1635" r="16.5" fill="#7cc7e8"/>
<text x="239" y="1651" font-size="44.8">Inner Neural Plate (INP)</text>
<circle cx="200.5" cy="1721.5" r="16.5" fill="#1b9dd3"/>
<text x="241" y="1737.5" font-size="44.8">Inner Neural Plate Border (INPB)</text>
<circle cx="200.5" cy="1807.9" r="16.5" fill="#1f7ba1"/>
<text x="238" y="1823.9" font-size="44.8">Outer Neuroectoderm (ONE)</text>
<circle cx="200.5" cy="1894.3" r="16.5" fill="#e0684f"/>
<text x="242" y="1910.3" font-size="44.8">Inner Non-neural Ectoderm (INNE)</text>
<circle cx="200.5" cy="1980.8" r="16.5" fill="#d2391e"/>
<text x="238" y="1996.8" font-size="44.8">Outer Non-neural Ectoderm (ONNE)</text>
<circle cx="200.5" cy="2067.2" r="16.5" fill="#6b6b6b"/>
<text x="236" y="2083.2" font-size="44.8">Unidentified Cluster (UC)</text>
<circle cx="200.5" cy="2153.7" r="16.5" fill="#f1a63f"/>
<text x="241" y="2169.7" font-size="44.8">Inner Dorsal Endoderm (IDE)</text>
<circle cx="200.5" cy="2240.2" r="16.5" fill="#b9760f"/>
<text x="238" y="2256.2" font-size="44.8">Outer Dorsal Endoderm (ODE)</text>
<circle cx="200.5" cy="2326.6" r="16.5" fill="#f8d3a0"/>
<text x="245" y="2342.6" font-size="44.8">Inner Ventral Endoderm (IVE)</text>
<circle cx="200.5" cy="2413.1" r="16.5" fill="#fb8f3f"/>
<text x="239" y="2429.1" font-size="44.8">Outer Ventral Endoderm (OVE)</text>
<circle cx="200.5" cy="2499.5" r="16.5" fill="#74b474"/>
<text x="243" y="2515.5" font-size="44.8">Inner Dorsal Mesoderm (IDM)</text>
<circle cx="200.5" cy="2585.9" r="16.5" fill="#1e8e1e"/>
<text x="238" y="2601.9" font-size="44.8">Outer Dorsal Mesoderm (ODM)</text>
<circle cx="200.5" cy="2672.4" r="16.5" fill="#9ceb9c"/>
<text x="242" y="2688.4" font-size="44.8">Inner Ventral Mesoderm (IVM)</text>
<circle cx="200.5" cy="2758.9" r="16.5" fill="#23dd23"/>
<text x="235" y="2774.9" font-size="44.8">Outer Ventral Mesoderm (OVM)</text>
</g>
<g id="panel_c">
<text x="3" y="3255" font-size="176" font-weight="bold">C</text>
<defs><filter id="blur6" x="-20%" y="-20%" width="140%" height="160%"><feGaussianBlur stdDeviation="6"/></filter></defs>
<rect x="123.5" y="3282" width="802" height="578" fill="#d2c0c0" stroke="#2f4a8a" stroke-width="2"/>
<g stroke="#000" fill="none" stroke-width="8" transform="translate(3 7)" opacity="0.28" filter="url(#blur6)"><path d="M380.6 3450.7V3492.7M276.6 3551.7V3492.7H476.2V3551.7"/><path d="M638.8 3450.7V3492.7M552 3551.7V3492.7H718.8V3551.7"/><path d="M194.6 3580.2H395M429 3580.2H628.6M668.2 3580.2H839"/><path d="M256.6 3537.7H296.6L276.6 3576.7Z" fill="#000" stroke="none"/><path d="M456.2 3537.7H496.2L476.2 3576.7Z" fill="#000" stroke="none"/><path d="M532 3537.7H572L552 3576.7Z" fill="#000" stroke="none"/><path d="M698.8 3537.7H738.8L718.8 3576.7Z" fill="#000" stroke="none"/></g>
<g stroke="#404040" fill="none" stroke-width="8" transform="translate(0 0)"><path d="M380.6 3450.7V3492.7M276.6 3551.7V3492.7H476.2V3551.7"/><path d="M638.8 3450.7V3492.7M552 3551.7V3492.7H718.8V3551.7"/><path d="M194.6 3580.2H395M429 3580.2H628.6M668.2 3580.2H839"/><path d="M256.6 3537.7H296.6L276.6 3576.7Z" fill="#404040" stroke="none"/><path d="M456.2 3537.7H496.2L476.2 3576.7Z" fill="#404040" stroke="none"/><path d="M532 3537.7H572L552 3576.7Z" fill="#404040" stroke="none"/><path d="M698.8 3537.7H738.8L718.8 3576.7Z" fill="#404040" stroke="none"/></g>
<ellipse cx="380.6" cy="3376.7" rx="95.5" ry="74" fill="#f2f2f2" stroke="#404040" stroke-width="5"/>
<text x="380.6" y="3393.7" font-size="47" text-anchor="middle">Foxi2</text>
<ellipse cx="638.8" cy="3376.7" rx="95.5" ry="74" fill="#f2f2f2" stroke="#404040" stroke-width="5"/>
<text x="638.8" y="3393.7" font-size="47" text-anchor="middle">Sox3</text>
<text x="244" y="3629.5" font-size="41.5" font-style="italic"><tspan fill="#ff0000">klf5</tspan></text>
<text x="244" y="3679.6" font-size="41.5" font-style="italic"><tspan fill="#00b050">krt70</tspan></text>
<text x="244" y="3729.7" font-size="41.5" font-style="italic"><tspan fill="#ed7d31">nkx3-1</tspan></text>
<text x="463.2" y="3629.5" font-size="41.5" font-style="italic"><tspan fill="#ff0000">dlx3</tspan></text>
<text x="463.2" y="3679.6" font-size="41.5" font-style="italic"><tspan fill="#ff0000">tfap2a</tspan></text>
<text x="463.2" y="3729.7" font-size="41.5" font-style="italic"><tspan fill="#ff0000">hes5.1</tspan></text>
<text x="463.2" y="3779.8" font-size="41.5" font-style="italic"><tspan fill="#00b050">dlx5</tspan></text>
<text x="676.4" y="3629.5" font-size="41.5" font-style="italic"><tspan fill="#ff0000">lhx5, igf3</tspan></text>
<text x="676.4" y="3679.6" font-size="41.5" font-style="italic"><tspan fill="#ff0000">tp53inp2</tspan></text>
<text x="676.4" y="3729.7" font-size="41.5" font-style="italic"><tspan fill="#00b050">krt7, hes4</tspan></text>
<text x="676.4" y="3779.8" font-size="41.5" font-style="italic"><tspan fill="#00b050">bmp7.2</tspan></text>
<text x="138.7" y="3846" font-size="48">Outer NNE</text>
<rect x="125" y="3880.5" width="803.5" height="657.5" fill="#f8d7d3" stroke="#2f4a8a" stroke-width="2"/>
<g stroke="#000" fill="none" stroke-width="8" transform="translate(3 7)" opacity="0.28" filter="url(#blur6)"><path d="M388 4050.3V4092.3M284 4151.3V4092.3H483.6V4151.3"/><path d="M646.2 4050.3V4092.3M559.4 4151.3V4092.3H726.2V4151.3"/><path d="M203.6 4179.3H365.5M436.4 4179.3H636M675.6 4179.3H846.4"/><path d="M264 4137.3H304L284 4176.3Z" fill="#000" stroke="none"/><path d="M463.6 4137.3H503.6L483.6 4176.3Z" fill="#000" stroke="none"/><path d="M539.4 4137.3H579.4L559.4 4176.3Z" fill="#000" stroke="none"/><path d="M706.2 4137.3H746.2L726.2 4176.3Z" fill="#000" stroke="none"/></g>
<g stroke="#404040" fill="none" stroke-width="8" transform="translate(0 0)"><path d="M388 4050.3V4092.3M284 4151.3V4092.3H483.6V4151.3"/><path d="M646.2 4050.3V4092.3M559.4 4151.3V4092.3H726.2V4151.3"/><path d="M203.6 4179.3H365.5M436.4 4179.3H636M675.6 4179.3H846.4"/><path d="M264 4137.3H304L284 4176.3Z" fill="#404040" stroke="none"/><path d="M463.6 4137.3H503.6L483.6 4176.3Z" fill="#404040" stroke="none"/><path d="M539.4 4137.3H579.4L559.4 4176.3Z" fill="#404040" stroke="none"/><path d="M706.2 4137.3H746.2L726.2 4176.3Z" fill="#404040" stroke="none"/></g>
<ellipse cx="388" cy="3976.3" rx="95.5" ry="74" fill="#f2f2f2" stroke="#404040" stroke-width="5"/>
<text x="388" y="3993.3" font-size="47" text-anchor="middle">Foxi2</text>
<ellipse cx="646.2" cy="3976.3" rx="95.5" ry="74" fill="#f2f2f2" stroke="#404040" stroke-width="5"/>
<text x="646.2" y="3993.3" font-size="47" text-anchor="middle">Sox3</text>
<text x="247.3" y="4227" font-size="41.5" font-style="italic"><tspan fill="#ff0000">klf5</tspan></text>
<text x="442.7" y="4227" font-size="41.5" font-style="italic"><tspan fill="#ff0000">dlx3</tspan><tspan fill="#000">, </tspan><tspan fill="#4a86e8">tp63</tspan></text>
<text x="442.7" y="4277.3" font-size="41.5" font-style="italic"><tspan fill="#ff0000">tfap2a</tspan></text>
<text x="442.7" y="4327.6" font-size="41.5" font-style="italic"><tspan fill="#ff0000">hes5.1</tspan></text>
<text x="442.7" y="4377.9" font-size="41.5" font-style="italic"><tspan fill="#000">foxi1, hgf</tspan></text>
<text x="442.7" y="4428.2" font-size="41.5" font-style="italic"><tspan fill="#4a86e8">prdm14</tspan></text>
<text x="442.7" y="4478.5" font-size="41.5" font-style="italic"><tspan fill="#4a86e8">unc45b</tspan></text>
<text x="676.4" y="4227" font-size="41.5" font-style="italic"><tspan fill="#ff0000">lhx5, igf3</tspan></text>
<text x="676.4" y="4277.3" font-size="41.5" font-style="italic"><tspan fill="#ff0000">tp53inp2</tspan></text>
<text x="676.4" y="4327.6" font-size="41.5" font-style="italic"><tspan fill="#4a86e8">szl, zic4</tspan></text>
<text x="676.4" y="4377.9" font-size="41.5" font-style="italic"><tspan fill="#4a86e8">neurog3</tspan></text>
<text x="676.4" y="4428.2" font-size="41.5" font-style="italic"><tspan fill="#4a86e8">lrx2, gmnc,</tspan></text>
<text x="676.4" y="4478.5" font-size="41.5" font-style="italic"><tspan fill="#4a86e8">hes6.2</tspan></text>
<text x="141.4" y="4523" font-size="48">Inner NNE</text>
<rect x="2245.5" y="3282.5" width="804" height="590.5" fill="#c3c9d9" stroke="#2f4a8a" stroke-width="2"/>
<g stroke="#000" fill="none" stroke-width="8" transform="translate(3 7)" opacity="0.28" filter="url(#blur6)"><path d="M2509 3451.6V3493.6M2401 3552.6V3493.6H2600.6V3552.6"/><path d="M2767.2 3451.6V3493.6M2676.4 3552.6V3493.6H2843.2V3552.6"/><path d="M2317.8 3579.2H2519.4M2554 3579.2H2753.6M2793.2 3579.2H2964"/><path d="M2381 3538.6H2421L2401 3577.6Z" fill="#000" stroke="none"/><path d="M2580.6 3538.6H2620.6L2600.6 3577.6Z" fill="#000" stroke="none"/><path d="M2656.4 3538.6H2696.4L2676.4 3577.6Z" fill="#000" stroke="none"/><path d="M2823.2 3538.6H2863.2L2843.2 3577.6Z" fill="#000" stroke="none"/></g>
<g stroke="#404040" fill="none" stroke-width="8" transform="translate(0 0)"><path d="M2509 3451.6V3493.6M2401 3552.6V3493.6H2600.6V3552.6"/><path d="M2767.2 3451.6V3493.6M2676.4 3552.6V3493.6H2843.2V3552.6"/><path d="M2317.8 3579.2H2519.4M2554 3579.2H2753.6M2793.2 3579.2H2964"/><path d="M2381 3538.6H2421L2401 3577.6Z" fill="#404040" stroke="none"/><path d="M2580.6 3538.6H2620.6L2600.6 3577.6Z" fill="#404040" stroke="none"/><path d="M2656.4 3538.6H2696.4L2676.4 3577.6Z" fill="#404040" stroke="none"/><path d="M2823.2 3538.6H2863.2L2843.2 3577.6Z" fill="#404040" stroke="none"/></g>
<ellipse cx="2509" cy="3377.6" rx="95.5" ry="74" fill="#f2f2f2" stroke="#404040" stroke-width="5"/>
<text x="2509" y="3394.6" font-size="47" text-anchor="middle">Foxi2</text>
<ellipse cx="2767.2" cy="3377.6" rx="95.5" ry="74" fill="#f2f2f2" stroke="#404040" stroke-width="5"/>
<text x="2767.2" y="3394.6" font-size="47" text-anchor="middle">Sox3</text>
<text x="2343.8" y="3632.5" font-size="41.5" font-style="italic"><tspan fill="#ff0000">klf5</tspan></text>
<text x="2343.8" y="3682.6" font-size="41.5" font-style="italic"><tspan fill="#00b050">krt70</tspan></text>
<text x="2343.8" y="3732.7" font-size="41.5" font-style="italic"><tspan fill="#b58ce0">dusp1</tspan></text>
<text x="2587.7" y="3632.5" font-size="41.5" font-style="italic"><tspan fill="#ff0000">dlx3</tspan></text>
<text x="2587.7" y="3682.6" font-size="41.5" font-style="italic"><tspan fill="#ff0000">tfap2a</tspan></text>
<text x="2587.7" y="3732.7" font-size="41.5" font-style="italic"><tspan fill="#ff0000">hes5.1</tspan></text>
<text x="2587.7" y="3782.8" font-size="41.5" font-style="italic"><tspan fill="#00b050">dlx5</tspan></text>
<text x="2801.5" y="3615.4" font-size="41.5" font-style="italic"><tspan fill="#ff0000">lhx5, igf3</tspan></text>
<text x="2801.5" y="3665.5" font-size="41.5" font-style="italic"><tspan fill="#ff0000">tp53inp2</tspan></text>
<text x="2801.5" y="3715.6" font-size="41.5" font-style="italic"><tspan fill="#00b050">krt7, hes4</tspan></text>
<text x="2801.5" y="3765.7" font-size="41.5" font-style="italic"><tspan fill="#00b050">bmp7.2</tspan></text>
<text x="2259.7" y="3857.3" font-size="48">Outer Neuroectoderm</text>
<rect x="2245.5" y="3890" width="803.5" height="663.5" fill="#c9e9f5" stroke="#2f4a8a" stroke-width="2"/>
<g stroke="#000" fill="none" stroke-width="8" transform="translate(3 7)" opacity="0.28" filter="url(#blur6)"><path d="M2509 4058.6V4100.6M2401 4159.6V4100.6H2600.6V4159.6"/><path d="M2767.2 4058.6V4100.6M2676.4 4159.6V4100.6H2843.2V4159.6"/><path d="M2317.8 4186.2H2519.4M2554 4186.2H2753.6M2793.2 4186.2H2964"/><path d="M2381 4145.6H2421L2401 4184.6Z" fill="#000" stroke="none"/><path d="M2580.6 4145.6H2620.6L2600.6 4184.6Z" fill="#000" stroke="none"/><path d="M2656.4 4145.6H2696.4L2676.4 4184.6Z" fill="#000" stroke="none"/><path d="M2823.2 4145.6H2863.2L2843.2 4184.6Z" fill="#000" stroke="none"/></g>
<g stroke="#404040" fill="none" stroke-width="8" transform="translate(0 0)"><path d="M2509 4058.6V4100.6M2401 4159.6V4100.6H2600.6V4159.6"/><path d="M2767.2 4058.6V4100.6M2676.4 4159.6V4100.6H2843.2V4159.6"/><path d="M2317.8 4186.2H2519.4M2554 4186.2H2753.6M2793.2 4186.2H2964"/><path d="M2381 4145.6H2421L2401 4184.6Z" fill="#404040" stroke="none"/><path d="M2580.6 4145.6H2620.6L2600.6 4184.6Z" fill="#404040" stroke="none"/><path d="M2656.4 4145.6H2696.4L2676.4 4184.6Z" fill="#404040" stroke="none"/><path d="M2823.2 4145.6H2863.2L2843.2 4184.6Z" fill="#404040" stroke="none"/></g>
<ellipse cx="2509" cy="3984.6" rx="95.5" ry="74" fill="#f2f2f2" stroke="#404040" stroke-width="5"/>
<text x="2509" y="4001.6" font-size="47" text-anchor="middle">Foxi2</text>
<ellipse cx="2767.2" cy="3984.6" rx="95.5" ry="74" fill="#f2f2f2" stroke="#404040" stroke-width="5"/>
<text x="2767.2" y="4001.6" font-size="47" text-anchor="middle">Sox3</text>
<text x="2371" y="4238" font-size="41.5" font-style="italic"><tspan fill="#ff0000">klf5</tspan></text>
<text x="2371" y="4288.2" font-size="41.5" font-style="italic"><tspan fill="#7030a0">kit</tspan></text>
<text x="2371" y="4338.4" font-size="41.5" font-style="italic"><tspan fill="#7030a0">esr5</tspan></text>
<text x="2574" y="4232.6" font-size="41.5" font-style="italic"><tspan fill="#ff0000">dlx3</tspan><tspan fill="#000">, </tspan><tspan fill="#4a86e8">tp63</tspan></text>
<text x="2574" y="4283" font-size="41.5" font-style="italic"><tspan fill="#ff0000">tfap2a</tspan></text>
<text x="2574" y="4333.4" font-size="41.5" font-style="italic"><tspan fill="#ff0000">hes5.1</tspan></text>
<text x="2574" y="4383.8" font-size="41.5" font-style="italic"><tspan fill="#4a86e8">unc45b</tspan></text>
<text x="2574" y="4434.2" font-size="41.5" font-style="italic"><tspan fill="#4a86e8">prdm14</tspan></text>
<text x="2801.5" y="4238" font-size="41.5" font-style="italic"><tspan fill="#ff0000">lhx5, igf3</tspan></text>
<text x="2801.5" y="4288.2" font-size="41.5" font-style="italic"><tspan fill="#ff0000">tp53inp2</tspan></text>
<text x="2801.5" y="4338.4" font-size="41.5" font-style="italic"><tspan fill="#4a86e8">szl, zic4</tspan></text>
<text x="2801.5" y="4388.6" font-size="41.5" font-style="italic"><tspan fill="#4a86e8">neurog3</tspan></text>
<text x="2801.5" y="4438.8" font-size="41.5" font-style="italic"><tspan fill="#4a86e8">lrx2, gmnc,</tspan></text>
<text x="2801.5" y="4489" font-size="41.5" font-style="italic"><tspan fill="#4a86e8">hes6.2</tspan></text>
<text x="2257.7" y="4538.7" font-size="48">Inner Neuroectoderm</text>
<defs><clipPath id="massclip"><path d="M1247.2 3574.8L1211.8 3567.3L1174.5 3556.1L1139.1 3559.9L1128 3548.7L1126.8 3551.6L1125.3 3555.7L1123.4 3560.6L1121.5 3566.1L1119.5 3572L1117.5 3578.3L1115.4 3585L1113.3 3592.3L1111.1 3600.3L1109 3609L1106.9 3618.9L1104.7 3629.8L1102.7 3641.2L1100.7 3652.4L1099 3662.7L1097.5 3671.8L1096.1 3680L1095 3688L1094.1 3696.2L1093.5 3705L1093.2 3714.6L1093.3 3724.5L1093.6 3734.8L1094.1 3745.4L1094.9 3756L1095.9 3766.9L1097.1 3778L1098.6 3789.2L1100.3 3800.6L1102.4 3811.8L1104.8 3823L1107.5 3834.2L1110.5 3845.3L1113.7 3856.5L1117.3 3867.7L1121.2 3879L1125.5 3890.4L1130.1 3901.8L1134.8 3912.9L1139.6 3923.6L1144.5 3933.8L1149.4 3943.5L1154.5 3953L1159.9 3962.4L1165.7 3972L1171.9 3981.7L1178.4 3991.6L1185.2 4001.3L1192.2 4011L1199.3 4020.5L1206.4 4029.8L1213.7 4038.9L1221.2 4048L1228.8 4056.8L1236.5 4065.5L1244.3 4074L1252.3 4082.2L1260.4 4090.3L1268.8 4098.4L1277.5 4106.5L1286.7 4114.8L1296.2 4123.3L1306 4131.6L1315.9 4139.8L1326 4147.5L1336.1 4154.8L1346.4 4161.8L1356.9 4168.5L1367.5 4174.9L1378.2 4181L1389.1 4186.8L1400.3 4192.4L1411.6 4197.6L1422.9 4202.5L1434.1 4207L1445.3 4211.1L1456.5 4214.8L1467.6 4218.1L1478.8 4221.2L1490 4224L1501.2 4226.6L1512.5 4228.9L1523.8 4230.9L1535 4232.6L1545.9 4234L1556.9 4235L1568 4235.7L1578.8 4236.1L1588.9 4236.4L1598 4236.5L1605.5 4236.5L1611.6 4236.3L1617.2 4236L1623.1 4235.6L1630 4235L1638.2 4234.3L1647.1 4233.5L1656.5 4232.6L1665.8 4231.6L1674.8 4230.5L1683.4 4229.3L1691.9 4228L1700.2 4226.7L1708.4 4225.2L1716.5 4223.5L1724.5 4221.7L1732.4 4219.7L1740.1 4217.5L1747.6 4215.3L1754.8 4213L1761.6 4210.6L1768.2 4208L1774.4 4205.4L1780.4 4202.7L1786.1 4200L1791.7 4197.3L1797.2 4194.5L1802.3 4191.7L1806.8 4188.9L1810.4 4186.1L1813 4183.4L1814.9 4180.7L1816.1 4178L1816.8 4175.2L1817.4 4172.2L1817.7 4169L1817.5 4165.7L1817 4162.2L1816.4 4158.6L1815.7 4154.8L1814.9 4150.8L1813.9 4146.5L1812.8 4142.2L1811.9 4137.9L1811.1 4133.9L1810.5 4129.8L1810 4125.6L1809.6 4121.7L1809.5 4118.5L1809.7 4116.5L1810.3 4116L1811.3 4116.8L1812.5 4118.3L1814 4120.1L1815.7 4121.7L1817.6 4123.2L1819.8 4125L1822.3 4126.9L1824.9 4128.7L1827.8 4130.4L1830.9 4132L1834.2 4133.5L1837.7 4134.9L1841.4 4136.3L1845.2 4137.4L1849.1 4138.5L1853.1 4139.6L1857.3 4140.5L1861.6 4141L1866.1 4140.9L1870.8 4140.1L1875.7 4138.6L1880.8 4136.8L1885.7 4134.6L1890.4 4132.2L1894.7 4129.6L1898.8 4126.7L1902.9 4123.5L1907 4120.1L1911.3 4116.5L1916 4112.7L1920.8 4108.6L1925.8 4104.3L1930.8 4099.9L1935.7 4095.7L1940.6 4091.5L1945.4 4087.3L1950.3 4083.2L1955.1 4079L1960 4074.8L1964.9 4070.6L1969.9 4066.4L1974.8 4062.3L1979.7 4058.1L1984.3 4053.9L1988.8 4049.7L1993.1 4045.5L1997.3 4041.4L2001.3 4037.2L2005.2 4033L2008.9 4028.9L2012.4 4025L2015.8 4021L2019.2 4016.8L2022.6 4012.2L2026.1 4007.1L2029.7 4001.7L2033.3 3996L2036.7 3990.2L2040 3984.3L2043.1 3978.3L2046 3972.2L2048.8 3965.9L2051.4 3959.5L2053.9 3953L2056.3 3946.3L2058.5 3939.4L2060.5 3932.4L2062.5 3925.3L2064.3 3918.3L2066 3911.3L2067.6 3904.4L2069 3897.4L2070.3 3890.5L2071.5 3883.5L2072.6 3876.5L2073.5 3869.6L2074.3 3862.6L2074.9 3855.7L2075.5 3848.7L2076 3841.6L2076.5 3834.4L2076.8 3827.3L2076.9 3820.4L2076.5 3813.9L2075.6 3807.9L2074.2 3802.4L2072.6 3797.1L2071 3791.8L2069.6 3786.1L2068.3 3780.1L2067 3774L2065.8 3767.7L2064.9 3761.3L2064.3 3754.8L2064.3 3748.1L2064.8 3741.1L2065.5 3734.1L2066.1 3727L2066.1 3720L2065.5 3712.8L2064.5 3705.2L2063.3 3697.9L2062 3691L2060.9 3685.2L2059.9 3680.3L2058.9 3676.2L2058 3672.8L2057.2 3670L2056.6 3667.9L2043.5 3673.5L2021.2 3682.1L2010 3673.5L1998.8 3664.2L1987.6 3651.2L1965.3 3634.4L1963.9 3636.6L1962.8 3640.1L1959 3642.8L1955.7 3646.1L1954.2 3651.3L1949.6 3654.7L1945.1 3659.4L1938.5 3661.9L1935.9 3670.6L1928.2 3670.2L1921.9 3670.7L1916.7 3673.8L1910.8 3674.3L1904.7 3675.1L1898.3 3673.5L1891.5 3674.2L1884.2 3675L1877.7 3669.8L1869.4 3670.1L1861.1 3667.2L1851.2 3666.5L1840.7 3663.6L1829.4 3662.6L1818.7 3659.9L1808.7 3659L1799.3 3659.2L1790.9 3655.5L1782.7 3654.2L1774.7 3655.1L1767.6 3653.4L1761.7 3650.9L1756 3648.8L1752.3 3644.4L1747.2 3642.9L1741.6 3641.9L1734.9 3644L1727.5 3648.6L1719.4 3652.9L1711.2 3655.8L1704.1 3656.4L1698.1 3657.7L1692 3656.9L1687.3 3652.2L1680.7 3650.6L1674 3648.8L1668.4 3643.6L1661.1 3642.3L1653.8 3640.2L1646.6 3635.5L1636.8 3636.2L1627.3 3631.2L1615.8 3629.7L1603.8 3628.3L1591.8 3625.2L1580.1 3621.8L1567.2 3621.5L1553.5 3621L1540.4 3617.9L1528.7 3615.5L1519.7 3617L1514.9 3617.7L1513.8 3619.7L1512.9 3622.3L1510.4 3624L1506.4 3627.9L1498.2 3627.3L1488.3 3625.2L1476.9 3624.5L1464.8 3623.3L1452.7 3620.7L1439.8 3620.1L1425.9 3620.1L1411.9 3618L1398.2 3615.8L1385.4 3616.3L1373.8 3616.5L1362.7 3615.4L1352.5 3619.1L1342.5 3622.4L1331.7 3622.5L1320.6 3625.6L1308.5 3625.6L1296.6 3624.4L1286.2 3624.2L1278.2 3624.1L1272.8 3624.3L1269.8 3622.9L1267.1 3622.5L1268 3618.7L1263.9 3617.7L1262.2 3614.3L1261.1 3610.2L1258.5 3606.3L1258.6 3601.4L1255.5 3597.5L1252.8 3593.2L1252.1 3587.4L1251.6 3581.7L1249.1 3577.6Z"/></clipPath><filter id="blur30" x="-50%" y="-50%" width="200%" height="200%"><feGaussianBlur stdDeviation="28"/></filter></defs>
<path d="M1247.2 3574.8L1211.8 3567.3L1174.5 3556.1L1139.1 3559.9L1128 3548.7L1126.8 3551.6L1125.3 3555.7L1123.4 3560.6L1121.5 3566.1L1119.5 3572L1117.5 3578.3L1115.4 3585L1113.3 3592.3L1111.1 3600.3L1109 3609L1106.9 3618.9L1104.7 3629.8L1102.7 3641.2L1100.7 3652.4L1099 3662.7L1097.5 3671.8L1096.1 3680L1095 3688L1094.1 3696.2L1093.5 3705L1093.2 3714.6L1093.3 3724.5L1093.6 3734.8L1094.1 3745.4L1094.9 3756L1095.9 3766.9L1097.1 3778L1098.6 3789.2L1100.3 3800.6L1102.4 3811.8L1104.8 3823L1107.5 3834.2L1110.5 3845.3L1113.7 3856.5L1117.3 3867.7L1121.2 3879L1125.5 3890.4L1130.1 3901.8L1134.8 3912.9L1139.6 3923.6L1144.5 3933.8L1149.4 3943.5L1154.5 3953L1159.9 3962.4L1165.7 3972L1171.9 3981.7L1178.4 3991.6L1185.2 4001.3L1192.2 4011L1199.3 4020.5L1206.4 4029.8L1213.7 4038.9L1221.2 4048L1228.8 4056.8L1236.5 4065.5L1244.3 4074L1252.3 4082.2L1260.4 4090.3L1268.8 4098.4L1277.5 4106.5L1286.7 4114.8L1296.2 4123.3L1306 4131.6L1315.9 4139.8L1326 4147.5L1336.1 4154.8L1346.4 4161.8L1356.9 4168.5L1367.5 4174.9L1378.2 4181L1389.1 4186.8L1400.3 4192.4L1411.6 4197.6L1422.9 4202.5L1434.1 4207L1445.3 4211.1L1456.5 4214.8L1467.6 4218.1L1478.8 4221.2L1490 4224L1501.2 4226.6L1512.5 4228.9L1523.8 4230.9L1535 4232.6L1545.9 4234L1556.9 4235L1568 4235.7L1578.8 4236.1L1588.9 4236.4L1598 4236.5L1605.5 4236.5L1611.6 4236.3L1617.2 4236L1623.1 4235.6L1630 4235L1638.2 4234.3L1647.1 4233.5L1656.5 4232.6L1665.8 4231.6L1674.8 4230.5L1683.4 4229.3L1691.9 4228L1700.2 4226.7L1708.4 4225.2L1716.5 4223.5L1724.5 4221.7L1732.4 4219.7L1740.1 4217.5L1747.6 4215.3L1754.8 4213L1761.6 4210.6L1768.2 4208L1774.4 4205.4L1780.4 4202.7L1786.1 4200L1791.7 4197.3L1797.2 4194.5L1802.3 4191.7L1806.8 4188.9L1810.4 4186.1L1813 4183.4L1814.9 4180.7L1816.1 4178L1816.8 4175.2L1817.4 4172.2L1817.7 4169L1817.5 4165.7L1817 4162.2L1816.4 4158.6L1815.7 4154.8L1814.9 4150.8L1813.9 4146.5L1812.8 4142.2L1811.9 4137.9L1811.1 4133.9L1810.5 4129.8L1810 4125.6L1809.6 4121.7L1809.5 4118.5L1809.7 4116.5L1810.3 4116L1811.3 4116.8L1812.5 4118.3L1814 4120.1L1815.7 4121.7L1817.6 4123.2L1819.8 4125L1822.3 4126.9L1824.9 4128.7L1827.8 4130.4L1830.9 4132L1834.2 4133.5L1837.7 4134.9L1841.4 4136.3L1845.2 4137.4L1849.1 4138.5L1853.1 4139.6L1857.3 4140.5L1861.6 4141L1866.1 4140.9L1870.8 4140.1L1875.7 4138.6L1880.8 4136.8L1885.7 4134.6L1890.4 4132.2L1894.7 4129.6L1898.8 4126.7L1902.9 4123.5L1907 4120.1L1911.3 4116.5L1916 4112.7L1920.8 4108.6L1925.8 4104.3L1930.8 4099.9L1935.7 4095.7L1940.6 4091.5L1945.4 4087.3L1950.3 4083.2L1955.1 4079L1960 4074.8L1964.9 4070.6L1969.9 4066.4L1974.8 4062.3L1979.7 4058.1L1984.3 4053.9L1988.8 4049.7L1993.1 4045.5L1997.3 4041.4L2001.3 4037.2L2005.2 4033L2008.9 4028.9L2012.4 4025L2015.8 4021L2019.2 4016.8L2022.6 4012.2L2026.1 4007.1L2029.7 4001.7L2033.3 3996L2036.7 3990.2L2040 3984.3L2043.1 3978.3L2046 3972.2L2048.8 3965.9L2051.4 3959.5L2053.9 3953L2056.3 3946.3L2058.5 3939.4L2060.5 3932.4L2062.5 3925.3L2064.3 3918.3L2066 3911.3L2067.6 3904.4L2069 3897.4L2070.3 3890.5L2071.5 3883.5L2072.6 3876.5L2073.5 3869.6L2074.3 3862.6L2074.9 3855.7L2075.5 3848.7L2076 3841.6L2076.5 3834.4L2076.8 3827.3L2076.9 3820.4L2076.5 3813.9L2075.6 3807.9L2074.2 3802.4L2072.6 3797.1L2071 3791.8L2069.6 3786.1L2068.3 3780.1L2067 3774L2065.8 3767.7L2064.9 3761.3L2064.3 3754.8L2064.3 3748.1L2064.8 3741.1L2065.5 3734.1L2066.1 3727L2066.1 3720L2065.5 3712.8L2064.5 3705.2L2063.3 3697.9L2062 3691L2060.9 3685.2L2059.9 3680.3L2058.9 3676.2L2058 3672.8L2057.2 3670L2056.6 3667.9L2043.5 3673.5L2021.2 3682.1L2010 3673.5L1998.8 3664.2L1987.6 3651.2L1965.3 3634.4L1963.9 3636.6L1962.8 3640.1L1959 3642.8L1955.7 3646.1L1954.2 3651.3L1949.6 3654.7L1945.1 3659.4L1938.5 3661.9L1935.9 3670.6L1928.2 3670.2L1921.9 3670.7L1916.7 3673.8L1910.8 3674.3L1904.7 3675.1L1898.3 3673.5L1891.5 3674.2L1884.2 3675L1877.7 3669.8L1869.4 3670.1L1861.1 3667.2L1851.2 3666.5L1840.7 3663.6L1829.4 3662.6L1818.7 3659.9L1808.7 3659L1799.3 3659.2L1790.9 3655.5L1782.7 3654.2L1774.7 3655.1L1767.6 3653.4L1761.7 3650.9L1756 3648.8L1752.3 3644.4L1747.2 3642.9L1741.6 3641.9L1734.9 3644L1727.5 3648.6L1719.4 3652.9L1711.2 3655.8L1704.1 3656.4L1698.1 3657.7L1692 3656.9L1687.3 3652.2L1680.7 3650.6L1674 3648.8L1668.4 3643.6L1661.1 3642.3L1653.8 3640.2L1646.6 3635.5L1636.8 3636.2L1627.3 3631.2L1615.8 3629.7L1603.8 3628.3L1591.8 3625.2L1580.1 3621.8L1567.2 3621.5L1553.5 3621L1540.4 3617.9L1528.7 3615.5L1519.7 3617L1514.9 3617.7L1513.8 3619.7L1512.9 3622.3L1510.4 3624L1506.4 3627.9L1498.2 3627.3L1488.3 3625.2L1476.9 3624.5L1464.8 3623.3L1452.7 3620.7L1439.8 3620.1L1425.9 3620.1L1411.9 3618L1398.2 3615.8L1385.4 3616.3L1373.8 3616.5L1362.7 3615.4L1352.5 3619.1L1342.5 3622.4L1331.7 3622.5L1320.6 3625.6L1308.5 3625.6L1296.6 3624.4L1286.2 3624.2L1278.2 3624.1L1272.8 3624.3L1269.8 3622.9L1267.1 3622.5L1268 3618.7L1263.9 3617.7L1262.2 3614.3L1261.1 3610.2L1258.5 3606.3L1258.6 3601.4L1255.5 3597.5L1252.8 3593.2L1252.1 3587.4L1251.6 3581.7L1249.1 3577.6Z" fill="#f2f0ea"/>
<g clip-path="url(#massclip)" filter="url(#blur30)">
<ellipse cx="1164" cy="3649.3" rx="90" ry="120" fill="#e3eee4"/>
<ellipse cx="2002.6" cy="3857.3" rx="95" ry="220" fill="#e6eee6"/>
<ellipse cx="1184.2" cy="3957.9" rx="110" ry="190" fill="#f1e9e4"/>
</g>
<path d="M1480 3926Q1495 3922 1485 3909L1473 3892Q1464 3879 1454 3884L1440 3891Q1429 3897 1434 3909L1440 3925Q1445 3937 1460 3933ZM1452 3797Q1451 3786 1446 3780L1439 3773Q1434 3767 1428 3770L1419 3775Q1412 3778 1408 3789L1402 3804Q1397 3815 1408 3821L1423 3829Q1434 3834 1439 3833L1445 3832Q1449 3831 1451 3828L1453 3825Q1454 3823 1453 3812ZM1623 3827Q1618 3847 1619 3849L1620 3851Q1621 3852 1631 3852L1644 3852Q1654 3852 1662 3843L1674 3833Q1682 3825 1683 3819L1685 3810Q1686 3804 1671 3797L1652 3788Q1637 3782 1631 3801ZM1968 3867Q1964 3863 1963 3863L1961 3863Q1960 3863 1958 3865L1956 3868Q1954 3869 1954 3875L1953 3882Q1953 3887 1956 3888L1960 3888Q1963 3889 1968 3885L1974 3881Q1979 3877 1974 3873ZM1494 3675Q1494 3673 1486 3665L1474 3654Q1465 3645 1455 3647L1443 3650Q1433 3653 1429 3664L1425 3679Q1421 3691 1422 3692L1423 3694Q1423 3695 1433 3697L1446 3699Q1456 3701 1467 3694L1482 3685Q1494 3678 1494 3676ZM1293 3690Q1290 3686 1285 3688L1277 3692Q1272 3694 1269 3701L1264 3710Q1261 3717 1262 3718L1262 3721Q1263 3722 1268 3724L1274 3726Q1279 3727 1284 3725L1290 3723Q1295 3721 1296 3715L1297 3706Q1299 3700 1296 3696ZM1673 4033Q1687 4034 1692 4030L1699 4024Q1704 4020 1699 4008L1693 3992Q1689 3980 1673 3981L1651 3982Q1635 3983 1633 3985L1632 3986Q1630 3988 1633 4001L1638 4018Q1641 4031 1655 4032ZM1488 4145Q1484 4142 1475 4145L1462 4148Q1452 4150 1450 4158L1448 4169Q1447 4177 1454 4186L1463 4197Q1470 4205 1477 4201L1485 4195Q1491 4191 1492 4179L1495 4163Q1496 4151 1493 4148ZM1379 3662Q1380 3672 1392 3678L1409 3685Q1421 3691 1425 3679L1429 3664Q1433 3653 1424 3642L1411 3627Q1402 3616 1400 3616L1397 3616Q1394 3616 1390 3623L1383 3632Q1379 3639 1379 3649ZM1496 3758Q1500 3749 1498 3747L1496 3744Q1495 3741 1486 3740L1474 3739Q1466 3737 1456 3746L1444 3758Q1434 3767 1439 3773L1446 3780Q1451 3786 1462 3784L1478 3781Q1489 3780 1492 3771ZM1150 3661Q1148 3659 1143 3660L1136 3662Q1131 3664 1129 3669L1126 3676Q1123 3680 1126 3684L1129 3688Q1131 3691 1138 3687L1149 3681Q1156 3677 1156 3674L1155 3670Q1154 3667 1152 3664ZM1707 3793Q1710 3792 1718 3784L1727 3774Q1735 3766 1731 3754L1727 3739Q1723 3728 1721 3727L1717 3726Q1714 3725 1704 3727L1691 3731Q1681 3734 1686 3752L1693 3776Q1699 3794 1702 3794ZM1821 3751Q1811 3753 1805 3761L1797 3772Q1791 3781 1801 3786L1813 3792Q1822 3797 1831 3789L1844 3777Q1853 3769 1851 3762L1848 3753Q1846 3746 1836 3748ZM1484 4084Q1485 4083 1481 4076L1474 4067Q1470 4060 1451 4061L1426 4062Q1408 4063 1406 4072L1404 4084Q1402 4094 1407 4100L1415 4108Q1420 4114 1439 4106L1464 4096Q1482 4088 1483 4086ZM1764 4182Q1762 4171 1753 4166L1741 4159Q1732 4154 1726 4165L1717 4181Q1711 4193 1717 4201L1725 4212Q1731 4220 1742 4216L1757 4211Q1769 4208 1767 4197ZM1505 3653Q1501 3668 1518 3665L1541 3661Q1558 3659 1558 3647L1559 3632Q1559 3621 1550 3620L1538 3617Q1529 3616 1525 3616L1520 3617Q1516 3618 1511 3633ZM1327 3887Q1332 3875 1330 3868L1326 3858Q1323 3851 1318 3850L1311 3849Q1306 3849 1299 3857L1288 3868Q1281 3876 1282 3886L1284 3901Q1286 3912 1294 3913L1305 3915Q1313 3916 1319 3904ZM2014 3800Q2019 3802 2025 3799L2032 3795Q2037 3792 2036 3789L2033 3785Q2031 3782 2027 3782L2022 3781Q2018 3780 2013 3784L2007 3790Q2002 3794 2007 3797ZM1193 4005Q1189 4006 1201 4021L1217 4042Q1229 4057 1236 4049L1245 4038Q1252 4030 1251 4025L1250 4018Q1249 4012 1235 4009L1217 4005Q1204 4001 1199 4003ZM1118 3839Q1122 3836 1122 3828L1122 3817Q1122 3808 1121 3807L1119 3804Q1118 3802 1112 3800L1105 3797Q1099 3795 1103 3810L1107 3830Q1111 3846 1114 3843ZM1506 4022Q1495 4017 1488 4021L1477 4027Q1469 4031 1469 4040L1470 4051Q1470 4060 1474 4067L1481 4076Q1485 4083 1492 4082L1501 4081Q1508 4080 1515 4070L1526 4056Q1534 4046 1533 4042L1532 4036Q1531 4032 1520 4028ZM1790 3943Q1792 3933 1783 3925L1772 3914Q1763 3906 1755 3919L1745 3936Q1737 3949 1744 3957L1754 3968Q1762 3977 1763 3977L1764 3977Q1765 3977 1772 3974L1780 3970Q1787 3967 1788 3957ZM1523 3979Q1534 3981 1539 3971L1545 3957Q1550 3946 1542 3938L1533 3927Q1525 3919 1522 3919L1518 3918Q1515 3918 1511 3920L1506 3922Q1502 3924 1501 3939L1499 3959Q1498 3974 1509 3976ZM1720 3655Q1720 3657 1733 3668L1750 3683Q1763 3694 1770 3683L1780 3667Q1787 3655 1781 3654L1773 3654Q1768 3653 1764 3652L1759 3650Q1756 3649 1755 3647L1753 3646Q1752 3644 1749 3644L1745 3643Q1742 3642 1735 3645L1726 3649Q1720 3653 1720 3654ZM1336 3925Q1320 3923 1318 3935L1316 3951Q1315 3963 1322 3970L1331 3979Q1337 3986 1351 3982L1368 3976Q1381 3971 1379 3958L1375 3941Q1373 3928 1357 3927ZM1801 3786Q1791 3781 1790 3781L1788 3781Q1787 3782 1784 3788L1780 3796Q1777 3802 1779 3815L1782 3831Q1785 3844 1789 3845L1794 3848Q1798 3850 1802 3848L1806 3846Q1810 3845 1815 3834L1822 3820Q1828 3810 1828 3809L1827 3807Q1827 3806 1826 3803L1824 3800Q1822 3797 1813 3792ZM1466 3639Q1465 3645 1474 3654L1486 3665Q1494 3673 1496 3672L1499 3670Q1501 3668 1505 3653L1511 3633Q1516 3618 1513 3621L1509 3625Q1506 3628 1495 3627L1479 3625Q1468 3624 1467 3630ZM1365 3826Q1370 3827 1378 3824L1389 3819Q1397 3815 1402 3804L1408 3789Q1412 3778 1399 3773L1381 3766Q1368 3761 1364 3765L1359 3769Q1355 3773 1353 3782L1350 3793Q1348 3802 1350 3808L1353 3816Q1355 3823 1359 3824ZM1917 3783Q1921 3779 1918 3775L1913 3770Q1910 3766 1906 3769L1900 3772Q1895 3775 1896 3778L1897 3783Q1897 3786 1901 3788L1906 3790Q1909 3791 1913 3788ZM1346 4027Q1349 4044 1364 4042L1384 4040Q1399 4038 1402 4031L1405 4021Q1407 4013 1400 4001L1389 3984Q1381 3971 1369 3976L1352 3982Q1339 3987 1342 4004ZM1116 3760Q1125 3764 1126 3763L1128 3763Q1129 3762 1129 3758L1130 3751Q1131 3746 1130 3746L1129 3744Q1128 3744 1120 3740L1108 3735Q1100 3732 1098 3732L1095 3732Q1093 3732 1094 3738L1094 3745Q1094 3750 1104 3754ZM1902 3817Q1908 3813 1901 3809L1891 3804Q1885 3800 1883 3808L1880 3818Q1879 3825 1882 3826L1886 3826Q1889 3827 1894 3823ZM1216 3816Q1223 3819 1225 3818L1228 3817Q1230 3816 1229 3804L1228 3788Q1226 3776 1217 3778L1205 3781Q1196 3783 1197 3791L1199 3801Q1200 3809 1207 3812ZM1275 4093Q1269 4098 1284 4112L1305 4130Q1321 4143 1323 4141L1326 4137Q1328 4135 1326 4123L1323 4106Q1321 4094 1311 4090L1298 4084Q1288 4080 1282 4085ZM1664 4214Q1676 4219 1681 4211L1689 4201Q1695 4193 1688 4186L1679 4177Q1673 4170 1665 4173L1655 4176Q1648 4179 1645 4187L1640 4197Q1637 4205 1649 4209ZM1418 3877Q1414 3867 1405 3865L1394 3862Q1386 3860 1381 3870L1374 3883Q1369 3893 1371 3901L1375 3910Q1377 3918 1392 3912L1413 3905Q1428 3900 1424 3890ZM1199 4003Q1204 4001 1209 3987L1215 3969Q1220 3955 1215 3951L1209 3946Q1204 3942 1193 3944L1178 3948Q1167 3951 1165 3954L1162 3959Q1160 3962 1168 3975L1180 3993Q1189 4006 1193 4005ZM1348 4071Q1347 4083 1356 4088L1368 4094Q1377 4099 1385 4097L1395 4095Q1402 4094 1404 4084L1406 4072Q1408 4063 1405 4056L1402 4046Q1399 4038 1384 4040L1364 4042Q1349 4044 1349 4056ZM1946 3940Q1942 3946 1946 3950L1951 3955Q1955 3959 1960 3953L1967 3946Q1972 3940 1971 3938L1971 3935Q1970 3933 1966 3931L1960 3929Q1956 3927 1952 3933ZM1385 4097Q1377 4099 1372 4110L1364 4123Q1358 4134 1364 4142L1372 4154Q1378 4162 1384 4161L1391 4160Q1396 4159 1404 4149L1414 4135Q1422 4125 1421 4122L1420 4117Q1420 4114 1415 4108L1407 4100Q1402 4094 1395 4095ZM1811 3981Q1807 3973 1801 3971L1793 3969Q1787 3967 1780 3970L1772 3974Q1765 3977 1769 3989L1775 4005Q1779 4016 1788 4016L1801 4015Q1811 4015 1814 4010L1818 4003Q1822 3998 1817 3991ZM1888 3708Q1890 3699 1880 3691L1867 3682Q1858 3675 1855 3678L1852 3682Q1850 3684 1855 3698L1862 3716Q1867 3730 1872 3730L1879 3730Q1884 3730 1886 3721ZM1298 3840Q1294 3836 1283 3834L1267 3831Q1255 3829 1252 3841L1247 3856Q1244 3867 1255 3870L1270 3873Q1281 3876 1288 3868L1299 3857Q1306 3849 1303 3845ZM1287 3656Q1283 3650 1280 3649L1275 3649Q1272 3648 1266 3653L1258 3659Q1252 3664 1264 3669L1279 3676Q1290 3682 1292 3679L1294 3674Q1295 3671 1291 3664ZM1831 4042Q1821 4044 1815 4053L1807 4065Q1802 4074 1804 4077L1807 4082Q1810 4085 1822 4086L1838 4088Q1850 4089 1855 4082L1861 4073Q1866 4066 1863 4057L1858 4046Q1855 4038 1845 4040ZM1968 3885Q1963 3889 1967 3893L1971 3898Q1975 3902 1980 3897L1986 3890Q1990 3885 1988 3883L1985 3880Q1982 3878 1981 3878L1980 3878Q1979 3877 1974 3881ZM1863 3986Q1857 3983 1852 3988L1844 3994Q1839 3999 1844 4010L1851 4025Q1856 4036 1865 4030L1877 4022Q1886 4016 1884 4009L1880 4000Q1877 3993 1871 3990ZM1520 4148Q1531 4147 1533 4135L1536 4121Q1538 4109 1529 4101L1517 4089Q1508 4080 1501 4081L1492 4082Q1485 4083 1484 4084L1483 4086Q1482 4088 1483 4104L1484 4126Q1484 4142 1488 4145L1493 4148Q1496 4151 1507 4149ZM1261 3935Q1262 3929 1252 3920L1239 3907Q1229 3897 1222 3901L1213 3905Q1207 3908 1206 3918L1205 3931Q1204 3942 1209 3946L1215 3951Q1220 3955 1232 3953L1247 3949Q1259 3947 1260 3942ZM1967 3647Q1970 3649 1973 3648L1977 3647Q1980 3645 1976 3642L1970 3638Q1965 3634 1964 3636L1962 3639Q1961 3641 1964 3644ZM1804 4077Q1802 4074 1783 4080L1758 4087Q1740 4093 1739 4094L1738 4095Q1737 4096 1738 4102L1739 4109Q1739 4114 1758 4119L1783 4126Q1802 4132 1804 4118L1807 4099Q1810 4085 1807 4082ZM1448 3955Q1442 3945 1424 3953L1400 3962Q1382 3970 1389 3983L1400 4000Q1407 4013 1418 4012L1432 4010Q1443 4008 1448 3999L1455 3986Q1460 3977 1455 3967ZM1635 3966Q1635 3983 1651 3982L1673 3981Q1689 3980 1692 3970L1696 3957Q1700 3947 1699 3946L1699 3945Q1698 3944 1687 3938L1672 3929Q1661 3923 1654 3924L1644 3925Q1637 3926 1636 3943ZM1543 3832Q1542 3846 1558 3843L1580 3838Q1596 3835 1592 3821L1586 3802Q1583 3788 1581 3787L1580 3786Q1579 3786 1569 3790L1556 3795Q1546 3799 1545 3813ZM2011 3953Q2001 3949 2001 3956L2000 3964Q2000 3971 2006 3973L2016 3977Q2022 3979 2025 3974L2030 3967Q2033 3961 2023 3958ZM2002 3996Q2004 3997 2011 3995L2019 3992Q2025 3990 2024 3987L2023 3982Q2022 3979 2016 3977L2006 3973Q2000 3971 1998 3973L1996 3976Q1995 3977 1995 3982L1996 3988Q1997 3993 1999 3994ZM1197 3791Q1196 3783 1188 3786L1177 3791Q1169 3794 1170 3799L1170 3805Q1171 3810 1176 3813L1182 3816Q1187 3819 1191 3816L1196 3812Q1200 3809 1199 3801ZM1581 3787Q1583 3788 1597 3785L1616 3781Q1630 3779 1624 3766L1616 3749Q1610 3736 1598 3739L1583 3742Q1571 3745 1573 3757L1576 3773Q1579 3786 1580 3786ZM1938 3676Q1938 3679 1948 3679L1962 3680Q1972 3681 1972 3679L1973 3677Q1973 3675 1970 3671L1967 3666Q1964 3662 1958 3661L1950 3660Q1945 3660 1943 3660L1940 3661Q1939 3662 1938 3664L1937 3666Q1937 3668 1937 3671ZM1229 3804Q1230 3816 1236 3818L1245 3820Q1251 3822 1256 3811L1264 3796Q1269 3785 1262 3779L1251 3772Q1243 3767 1241 3767L1237 3767Q1234 3767 1232 3770L1229 3773Q1226 3776 1228 3788ZM1677 4133Q1683 4140 1696 4141L1714 4141Q1728 4142 1731 4133L1736 4122Q1739 4114 1739 4109L1738 4102Q1737 4096 1721 4093L1700 4088Q1684 4084 1678 4088L1670 4095Q1664 4099 1664 4104L1663 4111Q1663 4116 1669 4124ZM1721 4093Q1737 4096 1738 4095L1739 4094Q1740 4093 1739 4077L1738 4057Q1737 4042 1729 4036L1719 4027Q1711 4021 1709 4021L1706 4020Q1704 4020 1699 4024L1692 4030Q1687 4034 1686 4049L1685 4069Q1684 4084 1700 4088ZM2049 3712Q2055 3709 2053 3703L2049 3694Q2047 3688 2041 3690L2032 3692Q2026 3694 2024 3698L2020 3703Q2018 3707 2023 3711L2030 3716Q2035 3720 2041 3716ZM1639 4033Q1641 4031 1638 4018L1633 4001Q1630 3988 1619 3987L1603 3986Q1592 3986 1588 3990L1584 3995Q1580 3998 1584 4011L1589 4028Q1592 4041 1605 4040L1622 4039Q1635 4038 1637 4036ZM1709 4021Q1711 4021 1726 4008L1746 3990Q1762 3977 1754 3968L1744 3957Q1737 3949 1726 3948L1711 3947Q1700 3947 1696 3957L1692 3970Q1689 3980 1693 3992L1699 4008Q1704 4020 1706 4020ZM1704 3727Q1714 3725 1712 3709L1710 3688Q1708 3673 1696 3676L1680 3681Q1668 3684 1670 3699L1672 3718Q1674 3732 1676 3733L1679 3734Q1681 3734 1691 3731ZM1628 4217Q1631 4209 1619 4201L1604 4190Q1592 4182 1586 4188L1578 4196Q1572 4201 1575 4212L1578 4226Q1580 4236 1593 4236L1609 4236Q1621 4236 1624 4228ZM1433 3911Q1428 3900 1413 3905L1392 3912Q1377 3918 1376 3921L1374 3925Q1373 3928 1376 3941L1379 3957Q1382 3970 1400 3962L1424 3953Q1442 3945 1443 3943L1444 3940Q1445 3937 1440 3926ZM1558 3647Q1558 3659 1563 3665L1569 3674Q1574 3681 1577 3681L1581 3681Q1584 3681 1598 3666L1616 3647Q1630 3633 1622 3631L1612 3630Q1604 3628 1597 3626L1587 3624Q1580 3622 1574 3622L1566 3621Q1559 3621 1559 3632ZM1483 4104Q1482 4088 1464 4096L1439 4106Q1420 4114 1420 4117L1421 4122Q1422 4125 1431 4132L1443 4143Q1452 4150 1462 4148L1475 4145Q1484 4142 1484 4126ZM1581 4072Q1578 4061 1565 4057L1547 4050Q1534 4046 1526 4056L1515 4070Q1508 4080 1517 4089L1529 4101Q1538 4109 1553 4105L1572 4100Q1586 4096 1584 4085ZM1542 3938Q1550 3946 1559 3946L1572 3946Q1582 3946 1584 3944L1586 3940Q1588 3937 1583 3924L1575 3906Q1570 3893 1568 3892L1566 3892Q1564 3891 1553 3900L1537 3911Q1525 3919 1533 3927ZM1375 4166Q1378 4162 1372 4154L1364 4142Q1358 4134 1349 4134L1337 4135Q1328 4135 1326 4137L1323 4141Q1321 4143 1335 4153L1355 4166Q1369 4176 1372 4172ZM1326 3734Q1315 3745 1327 3754L1343 3765Q1355 3773 1359 3769L1364 3765Q1368 3761 1370 3752L1371 3739Q1373 3730 1366 3723L1358 3715Q1352 3708 1341 3719ZM1952 3819Q1956 3818 1957 3811L1958 3803Q1958 3797 1952 3797L1944 3797Q1937 3797 1938 3804L1938 3813Q1939 3820 1940 3820L1941 3821Q1942 3822 1946 3820ZM1663 3681Q1668 3684 1680 3681L1696 3676Q1708 3673 1711 3668L1716 3661Q1720 3657 1720 3655L1720 3654Q1720 3653 1717 3654L1714 3655Q1711 3656 1705 3656L1698 3657Q1692 3657 1691 3655L1689 3654Q1687 3652 1683 3651L1678 3650Q1674 3649 1672 3647L1670 3645Q1668 3644 1664 3643L1658 3641Q1654 3640 1652 3639L1649 3637Q1647 3636 1645 3636L1642 3636Q1640 3636 1644 3648L1648 3663Q1652 3675 1657 3678ZM2019 3756Q2025 3759 2027 3758L2029 3758Q2031 3757 2032 3751L2034 3744Q2035 3738 2027 3738L2017 3738Q2010 3739 2008 3740L2005 3743Q2003 3745 2004 3746L2005 3749Q2006 3751 2012 3753ZM1864 3830Q1869 3829 1866 3821L1863 3811Q1860 3803 1850 3804L1837 3805Q1827 3806 1827 3807L1828 3809Q1828 3810 1835 3817L1845 3827Q1852 3834 1857 3833ZM1809 4146Q1807 4144 1794 4152L1776 4163Q1762 4171 1764 4182L1767 4197Q1769 4208 1779 4203L1792 4197Q1802 4192 1806 4188L1811 4184Q1815 4181 1816 4177L1817 4173Q1818 4169 1817 4164L1816 4156Q1815 4151 1813 4149ZM1738 3822Q1738 3815 1730 3808L1719 3799Q1710 3792 1707 3793L1702 3794Q1699 3794 1695 3797L1690 3801Q1686 3804 1685 3810L1683 3819Q1682 3825 1692 3833L1704 3845Q1714 3854 1721 3850L1731 3844Q1738 3840 1738 3832ZM1351 3696Q1351 3694 1344 3683L1333 3667Q1326 3655 1316 3660L1304 3666Q1295 3671 1294 3674L1292 3679Q1290 3682 1290 3683L1290 3685Q1290 3686 1293 3690L1296 3696Q1299 3700 1314 3700L1334 3700Q1350 3700 1350 3698ZM1126 3657Q1123 3654 1117 3653L1108 3652Q1101 3651 1100 3655L1099 3661Q1099 3665 1105 3670L1114 3676Q1120 3680 1121 3680L1122 3680Q1123 3680 1126 3676L1129 3669Q1131 3664 1129 3661ZM1778 3847Q1785 3844 1782 3831L1779 3815Q1777 3802 1765 3806L1750 3811Q1738 3815 1738 3822L1738 3832Q1738 3840 1745 3844L1754 3849Q1761 3854 1768 3851ZM1571 3999Q1580 3998 1584 3995L1588 3990Q1592 3986 1589 3974L1585 3958Q1582 3946 1572 3946L1559 3946Q1550 3946 1545 3957L1539 3971Q1534 3981 1538 3987L1543 3995Q1548 4001 1557 4000ZM1973 3648Q1970 3649 1968 3653L1966 3658Q1964 3662 1967 3666L1970 3671Q1973 3675 1980 3671L1990 3666Q1997 3662 1994 3659L1990 3654Q1988 3651 1985 3649L1982 3647Q1980 3645 1977 3647ZM1314 3700Q1299 3700 1297 3706L1296 3715Q1295 3721 1301 3729L1309 3738Q1315 3745 1326 3734L1341 3719Q1352 3708 1351 3706L1350 3703Q1350 3700 1334 3700ZM1232 3730Q1230 3731 1229 3739L1228 3749Q1227 3757 1229 3760L1232 3764Q1234 3767 1237 3767L1241 3767Q1243 3767 1246 3762L1250 3757Q1253 3752 1253 3746L1253 3738Q1254 3732 1248 3730L1241 3728Q1235 3727 1234 3728ZM2022 4005Q2032 3998 2030 3995L2027 3992Q2025 3990 2019 3992L2011 3995Q2004 3997 2003 4005L2002 4015Q2000 4023 2010 4015ZM1842 3856Q1842 3855 1832 3852L1819 3848Q1810 3845 1806 3846L1802 3848Q1798 3850 1800 3860L1802 3873Q1803 3883 1809 3887L1817 3891Q1823 3895 1824 3894L1826 3893Q1827 3892 1832 3882L1839 3869Q1844 3859 1843 3858ZM1894 3847Q1902 3846 1898 3840L1893 3832Q1889 3827 1886 3826L1882 3826Q1879 3825 1875 3827L1871 3829Q1868 3830 1870 3836L1873 3843Q1876 3849 1883 3848ZM1598 3666Q1584 3681 1595 3688L1609 3697Q1619 3705 1629 3696L1642 3684Q1652 3675 1648 3663L1644 3648Q1640 3636 1639 3636L1638 3636Q1637 3636 1635 3635L1632 3634Q1630 3633 1616 3647ZM1192 3604Q1200 3606 1201 3604L1204 3600Q1206 3598 1201 3591L1196 3582Q1192 3575 1185 3580L1177 3586Q1170 3591 1171 3593L1173 3597Q1174 3600 1182 3602ZM1318 3850Q1323 3851 1333 3842L1345 3831Q1355 3823 1353 3816L1350 3808Q1348 3802 1332 3798L1311 3792Q1294 3788 1294 3802L1294 3821Q1294 3836 1298 3840L1303 3845Q1306 3849 1311 3849ZM1656 4094Q1664 4099 1670 4095L1678 4088Q1684 4084 1685 4069L1686 4049Q1687 4034 1673 4033L1655 4032Q1641 4031 1639 4033L1637 4036Q1635 4038 1636 4051L1637 4068Q1637 4081 1645 4086ZM1928 4081Q1930 4070 1925 4067L1918 4063Q1913 4060 1909 4060L1904 4059Q1900 4059 1897 4062L1893 4065Q1890 4067 1894 4079L1899 4095Q1903 4107 1906 4109L1911 4112Q1915 4113 1917 4112L1920 4110Q1922 4108 1924 4096ZM1099 3790Q1100 3795 1107 3785L1117 3773Q1125 3764 1116 3760L1104 3754Q1094 3750 1095 3759L1096 3770Q1097 3778 1098 3783ZM1154 3906Q1163 3907 1167 3904L1172 3900Q1176 3897 1176 3886L1175 3870Q1175 3859 1172 3858L1168 3856Q1165 3855 1152 3862L1134 3871Q1121 3877 1124 3885L1128 3896Q1131 3904 1141 3905ZM1591 4109Q1586 4096 1572 4100L1553 4105Q1538 4109 1536 4121L1533 4135Q1531 4147 1533 4149L1536 4152Q1538 4154 1554 4154L1576 4153Q1592 4153 1595 4149L1599 4144Q1602 4141 1597 4127ZM1986 3771Q1983 3770 1982 3770L1980 3771Q1978 3771 1975 3778L1971 3787Q1969 3793 1972 3796L1977 3799Q1981 3802 1987 3800L1995 3797Q2001 3794 1999 3788L1996 3780Q1993 3774 1990 3773ZM1974 3831Q1974 3837 1976 3838L1977 3839Q1979 3840 1986 3838L1995 3836Q2002 3834 1995 3827L1986 3819Q1979 3812 1977 3814L1975 3816Q1974 3817 1974 3823ZM1776 4022Q1779 4016 1775 4005L1769 3989Q1765 3977 1764 3977L1763 3977Q1762 3977 1746 3990L1726 4008Q1711 4021 1719 4027L1729 4036Q1737 4042 1747 4040L1760 4037Q1770 4034 1773 4029ZM1149 3654Q1149 3653 1148 3647L1145 3640Q1143 3634 1139 3633L1133 3631Q1128 3630 1127 3637L1125 3646Q1123 3654 1126 3657L1129 3661Q1131 3664 1136 3662L1143 3660Q1148 3659 1148 3657ZM1768 3726Q1766 3708 1753 3714L1736 3722Q1723 3728 1727 3739L1731 3754Q1735 3766 1746 3767L1761 3769Q1773 3770 1771 3751ZM1619 3927Q1633 3923 1627 3908L1620 3888Q1614 3873 1601 3879L1583 3887Q1570 3893 1575 3906L1583 3924Q1588 3937 1601 3933ZM1885 3943Q1880 3942 1881 3947L1881 3954Q1881 3960 1884 3961L1887 3963Q1890 3965 1892 3964L1896 3963Q1899 3962 1899 3959L1900 3956Q1901 3954 1899 3951L1897 3947Q1895 3944 1891 3944ZM1499 3730Q1495 3741 1496 3744L1498 3747Q1500 3749 1509 3752L1521 3755Q1530 3757 1539 3751L1551 3742Q1560 3736 1558 3730L1556 3721Q1554 3715 1541 3711L1523 3707Q1510 3704 1505 3715ZM1958 3961Q1955 3959 1950 3966L1944 3975Q1939 3982 1942 3985L1945 3991Q1948 3994 1949 3995L1950 3995Q1951 3996 1957 3993L1964 3990Q1970 3987 1968 3981L1967 3972Q1966 3965 1963 3963ZM1944 3749Q1945 3744 1942 3741L1937 3736Q1934 3733 1930 3734L1926 3735Q1922 3736 1920 3742L1918 3750Q1916 3755 1923 3757L1933 3759Q1940 3760 1942 3755ZM1809 3670Q1803 3659 1798 3658L1792 3656Q1787 3655 1780 3667L1770 3683Q1763 3694 1764 3698L1765 3704Q1766 3708 1776 3709L1790 3710Q1800 3711 1805 3708L1812 3704Q1817 3701 1818 3699L1820 3697Q1820 3696 1815 3685ZM2066 3900Q2065 3899 2062 3899L2058 3900Q2055 3900 2049 3905L2041 3910Q2034 3914 2035 3917L2037 3922Q2038 3925 2044 3928L2053 3932Q2060 3935 2062 3925L2066 3911Q2068 3901 2067 3900ZM1186 3703Q1184 3698 1177 3699L1169 3700Q1163 3701 1167 3710L1174 3721Q1178 3729 1180 3729L1181 3728Q1182 3728 1185 3724L1188 3718Q1191 3713 1189 3709ZM1636 3781Q1638 3782 1647 3767L1658 3749Q1667 3735 1653 3730L1635 3724Q1621 3719 1618 3724L1613 3731Q1610 3736 1616 3749L1624 3766Q1630 3779 1632 3779ZM1428 3770Q1434 3767 1427 3753L1418 3734Q1411 3721 1399 3723L1384 3727Q1373 3730 1371 3739L1370 3752Q1368 3761 1381 3766L1399 3773Q1412 3778 1419 3774ZM1514 3855Q1513 3858 1513 3876L1514 3900Q1515 3918 1518 3918L1522 3919Q1525 3919 1537 3911L1553 3900Q1564 3891 1557 3878L1549 3860Q1542 3846 1535 3847L1526 3849Q1519 3850 1517 3852ZM1549 4197Q1540 4194 1536 4198L1532 4202Q1529 4205 1528 4213L1527 4223Q1526 4231 1542 4233L1564 4235Q1580 4236 1578 4226L1575 4212Q1572 4201 1562 4199ZM1194 3650Q1191 3650 1191 3659L1191 3671Q1190 3680 1199 3677L1210 3673Q1218 3670 1213 3665L1206 3657Q1200 3652 1197 3651ZM1263 4039Q1252 4030 1245 4038L1236 4049Q1229 4057 1241 4069L1257 4086Q1269 4098 1275 4093L1282 4085Q1288 4080 1288 4074L1288 4066Q1288 4061 1278 4051ZM1934 3785Q1933 3779 1929 3779L1924 3779Q1921 3779 1917 3783L1913 3788Q1909 3791 1910 3795L1912 3800Q1913 3804 1920 3803L1929 3800Q1936 3799 1935 3793ZM1319 4044Q1305 4044 1300 4049L1293 4056Q1288 4061 1288 4066L1288 4074Q1288 4080 1298 4084L1311 4090Q1321 4094 1328 4091L1339 4086Q1347 4083 1348 4071L1349 4056Q1349 4044 1336 4044ZM1848 3743Q1849 3741 1839 3729L1827 3713Q1817 3701 1812 3704L1805 3708Q1800 3711 1803 3724L1808 3740Q1811 3753 1821 3751L1836 3748Q1846 3746 1847 3745ZM2028 3888Q2016 3883 2015 3884L2013 3886Q2012 3888 2012 3893L2012 3899Q2012 3903 2019 3907L2028 3911Q2034 3914 2041 3910L2049 3905Q2055 3900 2043 3895ZM1840 3952Q1837 3950 1828 3957L1816 3966Q1807 3973 1811 3981L1817 3991Q1822 3998 1827 3998L1834 3999Q1839 3999 1844 3994L1852 3988Q1857 3983 1857 3981L1856 3977Q1856 3974 1853 3969L1849 3961Q1846 3955 1843 3954ZM1972 3705Q1973 3707 1984 3707L2000 3709Q2011 3710 2008 3703L2004 3695Q2000 3689 1993 3690L1982 3692Q1974 3693 1973 3696L1972 3699Q1971 3701 1972 3703ZM1916 4054Q1913 4060 1918 4063L1925 4067Q1930 4070 1936 4068L1943 4065Q1949 4063 1950 4057L1951 4049Q1952 4043 1951 4042L1950 4041Q1949 4040 1941 4040L1931 4039Q1924 4039 1921 4046ZM1118 3722Q1125 3718 1125 3715L1125 3711Q1125 3707 1115 3707L1103 3705Q1094 3705 1094 3713L1094 3724Q1093 3732 1095 3732L1098 3732Q1100 3732 1108 3727ZM1892 3773Q1895 3775 1900 3772L1906 3769Q1910 3766 1910 3763L1911 3760Q1911 3758 1905 3753L1896 3746Q1889 3741 1887 3749L1885 3759Q1883 3767 1887 3769ZM2029 3944Q2026 3938 2023 3937L2018 3936Q2015 3935 2011 3939L2005 3945Q2001 3949 2011 3953L2023 3958Q2033 3961 2034 3960L2036 3959Q2037 3958 2034 3952ZM1671 3797Q1686 3804 1690 3801L1695 3797Q1699 3794 1693 3776L1686 3752Q1681 3734 1679 3734L1676 3733Q1674 3732 1672 3733L1669 3734Q1667 3735 1658 3749L1647 3767Q1638 3782 1652 3788ZM1154 3558Q1146 3559 1151 3567L1157 3578Q1162 3586 1165 3587L1168 3589Q1170 3591 1177 3586L1185 3580Q1192 3575 1193 3571L1194 3566Q1195 3562 1189 3561L1181 3558Q1175 3556 1166 3557ZM1569 3790Q1579 3786 1576 3773L1573 3757Q1571 3745 1568 3742L1563 3739Q1560 3736 1551 3742L1539 3751Q1530 3757 1530 3767L1531 3779Q1532 3789 1536 3792L1542 3796Q1546 3799 1556 3795ZM1384 4161Q1378 4162 1375 4166L1372 4172Q1369 4176 1383 4183L1401 4192Q1415 4199 1416 4195L1418 4190Q1419 4186 1412 4178L1403 4167Q1396 4159 1391 4160ZM2018 3777Q2018 3780 2022 3781L2027 3782Q2031 3782 2033 3776L2035 3769Q2036 3763 2035 3761L2033 3759Q2031 3757 2029 3758L2027 3758Q2025 3759 2022 3762L2018 3767Q2015 3771 2016 3774ZM1160 3666Q1154 3667 1155 3670L1156 3674Q1156 3677 1159 3680L1162 3683Q1165 3686 1169 3684L1175 3680Q1180 3678 1178 3674L1175 3668Q1173 3663 1167 3664ZM1328 3645Q1329 3641 1327 3636L1324 3630Q1322 3625 1313 3625L1301 3625Q1293 3624 1290 3632L1286 3642Q1283 3650 1287 3656L1291 3664Q1295 3671 1304 3666L1316 3660Q1326 3655 1327 3651ZM1246 3645Q1245 3649 1247 3653L1250 3659Q1252 3664 1258 3659L1266 3653Q1272 3648 1268 3643L1262 3635Q1258 3629 1256 3631L1253 3633Q1250 3635 1249 3639ZM1193 3944Q1204 3942 1205 3931L1206 3918Q1207 3908 1198 3905L1185 3900Q1176 3897 1172 3900L1167 3904Q1163 3907 1165 3920L1166 3938Q1167 3951 1178 3948ZM1814 4023Q1811 4015 1801 4015L1788 4016Q1779 4016 1776 4022L1773 4029Q1770 4034 1780 4046L1792 4061Q1802 4072 1807 4063L1815 4052Q1821 4044 1818 4035ZM1512 3842Q1519 3850 1526 3849L1535 3847Q1542 3846 1543 3832L1545 3813Q1546 3799 1542 3796L1536 3792Q1532 3789 1523 3791L1512 3794Q1504 3797 1502 3804L1499 3814Q1497 3822 1504 3830ZM1780 4046Q1770 4034 1760 4037L1747 4040Q1737 4042 1738 4057L1739 4077Q1740 4093 1758 4087L1783 4080Q1802 4074 1792 4062ZM1193 3777Q1196 3783 1205 3781L1217 3778Q1226 3776 1229 3773L1232 3770Q1234 3767 1232 3764L1229 3760Q1227 3757 1222 3754L1215 3750Q1210 3748 1202 3752L1193 3758Q1185 3762 1189 3768ZM1251 4025Q1252 4030 1263 4039L1278 4051Q1288 4061 1293 4056L1300 4049Q1305 4044 1306 4033L1306 4020Q1307 4009 1294 4005L1277 3999Q1264 3995 1260 4000L1253 4007Q1249 4012 1250 4018ZM1631 3852Q1621 3852 1619 3859L1616 3867Q1614 3873 1620 3888L1627 3908Q1633 3923 1634 3924L1636 3925Q1637 3926 1644 3925L1654 3924Q1661 3923 1665 3910L1671 3894Q1675 3882 1669 3873L1660 3861Q1654 3852 1644 3852ZM1629 3696Q1619 3705 1620 3709L1621 3715Q1621 3719 1635 3724L1653 3730Q1667 3735 1669 3734L1672 3733Q1674 3732 1672 3718L1670 3699Q1668 3684 1663 3681L1657 3678Q1652 3675 1642 3684ZM1940 3820Q1939 3820 1933 3821L1925 3823Q1919 3825 1918 3833L1916 3844Q1915 3852 1916 3853L1918 3855Q1919 3856 1926 3852L1936 3847Q1944 3843 1943 3837L1942 3828Q1942 3822 1941 3821ZM1809 3887Q1803 3883 1791 3890L1775 3899Q1763 3906 1772 3914L1783 3925Q1792 3933 1802 3930L1815 3925Q1825 3922 1824 3914L1824 3903Q1823 3895 1817 3891ZM2007 3836Q2008 3836 2012 3831L2019 3825Q2023 3820 2022 3814L2020 3807Q2019 3802 2014 3800L2007 3797Q2001 3794 2002 3806L2003 3822Q2004 3834 2005 3835ZM1208 3744Q1210 3748 1215 3750L1222 3754Q1227 3757 1228 3749L1229 3739Q1230 3731 1226 3729L1219 3726Q1214 3724 1211 3727L1207 3731Q1204 3734 1206 3738ZM1645 4187Q1648 4179 1640 4168L1629 4153Q1621 4142 1615 4142L1608 4141Q1602 4141 1599 4144L1595 4149Q1592 4153 1592 4161L1592 4173Q1592 4182 1604 4190L1619 4201Q1631 4209 1633 4207L1635 4206Q1637 4205 1640 4197ZM1215 3629Q1212 3626 1209 3625L1203 3623Q1199 3621 1195 3624L1190 3628Q1186 3631 1187 3637L1189 3644Q1191 3650 1194 3650L1197 3651Q1200 3652 1206 3647L1214 3640Q1220 3635 1218 3632ZM1755 3881Q1752 3893 1755 3897L1760 3902Q1763 3906 1775 3899L1791 3890Q1803 3883 1802 3873L1800 3860Q1798 3850 1794 3848L1789 3845Q1785 3844 1778 3847L1768 3851Q1761 3854 1759 3865ZM2014 3849Q2017 3854 2025 3853L2035 3850Q2043 3849 2046 3842L2052 3834Q2056 3827 2054 3824L2053 3819Q2051 3816 2043 3817L2032 3819Q2023 3820 2019 3825L2012 3831Q2008 3836 2011 3842ZM1934 4007Q1928 4013 1933 4017L1940 4023Q1944 4027 1948 4021L1953 4014Q1956 4009 1955 4005L1953 4000Q1951 3996 1950 3995L1949 3995Q1948 3994 1942 4000ZM1192 3854Q1185 3854 1182 3855L1178 3857Q1175 3859 1175 3870L1176 3886Q1176 3897 1185 3900L1198 3905Q1207 3908 1213 3905L1222 3901Q1229 3897 1230 3890L1232 3880Q1234 3873 1226 3867L1215 3859Q1207 3853 1200 3853ZM1381 3870Q1386 3860 1381 3850L1375 3837Q1370 3827 1365 3826L1359 3824Q1355 3823 1345 3831L1333 3842Q1323 3851 1326 3858L1330 3868Q1332 3875 1343 3881L1358 3888Q1369 3893 1374 3883ZM1364 3639Q1379 3639 1383 3632L1390 3623Q1394 3616 1385 3616L1372 3616Q1363 3615 1357 3618L1349 3620Q1342 3622 1339 3622L1335 3622Q1332 3622 1329 3623L1325 3624Q1322 3625 1324 3630L1327 3636Q1329 3641 1344 3640ZM1239 3577Q1238 3578 1242 3586L1248 3597Q1252 3605 1254 3606L1257 3607Q1259 3607 1259 3605L1259 3603Q1259 3601 1257 3599L1255 3596Q1253 3593 1252 3590L1252 3585Q1252 3582 1250 3580L1249 3577Q1247 3575 1245 3574L1242 3574Q1240 3573 1240 3575ZM1455 3843Q1449 3831 1445 3832L1439 3833Q1434 3834 1428 3844L1420 3857Q1414 3867 1418 3876L1425 3888Q1429 3897 1440 3891L1454 3884Q1464 3879 1465 3876L1467 3873Q1468 3870 1462 3858ZM1662 3843Q1654 3852 1660 3861L1669 3873Q1675 3882 1686 3881L1701 3880Q1712 3879 1712 3872L1713 3861Q1714 3854 1704 3845L1692 3833Q1682 3825 1674 3833ZM1815 3685Q1820 3696 1829 3692L1841 3688Q1850 3684 1852 3682L1855 3678Q1858 3675 1858 3673L1859 3669Q1860 3667 1847 3665L1831 3662Q1819 3660 1814 3660L1808 3659Q1803 3659 1809 3670ZM1996 3860Q1987 3862 1985 3867L1984 3873Q1982 3878 1985 3880L1988 3883Q1990 3885 1997 3886L2006 3887Q2012 3888 2014 3886L2015 3883Q2017 3881 2017 3873L2017 3862Q2017 3854 2008 3857ZM1862 3733Q1867 3730 1862 3716L1855 3698Q1850 3684 1841 3688L1829 3692Q1820 3696 1820 3697L1818 3699Q1817 3701 1827 3713L1839 3729Q1849 3741 1854 3738ZM1975 3904Q1975 3902 1971 3898L1967 3893Q1963 3889 1960 3888L1956 3888Q1953 3887 1952 3888L1950 3890Q1948 3891 1952 3898L1957 3906Q1960 3913 1965 3911L1971 3910Q1975 3908 1975 3907ZM1864 3900Q1865 3893 1853 3892L1838 3892Q1827 3892 1826 3893L1824 3894Q1823 3895 1824 3903L1824 3914Q1825 3922 1826 3923L1828 3925Q1829 3926 1840 3923L1853 3920Q1863 3917 1864 3910ZM1193 3571Q1192 3575 1196 3582L1201 3591Q1206 3598 1210 3597L1215 3596Q1220 3596 1221 3593L1222 3590Q1223 3588 1220 3582L1216 3574Q1212 3567 1207 3566L1201 3564Q1195 3562 1194 3566ZM1137 3810Q1143 3811 1146 3803L1150 3792Q1153 3784 1152 3782L1150 3779Q1149 3777 1140 3785L1127 3795Q1118 3802 1119 3804L1121 3807Q1122 3808 1128 3809ZM1471 3976Q1460 3977 1455 3986L1448 3999Q1443 4008 1451 4015L1461 4024Q1469 4031 1477 4027L1488 4021Q1495 4017 1496 4005L1496 3988Q1497 3975 1486 3976ZM1505 3696Q1510 3704 1523 3707L1541 3711Q1554 3715 1560 3704L1568 3691Q1574 3681 1569 3674L1563 3665Q1558 3659 1541 3661L1518 3665Q1501 3668 1499 3670L1496 3672Q1494 3673 1494 3675L1494 3676Q1494 3678 1499 3685ZM1887 3722Q1886 3732 1891 3730L1897 3729Q1902 3728 1907 3722L1913 3715Q1918 3709 1913 3704L1906 3698Q1901 3693 1898 3695L1893 3697Q1890 3699 1889 3708ZM1855 4082Q1850 4089 1854 4096L1859 4106Q1863 4113 1875 4111L1891 4109Q1903 4107 1899 4095L1894 4079Q1890 4067 1883 4067L1873 4066Q1866 4066 1861 4073ZM1640 4168Q1648 4179 1655 4176L1665 4173Q1673 4170 1676 4161L1680 4149Q1683 4140 1677 4133L1669 4124Q1663 4116 1650 4124L1634 4134Q1621 4142 1629 4153ZM1964 4012Q1956 4009 1953 4014L1948 4021Q1944 4027 1946 4031L1948 4036Q1949 4040 1950 4041L1951 4042Q1952 4043 1958 4041L1965 4039Q1970 4037 1974 4032L1979 4027Q1983 4023 1982 4022L1982 4021Q1981 4020 1974 4016ZM1986 3838Q1979 3840 1978 3844L1977 3849Q1976 3853 1980 3856L1984 3859Q1987 3862 1996 3860L2008 3857Q2017 3854 2014 3849L2011 3842Q2008 3836 2007 3836L2005 3835Q2004 3834 1997 3836ZM1536 4023Q1531 4032 1532 4036L1533 4042Q1534 4046 1547 4050L1565 4057Q1578 4061 1582 4055L1588 4047Q1592 4041 1589 4028L1584 4011Q1580 3998 1571 3999L1557 4000Q1548 4001 1543 4010ZM1170 3592Q1170 3591 1168 3589L1165 3587Q1162 3586 1155 3591L1146 3598Q1140 3604 1144 3607L1149 3611Q1153 3614 1159 3608L1166 3601Q1171 3595 1171 3594ZM1187 3637Q1186 3631 1182 3630L1177 3629Q1173 3628 1170 3634L1167 3642Q1164 3647 1167 3650L1172 3654Q1176 3657 1180 3655L1186 3652Q1191 3650 1189 3644ZM2034 3929Q2038 3925 2037 3922L2035 3917Q2034 3914 2028 3911L2019 3907Q2012 3903 2011 3905L2010 3908Q2008 3909 2010 3917L2013 3927Q2015 3935 2018 3936L2023 3937Q2026 3938 2029 3934ZM1405 4056Q1408 4063 1426 4062L1451 4061Q1470 4060 1470 4051L1469 4040Q1469 4031 1461 4024L1451 4015Q1443 4008 1432 4010L1418 4012Q1407 4013 1405 4021L1402 4031Q1399 4038 1402 4046ZM1408 3821Q1397 3815 1389 3819L1378 3824Q1370 3827 1375 3837L1381 3850Q1386 3860 1394 3862L1405 3865Q1414 3867 1420 3857L1428 3844Q1434 3834 1423 3829ZM1528 4213Q1529 4205 1517 4201L1502 4195Q1491 4191 1485 4195L1477 4201Q1470 4205 1469 4209L1468 4214Q1467 4218 1485 4222L1509 4227Q1526 4231 1527 4223ZM1191 3816Q1187 3819 1187 3829L1186 3843Q1185 3854 1192 3854L1200 3853Q1207 3853 1212 3843L1218 3829Q1223 3819 1216 3816L1207 3812Q1200 3809 1196 3812ZM2027 3738Q2035 3738 2035 3732L2035 3725Q2035 3720 2030 3716L2023 3711Q2018 3707 2017 3708L2015 3708Q2013 3708 2013 3709L2012 3709Q2011 3710 2011 3719L2010 3730Q2010 3739 2017 3738ZM1191 3659Q1191 3650 1186 3652L1180 3655Q1176 3657 1175 3659L1174 3661Q1173 3663 1175 3668L1178 3674Q1180 3678 1183 3678L1187 3679Q1190 3680 1190 3671ZM1467 3694Q1456 3701 1459 3712L1463 3726Q1466 3737 1474 3739L1486 3740Q1495 3741 1499 3730L1505 3715Q1510 3704 1505 3696L1499 3685Q1494 3678 1482 3685ZM1884 3961Q1881 3960 1874 3964L1864 3970Q1856 3974 1856 3977L1857 3981Q1857 3983 1863 3986L1871 3990Q1877 3993 1880 3990L1884 3986Q1887 3983 1888 3978L1889 3970Q1890 3965 1887 3963ZM2049 3735Q2042 3737 2049 3744L2058 3753Q2065 3759 2065 3750L2066 3739Q2066 3730 2059 3732ZM1351 3706Q1352 3708 1358 3715L1366 3723Q1373 3730 1384 3727L1399 3723Q1411 3721 1415 3713L1419 3703Q1423 3695 1423 3694L1422 3692Q1421 3691 1409 3685L1392 3678Q1380 3672 1371 3679L1360 3688Q1351 3694 1351 3696L1350 3698Q1350 3700 1350 3703ZM1721 3727Q1723 3728 1736 3722L1753 3714Q1766 3708 1765 3704L1764 3698Q1763 3694 1750 3683L1733 3668Q1720 3657 1716 3661L1711 3668Q1708 3673 1710 3688L1712 3709Q1714 3725 1717 3726ZM1481 3867Q1468 3870 1467 3873L1465 3876Q1464 3879 1473 3892L1485 3909Q1495 3922 1497 3923L1500 3923Q1502 3924 1506 3922L1511 3920Q1515 3918 1514 3900L1513 3876Q1513 3858 1499 3861ZM2028 4003Q2032 3998 2022 4005L2010 4015Q2000 4023 2000 4024L1999 4025Q1999 4026 2001 4028L2003 4031Q2005 4033 2010 4028L2015 4022Q2019 4017 2023 4011ZM2003 4006Q2004 3997 2002 3996L1999 3994Q1997 3993 1992 3996L1986 4000Q1981 4003 1981 4008L1981 4015Q1981 4020 1982 4021L1982 4022Q1983 4023 1987 4024L1994 4025Q1999 4026 2000 4017ZM1969 3762Q1970 3766 1972 3768L1976 3770Q1978 3771 1980 3771L1982 3770Q1983 3770 1985 3761L1987 3750Q1989 3741 1988 3740L1985 3738Q1984 3736 1979 3741L1972 3747Q1967 3752 1968 3756ZM1492 4179Q1491 4191 1502 4195L1517 4201Q1529 4205 1532 4202L1536 4198Q1540 4194 1539 4182L1538 4166Q1538 4154 1536 4152L1533 4149Q1531 4147 1520 4148L1507 4149Q1496 4151 1495 4163ZM1961 3699Q1971 3701 1972 3699L1973 3696Q1974 3693 1973 3690L1972 3685Q1972 3681 1962 3680L1948 3679Q1938 3679 1938 3681L1937 3685Q1936 3687 1937 3690L1937 3692Q1938 3694 1948 3696ZM2059 3802Q2054 3804 2053 3808L2052 3812Q2051 3816 2053 3819L2054 3824Q2056 3827 2062 3829L2070 3832Q2076 3835 2076 3828L2076 3820Q2076 3814 2075 3809L2074 3803Q2073 3798 2067 3800ZM1218 3633Q1221 3635 1224 3633L1229 3630Q1233 3627 1234 3622L1235 3614Q1237 3608 1234 3607L1231 3606Q1228 3605 1223 3611L1217 3620Q1212 3626 1215 3629ZM1870 3773Q1865 3776 1866 3781L1868 3787Q1869 3791 1873 3793L1879 3795Q1883 3797 1888 3794L1893 3789Q1897 3786 1897 3783L1896 3778Q1895 3775 1892 3773L1887 3769Q1883 3767 1878 3770ZM1984 3944Q1989 3946 1990 3946L1992 3945Q1993 3945 1992 3937L1990 3926Q1988 3918 1987 3918L1986 3918Q1985 3917 1981 3922L1974 3928Q1970 3933 1971 3935L1971 3938Q1972 3940 1977 3942ZM1282 3886Q1281 3876 1270 3873L1255 3870Q1244 3867 1241 3869L1237 3871Q1234 3873 1232 3880L1230 3890Q1229 3897 1239 3907L1252 3920Q1262 3929 1269 3924L1279 3917Q1286 3912 1284 3901ZM1294 3913Q1286 3912 1279 3917L1269 3924Q1262 3929 1261 3935L1260 3942Q1259 3947 1262 3952L1265 3960Q1268 3965 1282 3964L1301 3964Q1315 3963 1316 3951L1318 3935Q1320 3923 1318 3921L1315 3918Q1313 3916 1305 3915ZM1861 4121Q1863 4113 1859 4106L1854 4096Q1850 4089 1838 4088L1822 4086Q1810 4085 1807 4099L1804 4118Q1802 4132 1804 4135L1806 4140Q1807 4144 1809 4145L1812 4147Q1814 4149 1813 4142L1811 4132Q1810 4126 1810 4123L1810 4119Q1810 4116 1816 4120L1823 4126Q1828 4130 1836 4133L1846 4137Q1854 4140 1857 4132ZM1260 3750Q1253 3752 1250 3757L1246 3762Q1243 3767 1251 3772L1262 3779Q1269 3785 1276 3784L1284 3783Q1290 3783 1291 3779L1293 3774Q1294 3771 1289 3763L1281 3753Q1275 3746 1269 3748ZM1925 3937Q1928 3943 1932 3944L1938 3945Q1942 3946 1946 3940L1952 3933Q1956 3927 1956 3925L1956 3922Q1955 3920 1949 3918L1942 3915Q1936 3913 1931 3916L1924 3920Q1919 3924 1921 3929ZM1424 3642Q1433 3653 1443 3650L1455 3647Q1465 3645 1466 3639L1467 3630Q1468 3624 1463 3623L1457 3622Q1453 3621 1445 3621L1434 3620Q1426 3620 1419 3619L1409 3618Q1402 3616 1411 3627ZM1223 3611Q1228 3605 1226 3602L1222 3598Q1220 3596 1215 3596L1210 3597Q1206 3598 1204 3600L1201 3604Q1200 3606 1199 3611L1199 3617Q1199 3621 1203 3623L1209 3625Q1212 3626 1217 3620ZM1826 3923Q1825 3922 1815 3925L1802 3930Q1792 3933 1790 3943L1788 3957Q1787 3967 1793 3969L1801 3971Q1807 3973 1816 3966L1828 3957Q1837 3950 1834 3943L1832 3933Q1829 3926 1828 3925ZM1909 3951Q1901 3954 1900 3956L1899 3959Q1899 3962 1905 3966L1913 3973Q1919 3978 1922 3967L1925 3953Q1928 3943 1920 3946ZM1999 3788Q2001 3794 2006 3790L2013 3784Q2018 3780 2018 3777L2016 3774Q2015 3771 2011 3770L2006 3768Q2002 3767 1999 3769L1996 3772Q1993 3774 1996 3780ZM1940 3762Q1940 3760 1933 3759L1923 3757Q1916 3755 1914 3756L1913 3757Q1911 3758 1911 3760L1910 3763Q1910 3766 1913 3770L1918 3775Q1921 3779 1924 3779L1929 3779Q1933 3779 1935 3776L1939 3771Q1942 3768 1941 3765ZM1995 3982Q1995 3977 1988 3981L1979 3985Q1972 3989 1975 3993L1978 3999Q1981 4003 1986 4000L1992 3996Q1997 3993 1996 3988ZM1958 3787Q1962 3794 1964 3794L1967 3794Q1969 3793 1971 3787L1975 3778Q1978 3771 1976 3770L1972 3768Q1970 3766 1964 3768L1956 3770Q1950 3771 1954 3778ZM1731 4150Q1732 4154 1741 4159L1753 4166Q1762 4171 1776 4163L1794 4152Q1807 4144 1806 4140L1804 4135Q1802 4132 1783 4126L1758 4119Q1739 4114 1736 4122L1731 4133Q1728 4142 1729 4145ZM1301 3729Q1295 3721 1290 3723L1284 3725Q1279 3727 1278 3733L1277 3740Q1275 3746 1281 3753L1289 3763Q1294 3771 1301 3764L1309 3755Q1315 3748 1309 3740ZM1874 3878Q1867 3878 1867 3882L1866 3888Q1865 3892 1876 3894L1890 3897Q1900 3900 1901 3896L1901 3892Q1901 3889 1897 3885L1893 3880Q1889 3876 1883 3877ZM1850 3862Q1844 3859 1839 3869L1832 3882Q1827 3892 1838 3892L1853 3892Q1865 3893 1865 3888L1866 3883Q1867 3878 1866 3875L1865 3871Q1864 3868 1858 3865ZM1632 3779Q1630 3779 1616 3781L1597 3785Q1583 3788 1586 3802L1592 3821Q1596 3835 1602 3839L1611 3843Q1618 3847 1623 3827L1631 3801Q1637 3782 1635 3781ZM1946 3821Q1942 3822 1942 3828L1943 3837Q1944 3843 1946 3844L1949 3845Q1952 3845 1956 3843L1960 3839Q1964 3837 1961 3831L1958 3824Q1955 3818 1951 3819ZM1195 3624Q1199 3621 1199 3617L1199 3611Q1200 3606 1192 3604L1182 3602Q1174 3600 1175 3608L1175 3619Q1175 3628 1178 3629L1183 3630Q1186 3631 1190 3628ZM1846 4038Q1856 4036 1851 4025L1844 4010Q1839 3999 1834 3999L1827 3998Q1822 3998 1818 4003L1814 4010Q1811 4015 1814 4023L1818 4035Q1821 4044 1831 4041ZM2035 3761Q2036 3763 2043 3764L2052 3765Q2059 3766 2061 3765L2063 3763Q2065 3762 2058 3755L2049 3745Q2042 3737 2041 3737L2038 3736Q2036 3736 2035 3742L2033 3751Q2031 3757 2033 3759ZM1633 3985Q1635 3983 1635 3966L1636 3943Q1637 3926 1636 3925L1634 3924Q1633 3923 1619 3927L1601 3933Q1588 3937 1586 3940L1584 3944Q1582 3946 1585 3958L1589 3974Q1592 3986 1603 3986L1619 3987Q1630 3988 1632 3986ZM1326 4123Q1328 4135 1337 4135L1349 4134Q1358 4134 1364 4123L1372 4110Q1377 4099 1368 4094L1356 4088Q1347 4083 1339 4086L1328 4091Q1321 4094 1323 4106ZM1917 3981Q1917 3982 1916 3988L1915 3997Q1914 4003 1918 4006L1924 4010Q1928 4013 1934 4007L1942 4000Q1948 3994 1945 3991L1942 3985Q1939 3982 1933 3981L1925 3980Q1919 3979 1918 3980ZM2048 3957Q2052 3957 2055 3950L2058 3941Q2060 3935 2053 3932L2044 3928Q2038 3925 2034 3929L2029 3934Q2026 3938 2029 3944L2034 3952Q2037 3958 2042 3957ZM1978 3958Q1973 3964 1980 3967L1990 3970Q1997 3973 1998 3972L1999 3972Q2000 3971 2000 3964L2000 3955Q2001 3949 1998 3948L1995 3946Q1993 3945 1992 3945L1990 3946Q1989 3946 1984 3951ZM1245 3633Q1250 3635 1253 3633L1256 3631Q1258 3629 1260 3625L1262 3620Q1263 3616 1263 3614L1262 3612Q1261 3610 1261 3609L1260 3608Q1259 3607 1257 3607L1254 3606Q1252 3605 1247 3606L1241 3607Q1237 3608 1235 3614L1234 3622Q1233 3627 1238 3630ZM1538 3987Q1534 3981 1523 3979L1509 3976Q1498 3974 1497 3987L1496 4004Q1495 4017 1506 4022L1520 4028Q1531 4032 1536 4023L1543 4010Q1548 4001 1543 3995ZM1371 3679Q1380 3672 1379 3662L1379 3649Q1379 3639 1364 3639L1344 3640Q1329 3641 1328 3645L1327 3651Q1326 3655 1333 3667L1344 3683Q1351 3694 1360 3688ZM1469 4209Q1470 4205 1463 4197L1454 4186Q1447 4177 1438 4180L1427 4184Q1419 4186 1418 4190L1416 4195Q1415 4199 1431 4205L1452 4212Q1467 4218 1468 4214ZM1927 3687Q1936 3687 1937 3685L1938 3681Q1938 3679 1938 3676L1937 3671Q1937 3668 1932 3669L1926 3670Q1922 3671 1920 3672L1918 3673Q1917 3674 1913 3674L1908 3675Q1904 3675 1904 3678L1904 3683Q1905 3686 1914 3687ZM1875 3852Q1876 3849 1873 3843L1870 3836Q1868 3830 1863 3831L1857 3833Q1852 3834 1849 3840L1845 3849Q1842 3855 1842 3856L1843 3858Q1844 3859 1850 3862L1858 3865Q1864 3868 1867 3865L1871 3861Q1874 3858 1875 3855ZM1146 3701Q1152 3704 1155 3703L1160 3701Q1163 3700 1164 3696L1164 3690Q1165 3686 1162 3683L1159 3680Q1156 3677 1149 3681L1138 3687Q1131 3691 1131 3692L1132 3693Q1132 3694 1138 3697ZM1949 3918Q1955 3920 1957 3918L1959 3915Q1960 3913 1957 3906L1952 3898Q1948 3891 1946 3892L1944 3892Q1942 3893 1940 3899L1937 3907Q1936 3913 1942 3915ZM1170 3634Q1173 3628 1168 3627L1161 3625Q1156 3624 1152 3627L1147 3631Q1143 3634 1145 3640L1148 3647Q1149 3653 1154 3651L1159 3649Q1164 3647 1167 3642ZM1467 3823Q1454 3823 1453 3825L1451 3828Q1449 3831 1455 3843L1462 3858Q1468 3870 1481 3867L1499 3861Q1513 3858 1514 3855L1517 3852Q1519 3850 1512 3842L1504 3830Q1497 3822 1485 3822ZM1706 4193Q1711 4193 1717 4181L1726 4165Q1732 4154 1731 4150L1729 4145Q1728 4142 1714 4141L1696 4141Q1683 4140 1680 4149L1676 4161Q1673 4170 1679 4177L1688 4186Q1695 4193 1699 4193ZM1714 3882Q1712 3879 1701 3880L1686 3881Q1675 3882 1671 3894L1665 3910Q1661 3923 1672 3929L1687 3938Q1698 3944 1704 3927L1712 3904Q1718 3887 1716 3885ZM2047 3681Q2049 3685 2052 3684L2057 3682Q2060 3681 2059 3677L2058 3672Q2057 3668 2053 3670L2047 3672Q2043 3674 2045 3677ZM1212 3843Q1207 3853 1215 3859L1226 3867Q1234 3873 1237 3871L1241 3869Q1244 3867 1247 3856L1252 3841Q1255 3829 1254 3827L1252 3824Q1251 3822 1245 3820L1236 3818Q1230 3816 1228 3817L1225 3818Q1223 3819 1218 3829ZM1895 4012Q1886 4016 1890 4021L1894 4027Q1897 4031 1903 4031L1912 4031Q1918 4031 1921 4025L1925 4019Q1928 4014 1924 4010L1918 4006Q1914 4003 1906 4007ZM1898 4040Q1897 4031 1894 4027L1890 4021Q1886 4017 1877 4022L1865 4030Q1856 4036 1859 4045L1863 4057Q1866 4066 1873 4066L1883 4067Q1890 4067 1893 4065L1897 4062Q1900 4059 1899 4051ZM1941 4040Q1949 4040 1948 4036L1946 4031Q1944 4027 1940 4023L1933 4018Q1928 4014 1925 4019L1921 4025Q1918 4031 1920 4033L1922 4037Q1924 4039 1931 4039ZM1952 3888Q1953 3887 1953 3882L1954 3875Q1954 3869 1944 3867L1931 3864Q1921 3861 1925 3869L1930 3880Q1933 3888 1936 3889L1939 3891Q1942 3893 1944 3892L1946 3892Q1948 3891 1950 3890ZM1906 3914Q1904 3912 1900 3913L1895 3916Q1892 3918 1888 3925L1884 3935Q1880 3942 1885 3943L1891 3944Q1895 3944 1900 3937L1907 3928Q1913 3921 1910 3918ZM1987 3739Q1989 3741 1993 3742L1999 3744Q2003 3745 2005 3743L2008 3740Q2010 3739 2010 3730L2011 3719Q2011 3710 2003 3717L1991 3727Q1983 3734 1985 3736ZM1135 3598Q1134 3596 1128 3593L1120 3590Q1115 3588 1113 3594L1111 3603Q1109 3610 1113 3613L1119 3616Q1124 3619 1128 3614L1133 3608Q1138 3603 1136 3601ZM1980 3671Q1973 3675 1973 3677L1972 3679Q1972 3681 1972 3685L1973 3690Q1974 3693 1982 3692L1993 3690Q2000 3689 2002 3683L2003 3675Q2004 3669 2002 3667L1999 3664Q1997 3662 1990 3666ZM1112 3686Q1120 3680 1114 3676L1105 3670Q1099 3665 1097 3676L1095 3689Q1094 3699 1102 3694ZM1948 3770Q1950 3771 1956 3770L1964 3768Q1970 3766 1969 3762L1968 3756Q1967 3752 1961 3750L1952 3747Q1945 3744 1944 3749L1942 3755Q1940 3760 1940 3762L1941 3765Q1942 3768 1944 3769ZM1146 3803Q1143 3811 1146 3815L1150 3820Q1154 3824 1159 3820L1165 3814Q1171 3810 1170 3805L1170 3799Q1169 3794 1164 3791L1158 3787Q1153 3784 1150 3792ZM1979 3741Q1984 3736 1983 3735L1981 3733Q1980 3731 1973 3732L1963 3733Q1956 3734 1953 3737L1949 3741Q1945 3744 1952 3747L1961 3750Q1967 3752 1972 3747ZM1502 3804Q1504 3797 1499 3792L1493 3785Q1489 3780 1478 3781L1462 3784Q1451 3786 1452 3797L1453 3812Q1454 3823 1467 3823L1485 3822Q1497 3822 1499 3814ZM1145 3734Q1144 3739 1152 3742L1163 3746Q1171 3750 1173 3744L1176 3737Q1177 3731 1168 3728L1155 3725Q1146 3722 1145 3727ZM1236 3721Q1235 3727 1241 3728L1248 3730Q1254 3732 1256 3729L1260 3725Q1263 3722 1262 3721L1262 3718Q1261 3717 1255 3713L1248 3708Q1243 3705 1241 3705L1239 3706Q1237 3706 1236 3712ZM1294 4005Q1307 4009 1316 4002L1328 3993Q1337 3986 1331 3979L1322 3970Q1315 3963 1301 3964L1282 3964Q1268 3965 1267 3974L1265 3986Q1264 3995 1277 3999ZM1920 4033Q1918 4031 1912 4031L1903 4031Q1897 4031 1898 4040L1899 4051Q1900 4059 1904 4059L1909 4060Q1913 4060 1916 4054L1921 4046Q1924 4039 1922 4037ZM1459 3712Q1456 3701 1446 3699L1433 3697Q1423 3695 1419 3703L1415 3713Q1411 3721 1418 3734L1427 3753Q1434 3767 1444 3758L1456 3746Q1466 3737 1463 3726ZM2067 3900Q2068 3901 2069 3896L2071 3889Q2072 3884 2072 3876L2074 3867Q2075 3860 2069 3861L2063 3864Q2058 3865 2057 3869L2056 3873Q2056 3876 2058 3883L2062 3892Q2065 3899 2066 3900ZM1887 3749Q1889 3741 1887 3738L1885 3734Q1884 3730 1879 3730L1872 3730Q1867 3730 1862 3733L1854 3738Q1849 3741 1848 3743L1847 3745Q1846 3746 1848 3753L1851 3762Q1853 3769 1857 3771L1861 3774Q1865 3776 1870 3773L1878 3770Q1883 3767 1885 3759ZM1187 3829Q1187 3819 1182 3816L1176 3813Q1171 3810 1165 3814L1159 3820Q1154 3824 1153 3828L1153 3833Q1152 3837 1156 3842L1161 3849Q1165 3855 1168 3856L1172 3858Q1175 3859 1178 3857L1182 3855Q1185 3854 1186 3843ZM1914 3756Q1916 3755 1918 3750L1920 3742Q1922 3736 1916 3733L1908 3730Q1902 3728 1897 3729L1891 3730Q1886 3732 1887 3735L1888 3738Q1889 3741 1896 3746L1905 3753Q1911 3758 1913 3757ZM1595 3688Q1584 3681 1581 3681L1577 3681Q1574 3681 1568 3691L1560 3704Q1554 3715 1556 3721L1558 3730Q1560 3736 1563 3739L1568 3742Q1571 3745 1583 3742L1598 3739Q1610 3736 1613 3731L1618 3724Q1621 3719 1621 3715L1620 3709Q1619 3705 1609 3697ZM1650 4124Q1663 4116 1663 4111L1664 4104Q1664 4099 1656 4094L1645 4086Q1637 4081 1622 4085L1601 4091Q1586 4096 1591 4109L1597 4127Q1602 4141 1608 4141L1615 4142Q1621 4142 1634 4134ZM1955 4005Q1956 4009 1964 4012L1974 4016Q1981 4020 1981 4015L1981 4008Q1981 4003 1978 3999L1975 3993Q1972 3989 1966 3991L1958 3994Q1951 3996 1953 4000ZM1264 3670Q1252 3666 1250 3668L1248 3671Q1246 3673 1247 3678L1249 3685Q1251 3690 1257 3691L1266 3693Q1272 3694 1277 3692L1285 3688Q1290 3686 1290 3685L1290 3683Q1290 3682 1279 3677ZM1872 3942Q1870 3941 1863 3945L1853 3951Q1846 3955 1849 3961L1853 3969Q1856 3974 1864 3970L1874 3964Q1881 3960 1880 3955L1879 3948Q1878 3943 1876 3942ZM1235 4009Q1249 4012 1253 4007L1260 4000Q1264 3995 1265 3986L1267 3974Q1268 3965 1265 3960L1262 3952Q1259 3947 1247 3949L1232 3953Q1220 3955 1215 3969L1209 3987Q1204 4001 1217 4005ZM1225 3700Q1227 3702 1230 3703L1234 3705Q1237 3706 1239 3706L1241 3705Q1243 3705 1245 3700L1248 3695Q1251 3690 1249 3685L1247 3678Q1246 3673 1239 3674L1230 3675Q1223 3675 1222 3681L1221 3688Q1221 3694 1223 3696ZM2067 3800Q2073 3798 2072 3795L2071 3790Q2070 3786 2068 3779L2066 3769Q2065 3762 2063 3763L2061 3765Q2059 3766 2056 3775L2052 3787Q2049 3797 2050 3799L2052 3802Q2054 3804 2059 3802ZM1443 3943Q1442 3945 1448 3955L1455 3967Q1460 3977 1471 3976L1486 3976Q1497 3975 1498 3960L1500 3939Q1502 3924 1500 3923L1497 3923Q1495 3922 1480 3926L1460 3933Q1445 3937 1444 3940ZM2009 3702Q2013 3708 2015 3708L2017 3708Q2018 3707 2020 3703L2024 3698Q2026 3694 2025 3690L2024 3685Q2023 3681 2018 3678L2010 3673Q2004 3669 2003 3675L2002 3683Q2000 3689 2004 3694ZM1968 3981Q1970 3987 1977 3984L1987 3980Q1995 3977 1995 3976L1996 3974Q1997 3973 1990 3970L1980 3967Q1973 3964 1971 3964L1968 3965Q1966 3965 1967 3972ZM1831 3789Q1822 3797 1824 3800L1826 3803Q1827 3806 1837 3805L1850 3804Q1860 3803 1863 3799L1866 3794Q1869 3791 1868 3787L1866 3781Q1865 3776 1861 3774L1857 3771Q1853 3769 1844 3777ZM1450 4158Q1452 4150 1443 4143L1431 4132Q1422 4125 1414 4135L1404 4149Q1396 4159 1403 4167L1412 4178Q1419 4186 1427 4184L1438 4180Q1447 4177 1448 4169ZM1875 4111Q1863 4113 1861 4121L1857 4132Q1854 4140 1858 4140L1863 4141Q1866 4141 1870 4140L1876 4138Q1881 4137 1885 4135L1891 4132Q1895 4130 1901 4125L1909 4118Q1915 4113 1911 4112L1906 4109Q1903 4107 1891 4109ZM1353 3782Q1355 3773 1343 3765L1327 3755Q1315 3748 1309 3755L1301 3764Q1294 3771 1293 3774L1291 3779Q1290 3783 1292 3784L1293 3786Q1294 3788 1311 3792L1332 3798Q1348 3802 1350 3793ZM1152 3862Q1165 3855 1161 3849L1156 3842Q1152 3837 1143 3837L1131 3837Q1122 3836 1118 3839L1114 3843Q1111 3846 1114 3855L1118 3868Q1121 3877 1134 3871ZM1950 3717Q1956 3717 1961 3714L1967 3710Q1972 3706 1972 3705L1972 3703Q1971 3701 1961 3699L1948 3696Q1938 3694 1936 3699L1934 3704Q1932 3709 1933 3710L1934 3713Q1935 3714 1941 3715ZM1728 3889Q1718 3887 1712 3904L1704 3927Q1698 3944 1699 3945L1699 3946Q1700 3947 1711 3947L1726 3948Q1737 3949 1745 3936L1755 3918Q1763 3906 1760 3902L1755 3897Q1752 3893 1742 3891ZM1127 3726Q1127 3719 1119 3723L1108 3728Q1100 3732 1108 3735L1120 3740Q1128 3744 1128 3736ZM1256 3729Q1254 3732 1253 3738L1253 3746Q1253 3752 1260 3750L1269 3748Q1275 3746 1277 3740L1278 3733Q1279 3727 1274 3726L1268 3724Q1263 3722 1260 3725ZM1963 3964Q1966 3965 1968 3965L1971 3964Q1973 3964 1978 3958L1984 3951Q1989 3946 1984 3944L1977 3942Q1972 3940 1968 3946L1962 3954Q1957 3959 1960 3961ZM1931 3916Q1936 3913 1937 3907L1940 3899Q1942 3893 1939 3891L1936 3889Q1933 3888 1924 3893L1912 3899Q1903 3904 1903 3906L1903 3909Q1904 3912 1906 3914L1910 3918Q1913 3921 1914 3922L1917 3923Q1919 3924 1924 3920ZM1932 3944Q1928 3943 1926 3954L1922 3968Q1919 3979 1925 3980L1933 3981Q1939 3982 1944 3975L1950 3966Q1955 3959 1951 3955L1946 3950Q1942 3946 1938 3945ZM1165 3920Q1163 3907 1154 3906L1141 3905Q1131 3904 1140 3921L1151 3945Q1160 3962 1162 3959L1165 3954Q1167 3951 1166 3938ZM1198 3710Q1201 3709 1202 3705L1204 3701Q1205 3698 1201 3695L1196 3690Q1192 3686 1189 3690L1186 3695Q1184 3698 1186 3703L1189 3709Q1191 3713 1194 3712ZM1554 4154Q1538 4154 1538 4166L1539 4182Q1540 4194 1549 4197L1562 4199Q1572 4201 1578 4196L1586 4188Q1592 4182 1592 4173L1592 4161Q1592 4153 1576 4153ZM1872 3917Q1864 3917 1866 3924L1868 3934Q1870 3941 1872 3942L1876 3942Q1878 3943 1882 3935L1888 3925Q1892 3918 1883 3918ZM1946 3844Q1944 3843 1936 3847L1926 3852Q1919 3856 1919 3857L1920 3859Q1920 3861 1930 3863L1944 3867Q1954 3869 1956 3868L1958 3865Q1960 3863 1957 3858L1954 3851Q1952 3845 1949 3845ZM1173 3746Q1172 3753 1176 3755L1181 3759Q1185 3762 1193 3758L1202 3752Q1210 3748 1208 3744L1206 3738Q1204 3734 1197 3732L1189 3730Q1182 3728 1181 3729L1179 3730Q1177 3731 1176 3737ZM1956 3729Q1956 3734 1963 3733L1973 3732Q1980 3731 1978 3724L1975 3714Q1972 3706 1967 3710L1961 3714Q1956 3717 1956 3722ZM1892 3964Q1890 3965 1889 3970L1888 3978Q1887 3983 1896 3983L1908 3983Q1917 3982 1917 3981L1918 3980Q1919 3979 1913 3974L1905 3967Q1899 3962 1896 3963ZM1210 3716Q1214 3720 1218 3715L1223 3707Q1227 3702 1225 3700L1223 3696Q1221 3694 1216 3695L1210 3697Q1205 3698 1204 3701L1202 3705Q1201 3709 1205 3712ZM1889 3872Q1889 3876 1893 3880L1897 3885Q1901 3889 1907 3881L1915 3869Q1920 3861 1920 3859L1919 3857Q1919 3856 1917 3855L1914 3853Q1912 3852 1906 3856L1897 3860Q1890 3864 1890 3868ZM2011 3770Q2015 3771 2018 3767L2022 3762Q2025 3759 2019 3756L2012 3753Q2006 3751 2005 3756L2003 3762Q2002 3767 2006 3768ZM2042 3957Q2037 3958 2036 3959L2034 3960Q2033 3961 2030 3967L2025 3974Q2022 3979 2023 3982L2024 3987Q2025 3990 2027 3992L2030 3996Q2032 3998 2038 3985L2046 3969Q2052 3957 2048 3957ZM1342 4004Q1339 3987 1329 3993L1316 4002Q1307 4009 1306 4020L1306 4033Q1305 4044 1319 4044L1336 4044Q1349 4044 1346 4027ZM2001 4028Q1999 4026 1994 4025L1987 4024Q1983 4023 1979 4027L1974 4032Q1970 4037 1974 4042L1979 4050Q1983 4055 1990 4049L1999 4040Q2005 4033 2003 4031ZM1976 3838Q1974 3837 1971 3837L1967 3837Q1964 3837 1960 3839L1956 3843Q1952 3845 1954 3851L1957 3858Q1960 3863 1961 3863L1963 3863Q1964 3863 1968 3860L1973 3856Q1976 3853 1977 3849L1978 3844Q1979 3840 1977 3839ZM1156 3769Q1149 3775 1150 3778L1152 3782Q1153 3784 1158 3787L1164 3791Q1169 3794 1177 3791L1188 3786Q1196 3783 1193 3777L1189 3768Q1185 3762 1181 3759L1176 3755Q1172 3753 1165 3759ZM1805 3761Q1811 3753 1808 3740L1803 3724Q1800 3711 1791 3711L1778 3710Q1768 3709 1770 3727L1772 3752Q1773 3770 1777 3773L1783 3778Q1787 3782 1788 3781L1790 3781Q1791 3781 1797 3772ZM1911 3850Q1915 3852 1916 3844L1918 3833Q1919 3825 1916 3821L1912 3816Q1909 3813 1903 3817L1895 3823Q1889 3827 1893 3832L1898 3840Q1902 3846 1906 3848ZM1168 3728Q1177 3731 1173 3722L1167 3710Q1163 3701 1159 3702L1155 3703Q1152 3704 1150 3710L1148 3717Q1146 3722 1155 3725ZM1974 4042Q1970 4037 1965 4039L1958 4041Q1952 4043 1951 4049L1950 4057Q1949 4063 1952 4066L1957 4071Q1960 4074 1967 4069L1976 4061Q1983 4055 1979 4050ZM2069 3861Q2075 3860 2075 3852L2076 3842Q2076 3835 2070 3832L2062 3829Q2056 3827 2052 3834L2046 3842Q2043 3849 2047 3854L2053 3860Q2058 3865 2063 3864ZM1900 3913Q1904 3912 1903 3908L1901 3903Q1900 3900 1890 3897L1876 3894Q1865 3892 1865 3899L1864 3909Q1863 3917 1872 3917L1883 3917Q1892 3918 1895 3916ZM1980 3856Q1976 3853 1973 3856L1968 3860Q1964 3863 1968 3867L1974 3873Q1979 3877 1980 3878L1981 3878Q1982 3878 1984 3873L1985 3867Q1987 3862 1984 3859ZM2050 3799Q2049 3797 2045 3795L2041 3793Q2037 3792 2032 3795L2025 3799Q2019 3802 2020 3807L2022 3814Q2023 3820 2032 3819L2043 3817Q2051 3816 2052 3812L2053 3808Q2054 3804 2052 3802ZM1118 3630Q1125 3626 1125 3624L1124 3621Q1124 3619 1119 3616L1113 3613Q1109 3610 1107 3619L1105 3631Q1103 3640 1110 3636ZM1622 4085Q1637 4081 1637 4068L1636 4051Q1635 4038 1622 4039L1605 4040Q1592 4041 1588 4047L1582 4055Q1578 4061 1581 4071L1584 4085Q1586 4095 1601 4091ZM1977 3814Q1979 3812 1980 3809L1980 3805Q1981 3802 1977 3799L1972 3796Q1969 3793 1967 3794L1964 3794Q1962 3794 1961 3795L1959 3796Q1958 3797 1958 3803L1957 3811Q1956 3818 1961 3817L1968 3817Q1974 3817 1975 3816ZM1247 3606Q1252 3605 1248 3597L1242 3586Q1238 3578 1234 3581L1227 3585Q1223 3588 1222 3590L1221 3593Q1220 3596 1222 3598L1226 3602Q1228 3605 1231 3606L1234 3607Q1237 3608 1241 3607ZM1863 3945Q1870 3941 1868 3934L1865 3924Q1863 3917 1853 3920L1840 3923Q1829 3926 1832 3933L1834 3943Q1837 3950 1840 3952L1843 3954Q1846 3955 1853 3951ZM1216 3695Q1221 3694 1221 3688L1222 3681Q1223 3675 1222 3674L1220 3672Q1218 3670 1210 3673L1199 3677Q1190 3680 1191 3682L1191 3684Q1192 3686 1196 3690L1201 3695Q1205 3698 1210 3697ZM2057 3869Q2058 3865 2053 3860L2047 3854Q2043 3849 2035 3850L2025 3853Q2017 3854 2017 3862L2017 3873Q2017 3881 2028 3880L2044 3878Q2056 3876 2056 3873ZM1677 4222Q1676 4219 1664 4214L1649 4209Q1637 4205 1635 4206L1633 4207Q1631 4209 1628 4217L1624 4228Q1621 4236 1639 4234L1662 4232Q1679 4230 1678 4227ZM1140 3721Q1146 3722 1148 3717L1150 3710Q1152 3704 1146 3701L1138 3697Q1132 3694 1130 3698L1127 3704Q1125 3707 1125 3711L1125 3715Q1125 3718 1132 3719ZM1122 3828Q1122 3836 1131 3837L1143 3837Q1152 3837 1153 3833L1153 3828Q1154 3824 1150 3820L1146 3815Q1143 3811 1137 3810L1128 3809Q1122 3808 1122 3817ZM1268 3643Q1272 3648 1275 3649L1280 3649Q1283 3650 1286 3642L1290 3632Q1293 3624 1287 3624L1279 3624Q1273 3624 1271 3624L1269 3623Q1267 3623 1267 3621L1268 3620Q1268 3619 1267 3618L1265 3617Q1263 3616 1262 3620L1260 3625Q1258 3629 1262 3635ZM1885 3862Q1890 3864 1897 3860L1906 3856Q1912 3852 1909 3850L1905 3847Q1902 3846 1894 3847L1883 3848Q1876 3849 1875 3852L1875 3855Q1874 3858 1879 3860ZM2041 3737Q2042 3737 2049 3735L2059 3732Q2066 3730 2066 3724L2066 3717Q2065 3712 2062 3711L2058 3710Q2055 3709 2049 3712L2041 3716Q2035 3720 2035 3724L2036 3731Q2036 3736 2038 3736ZM1294 3802Q1294 3788 1293 3786L1292 3784Q1290 3783 1284 3783L1276 3784Q1269 3785 1264 3796L1256 3811Q1251 3822 1252 3824L1254 3827Q1255 3829 1267 3831L1283 3834Q1294 3836 1294 3821ZM1523 3791Q1532 3789 1531 3779L1530 3767Q1530 3757 1521 3755L1509 3752Q1500 3749 1496 3758L1492 3771Q1489 3780 1493 3785L1499 3792Q1504 3797 1512 3794ZM1245 3700Q1243 3705 1248 3708L1255 3713Q1261 3717 1264 3710L1269 3701Q1272 3694 1266 3693L1257 3691Q1251 3690 1248 3695ZM1999 3769Q2002 3767 2003 3762L2005 3756Q2006 3751 2005 3749L2004 3746Q2003 3745 1999 3744L1993 3742Q1989 3741 1987 3750L1985 3761Q1983 3770 1986 3771L1990 3773Q1993 3774 1996 3772ZM1914 3922Q1913 3921 1907 3928L1900 3937Q1895 3944 1897 3947L1899 3951Q1901 3954 1909 3951L1920 3946Q1928 3943 1925 3937L1921 3929Q1919 3924 1917 3923ZM2052 3684Q2049 3685 2048 3686L2048 3687Q2047 3688 2049 3694L2053 3703Q2055 3709 2058 3710L2062 3711Q2065 3712 2064 3703L2062 3691Q2060 3681 2057 3682ZM1933 3710Q1932 3709 1928 3709L1922 3709Q1918 3709 1913 3715L1907 3722Q1902 3728 1908 3730L1916 3733Q1922 3736 1926 3735L1930 3734Q1934 3733 1934 3727L1934 3720Q1935 3714 1934 3713ZM1221 3663Q1218 3669 1219 3671L1221 3673Q1223 3675 1230 3675L1239 3674Q1246 3673 1248 3670L1250 3666Q1252 3664 1250 3659L1247 3653Q1245 3649 1240 3648L1233 3647Q1227 3647 1225 3654ZM2033 3776Q2031 3782 2033 3785L2036 3789Q2037 3792 2041 3793L2045 3795Q2049 3797 2052 3787L2056 3775Q2059 3766 2052 3765L2043 3764Q2036 3763 2035 3769ZM1226 3729Q1230 3731 1232 3730L1234 3728Q1235 3727 1236 3721L1236 3712Q1237 3706 1234 3705L1230 3703Q1227 3702 1223 3707L1218 3715Q1214 3720 1214 3721L1214 3723Q1214 3724 1219 3726ZM1849 3840Q1852 3834 1845 3827L1835 3817Q1828 3810 1822 3820L1815 3834Q1810 3845 1819 3848L1832 3852Q1842 3855 1845 3849ZM1880 3990Q1877 3993 1880 4000L1884 4009Q1886 4016 1895 4012L1906 4007Q1914 4003 1915 3997L1916 3988Q1917 3982 1908 3983L1896 3983Q1887 3983 1884 3986ZM2062 3899Q2065 3899 2062 3892L2058 3883Q2056 3876 2044 3878L2028 3880Q2017 3881 2028 3887L2043 3895Q2055 3900 2058 3900ZM1127 3637Q1128 3630 1127 3629L1126 3627Q1125 3626 1118 3630L1110 3636Q1103 3640 1102 3643L1102 3648Q1101 3651 1108 3652L1117 3653Q1123 3654 1125 3646ZM1191 3682Q1190 3680 1187 3679L1183 3679Q1180 3678 1175 3680L1169 3684Q1165 3686 1164 3690L1164 3696Q1163 3700 1170 3700L1178 3699Q1184 3698 1186 3695L1189 3690Q1192 3686 1191 3684ZM2025 3690Q2026 3694 2032 3692L2041 3690Q2047 3688 2048 3687L2048 3686Q2049 3685 2047 3681L2045 3677Q2043 3674 2037 3676L2029 3679Q2023 3681 2024 3685ZM1206 3647Q1200 3652 1205 3657L1213 3664Q1218 3669 1221 3663L1225 3654Q1227 3647 1225 3643L1222 3639Q1220 3635 1214 3640ZM1883 3808Q1885 3800 1884 3799L1884 3798Q1883 3797 1879 3795L1873 3793Q1869 3791 1866 3794L1863 3799Q1860 3803 1863 3811L1866 3821Q1869 3829 1872 3828L1876 3826Q1879 3825 1880 3818ZM1139 3633Q1143 3634 1147 3631L1152 3627Q1156 3624 1155 3621L1154 3617Q1153 3614 1149 3610L1142 3606Q1138 3603 1133 3608L1128 3614Q1124 3619 1124 3621L1125 3624Q1125 3626 1126 3627L1127 3629Q1128 3630 1133 3631ZM1602 3839Q1596 3835 1579 3838L1558 3843Q1542 3846 1549 3860L1557 3878Q1564 3891 1566 3892L1568 3892Q1570 3893 1583 3887L1601 3879Q1614 3873 1616 3867L1619 3859Q1621 3852 1620 3851L1619 3849Q1618 3847 1611 3843ZM1936 3699Q1938 3694 1937 3692L1937 3690Q1936 3687 1927 3687L1914 3687Q1905 3686 1904 3688L1902 3691Q1901 3693 1906 3698L1913 3704Q1918 3709 1922 3709L1928 3709Q1932 3709 1934 3704ZM1784 3788Q1787 3782 1783 3778L1777 3773Q1773 3770 1761 3769L1746 3767Q1735 3766 1727 3774L1718 3784Q1710 3792 1719 3799L1730 3808Q1738 3815 1750 3811L1765 3806Q1777 3802 1780 3796ZM1956 3925Q1956 3927 1960 3929L1966 3931Q1970 3933 1974 3928L1981 3922Q1985 3917 1982 3915L1978 3911Q1975 3908 1971 3910L1965 3911Q1960 3913 1959 3915L1957 3918Q1955 3920 1956 3922ZM1920 3803Q1913 3804 1912 3807L1910 3810Q1909 3813 1912 3816L1916 3821Q1919 3825 1925 3823L1933 3821Q1939 3820 1938 3813L1937 3805Q1936 3799 1929 3800ZM1172 3597Q1171 3595 1166 3601L1159 3608Q1153 3614 1154 3617L1155 3621Q1156 3624 1161 3625L1168 3627Q1173 3628 1173 3620L1174 3608Q1174 3600 1173 3598ZM1858 3673Q1858 3675 1867 3682L1880 3691Q1890 3699 1893 3697L1898 3695Q1901 3693 1902 3691L1904 3688Q1905 3686 1904 3683L1904 3678Q1904 3675 1902 3674L1900 3674Q1898 3674 1894 3674L1888 3675Q1884 3675 1882 3673L1880 3671Q1878 3670 1875 3670L1872 3670Q1869 3670 1866 3669L1863 3668Q1860 3667 1859 3669ZM1115 3707Q1125 3707 1127 3704L1130 3698Q1132 3694 1129 3690L1126 3685Q1123 3680 1122 3680L1121 3680Q1120 3680 1112 3686L1102 3694Q1094 3699 1094 3701L1094 3703Q1094 3705 1103 3705ZM1133 3720Q1127 3719 1127 3726L1128 3736Q1128 3744 1129 3744L1130 3746Q1131 3746 1135 3744L1140 3741Q1144 3739 1144 3734L1145 3728Q1145 3723 1140 3722ZM1128 3593Q1134 3596 1137 3585L1142 3570Q1146 3559 1144 3559L1141 3560Q1139 3560 1136 3557L1131 3552Q1128 3549 1124 3560L1119 3576Q1115 3588 1120 3590ZM1907 3881Q1901 3889 1901 3892L1901 3896Q1900 3900 1901 3901L1902 3903Q1903 3904 1912 3899L1924 3893Q1933 3888 1929 3880L1924 3869Q1920 3861 1915 3869ZM1717 4201Q1711 4193 1706 4193L1699 4193Q1695 4193 1689 4201L1681 4211Q1676 4219 1677 4222L1678 4227Q1679 4230 1695 4227L1715 4223Q1731 4220 1725 4212ZM1135 3744Q1131 3746 1130 3751L1129 3758Q1129 3762 1135 3766L1143 3772Q1149 3775 1156 3769L1165 3759Q1172 3753 1163 3748L1152 3743Q1144 3739 1140 3741ZM1225 3643Q1227 3647 1233 3647L1240 3648Q1245 3649 1246 3645L1249 3639Q1250 3635 1245 3633L1238 3630Q1233 3627 1229 3630L1224 3633Q1221 3635 1223 3639ZM1982 3915Q1985 3917 1986 3918L1987 3918Q1988 3918 1994 3915L2002 3912Q2008 3909 2010 3908L2011 3905Q2012 3903 2012 3899L2012 3893Q2012 3888 2006 3887L1997 3886Q1990 3885 1986 3890L1980 3897Q1975 3902 1975 3904L1975 3907Q1975 3908 1978 3911ZM1151 3568Q1146 3561 1142 3571L1138 3585Q1134 3596 1135 3598L1136 3601Q1138 3603 1145 3598L1155 3591Q1162 3586 1157 3578ZM1371 3901Q1369 3893 1358 3888L1343 3881Q1332 3875 1327 3887L1319 3904Q1313 3916 1315 3918L1318 3921Q1320 3923 1336 3925L1357 3927Q1373 3928 1374 3925L1376 3921Q1377 3918 1375 3910ZM1935 3776Q1933 3779 1934 3784L1936 3791Q1937 3797 1944 3797L1952 3797Q1958 3797 1959 3796L1961 3795Q1962 3794 1958 3787L1954 3778Q1950 3771 1948 3770L1944 3769Q1942 3768 1939 3771ZM1995 3827Q2002 3834 2001 3823L2000 3807Q2000 3796 1994 3798L1986 3800Q1981 3802 1980 3805L1980 3809Q1979 3812 1986 3819ZM1961 3817Q1956 3818 1959 3823L1962 3831Q1964 3837 1967 3837L1971 3837Q1974 3837 1974 3831L1974 3823Q1974 3817 1968 3817ZM1982 3733Q1983 3734 1991 3726L2003 3717Q2011 3710 2000 3709L1984 3707Q1973 3707 1975 3714L1978 3724Q1980 3731 1981 3732ZM1185 3724Q1182 3728 1189 3730L1197 3732Q1204 3734 1207 3731L1211 3727Q1214 3724 1214 3723L1214 3721Q1214 3720 1210 3716L1205 3712Q1201 3709 1198 3710L1194 3712Q1191 3713 1188 3718ZM2010 3939Q2015 3935 2013 3927L2010 3917Q2008 3909 2002 3912L1994 3915Q1988 3918 1990 3926L1992 3937Q1993 3945 1995 3946L1998 3948Q2001 3949 2005 3945ZM1958 3661Q1964 3662 1966 3658L1968 3653Q1970 3649 1967 3647L1964 3644Q1961 3641 1960 3643L1957 3645Q1956 3646 1955 3648L1955 3650Q1954 3651 1951 3654L1947 3657Q1945 3660 1950 3660ZM1167 3650Q1164 3647 1159 3649L1154 3651Q1149 3653 1149 3654L1148 3657Q1148 3659 1150 3661L1152 3664Q1154 3667 1160 3666L1167 3664Q1173 3663 1174 3661L1175 3659Q1176 3657 1172 3654ZM1910 3795Q1909 3791 1906 3790L1901 3788Q1897 3786 1893 3789L1888 3794Q1883 3797 1884 3798L1884 3799Q1885 3800 1892 3804L1902 3809Q1909 3813 1910 3810L1912 3807Q1913 3804 1912 3800ZM1867 3865Q1864 3868 1865 3871L1866 3875Q1867 3878 1874 3878L1883 3877Q1889 3876 1889 3872L1890 3868Q1890 3864 1885 3862L1879 3860Q1874 3858 1871 3861ZM1220 3582Q1223 3588 1227 3585L1234 3581Q1238 3578 1239 3577L1240 3575Q1240 3573 1232 3572L1221 3569Q1212 3567 1216 3574ZM1934 3727Q1934 3733 1937 3736L1942 3741Q1945 3744 1948 3741L1953 3737Q1956 3734 1956 3729L1956 3722Q1956 3717 1950 3717L1941 3715Q1935 3714 1934 3720ZM1126 3763Q1125 3764 1117 3773L1107 3785Q1100 3795 1105 3797L1112 3800Q1118 3802 1127 3795L1140 3785Q1149 3777 1143 3773L1135 3767Q1129 3762 1128 3763ZM1952 4066Q1949 4063 1943 4065L1936 4068Q1930 4070 1928 4081L1924 4096Q1922 4108 1933 4098L1949 4084Q1960 4074 1957 4071ZM1745 3844Q1738 3840 1731 3844L1721 3850Q1714 3854 1713 3861L1712 3872Q1712 3879 1714 3882L1716 3885Q1718 3887 1728 3889L1742 3891Q1752 3893 1755 3881L1759 3865Q1761 3854 1754 3849Z" fill="none" stroke="#424644" stroke-width="2.3" stroke-linejoin="round"/>
<path d="M1128 3548.7L1129.6 3545L1132 3539.8L1134.8 3533.6L1137.8 3527.1L1141 3520.7L1144.2 3514.4L1147.7 3507.9L1151.4 3501.1L1155.3 3494.2L1159.6 3487.2L1164.4 3479.8L1169.5 3472.2L1174.9 3464.5L1180.4 3456.9L1185.7 3449.9L1190.9 3443.5L1196 3437.4L1201.1 3431.7L1206.4 3425.9L1211.8 3420.1L1217.5 3414.1L1223.3 3408L1229.3 3401.9L1235.4 3396L1241.6 3390.3L1248.1 3384.8L1254.8 3379.5L1261.6 3374.3L1268.4 3369.2L1275.2 3364.2L1281.8 3359.2L1288.4 3354.3L1295 3349.4L1301.8 3344.6L1308.7 3340L1315.9 3335.3L1323.4 3330.8L1330.9 3326.3L1338.5 3321.9L1346 3317.6L1353.4 3313.3L1360.9 3309.1L1368.4 3304.9L1375.8 3300.9L1383.3 3297.1L1390.7 3293.4L1398.2 3289.9L1405.6 3286.6L1413.1 3283.4L1420.5 3280.3L1427.9 3277.4L1435.3 3274.7L1442.6 3272L1450.1 3269.6L1457.8 3267.3L1465.8 3265.1L1473.9 3263.1L1482.2 3261.3L1490.5 3259.6L1498.8 3258L1506.9 3256.4L1515 3255L1523.1 3253.6L1531.4 3252.5L1539.8 3251.6L1548.5 3251L1557.4 3250.6L1566.5 3250.4L1575.5 3250.4L1584.5 3250.5L1593.6 3250.7L1602.8 3251.1L1611.9 3251.6L1620.8 3252.3L1629.3 3253.1L1637.8 3254.3L1646.5 3255.8L1654.7 3257.4L1661.6 3258.8L1666.5 3259.8L1664.7 3277.7L1658.7 3277.3L1650.2 3278.8L1640.6 3276.5L1630.6 3276.6L1621.9 3273.3L1614 3274L1606.4 3274.9L1599.2 3272.8L1591.9 3271.7L1584.5 3272.6L1577.1 3272.8L1569.6 3273.4L1562.2 3273.8L1554.6 3273.2L1547.2 3274.5L1539.8 3275.8L1532.4 3277.4L1524.7 3277.9L1517.5 3280.8L1510.4 3283.7L1502.7 3284.8L1494.9 3285.7L1487.1 3286.7L1480.8 3292.7L1473.2 3294.8L1465.1 3296.4L1456.6 3298L1449.2 3302.1L1441.3 3304L1436 3309.5L1430.2 3311.1L1424.7 3311.5L1421.6 3315.7L1416.6 3315.9L1413 3319.4L1409.3 3323.4L1405.7 3328L1400 3330.8L1398.8 3337L1395 3339.2L1391.8 3339.1L1390.1 3337.1L1387.8 3336L1385.8 3335.3L1383.1 3333.9L1379.7 3336.8L1374.9 3339.6L1370.5 3343.9L1364.8 3346.4L1361.1 3350.3L1357.1 3351.7L1353.5 3352.2L1350.3 3354.1L1346.4 3354.3L1342.5 3357L1336 3359.1L1331.6 3365.8L1325.6 3371.1L1318.8 3374.5L1316 3379.8L1313 3381.4L1311.6 3382.5L1310.7 3383L1310.1 3384L1307.1 3383.7L1305.6 3386.9L1302.7 3389.5L1298.5 3391.5L1295.9 3395.3L1292.3 3398.6L1287.7 3400.9L1284 3405.8L1278.4 3407.9L1273.1 3411L1267.3 3413.3L1262.6 3417.6L1258.1 3422.7L1252.6 3426.5L1247.1 3429.9L1243.5 3434.4L1239.8 3437.5L1236.2 3440L1234.1 3443.3L1232.1 3446.9L1228 3448.8L1222.8 3449.5L1217.5 3451.3L1212 3453.5L1206.7 3455.2L1201.7 3457.5L1200.5 3462.6L1200.7 3467.7L1198.5 3472.9L1198.7 3478.3L1198.9 3483.8L1195.8 3488.4L1192.9 3493.1L1190.5 3498.4L1186.9 3503.2L1183.1 3508.2L1180.2 3514.5L1177.9 3521.8L1174.1 3528.4L1172.6 3535.5L1166.8 3539L1166.4 3544.2L1163.3 3546.4L1161.4 3548.9L1158.3 3549.7L1155.8 3551.8L1152.7 3553.5L1150 3557L1146.6 3558.8L1143.1 3559L1141 3560Z" fill="#8b5d5a"/>
<path d="M1660 3277L1657 3272M1661 3259Q1660 3266 1657 3272M1347 3332L1359 3338M1347 3332L1342 3335M1342 3357Q1341 3350 1337 3343M1359 3338L1359 3351M1342 3335L1337 3343M1657 3272L1644 3275M1644 3277L1644 3275M1149 3554Q1140 3554 1131 3552M1149 3554Q1152 3544 1152 3534M1132 3541Q1142 3539 1151 3533M1150 3557L1149 3554M1166 3544Q1162 3537 1155 3534M1155 3534L1152 3534M1342 3335Q1337 3329 1330 3327M1350 3315Q1350 3324 1347 3332M1371 3319L1379 3308M1354 3313Q1363 3315 1371 3319M1373 3303L1379 3308M1379 3308L1385 3307M1387 3295L1385 3307M1332 3366Q1325 3362 1318 3360M1337 3343Q1330 3347 1322 3346M1318 3360Q1319 3353 1322 3346M1322 3346L1314 3337M1318 3360L1312 3364M1312 3364Q1315 3370 1317 3377M1298 3380Q1303 3373 1305 3364M1298 3380Q1289 3374 1278 3375M1278 3375L1281 3362M1281 3362Q1292 3364 1304 3363M1312 3364L1305 3364M1301 3390L1298 3380M1271 3382L1271 3390M1271 3382L1278 3375M1294 3397Q1283 3392 1271 3390M1299 3347Q1303 3354 1304 3363M1362 3337Q1367 3330 1372 3323M1362 3337L1373 3341M1372 3323Q1378 3327 1385 3330M1387 3336L1385 3330M1359 3338L1362 3337M1371 3319L1372 3323M1393 3312L1385 3307M1393 3312Q1391 3322 1385 3330M1405 3311L1393 3312M1409 3324L1405 3311M1151 3533L1147 3526M1147 3526L1140 3523M1521 3279L1518 3271M1545 3275L1546 3267M1518 3271Q1526 3265 1531 3257M1546 3267Q1539 3262 1531 3257M1531 3253L1531 3257M1501 3257L1504 3267M1504 3267Q1511 3270 1518 3271M1562 3251L1562 3259M1562 3259Q1553 3261 1546 3267M1405 3311L1406 3310M1399 3290L1405 3295M1406 3310Q1405 3303 1405 3295M1405 3295Q1412 3291 1418 3286M1418 3281L1418 3286M1271 3390L1270 3392M1270 3392Q1267 3402 1267 3412M1268 3413L1267 3412M1241 3392Q1244 3401 1243 3410M1243 3410L1240 3414M1240 3414Q1230 3413 1220 3412M1271 3382L1261 3375M1270 3392Q1255 3390 1241 3392M1267 3412Q1255 3413 1243 3410M1240 3424L1240 3414M1240 3424L1248 3429M1240 3424Q1236 3430 1230 3434M1235 3442L1230 3434M1613 3264L1614 3274M1613 3264Q1619 3258 1627 3253M1628 3276L1635 3265M1634 3254L1635 3265M1644 3275L1635 3265M1562 3259L1568 3264M1568 3264L1570 3273M1406 3310Q1416 3308 1426 3307M1430 3311L1426 3307M1418 3286L1428 3293M1426 3307L1428 3293M1435 3275Q1435 3282 1439 3289M1439 3289L1428 3293M1439 3289L1443 3290M1456 3268L1459 3274M1459 3274Q1453 3284 1443 3290M1443 3290L1451 3301M1504 3267L1497 3274M1500 3285L1497 3274M1147 3526Q1149 3515 1154 3505M1154 3505L1150 3503M1218 3451Q1219 3443 1220 3435M1202 3457L1201 3457M1197 3447Q1205 3438 1210 3427M1197 3447L1201 3457M1210 3427L1220 3435M1230 3434L1220 3435M1191 3463Q1191 3471 1190 3479M1190 3479L1199 3483M1191 3463L1201 3457M1191 3444L1197 3447M1208 3424L1210 3427M1191 3463L1178 3460M1589 3251L1584 3260M1598 3251L1605 3263M1584 3260Q1587 3266 1592 3272M1605 3263L1595 3272M1568 3264Q1576 3261 1584 3260M1613 3264L1605 3263M1460 3274Q1464 3282 1468 3289M1460 3274Q1469 3271 1479 3269M1468 3289L1481 3286M1481 3286L1486 3275M1479 3269L1486 3275M1467 3296L1468 3289M1480 3262L1479 3269M1484 3290L1481 3286M1497 3274L1486 3275M1155 3534Q1166 3530 1173 3521M1154 3505L1156 3505M1156 3505Q1164 3513 1173 3521M1178 3521L1173 3521M1182 3500Q1173 3498 1165 3497M1182 3500Q1184 3491 1181 3482M1165 3497Q1163 3488 1165 3478M1181 3482Q1174 3479 1168 3475M1156 3505L1165 3497M1186 3505L1182 3500M1190 3479L1181 3482" fill="none" stroke="#6e4543" stroke-width="2"/>
<path d="M1141 3560L1143.1 3559L1146.6 3558.8L1150 3557L1152.7 3553.5L1155.8 3551.8L1158.3 3549.7L1161.4 3548.9L1163.3 3546.4L1166.4 3544.2L1166.8 3539L1172.6 3535.5L1174.1 3528.4L1177.9 3521.8L1180.2 3514.5L1183.1 3508.2L1186.9 3503.2L1190.5 3498.4L1192.9 3493.1L1195.8 3488.4L1198.9 3483.8L1198.7 3478.3L1198.5 3472.9L1200.7 3467.7L1200.5 3462.6L1201.7 3457.5L1206.7 3455.2L1212 3453.5L1217.5 3451.3L1222.8 3449.5L1228 3448.8L1232.1 3446.9L1234.1 3443.3L1236.2 3440L1239.8 3437.5L1243.5 3434.4L1247.1 3429.9L1252.6 3426.5L1258.1 3422.7L1262.6 3417.6L1267.3 3413.3L1273.1 3411L1278.4 3407.9L1284 3405.8L1287.7 3400.9L1292.3 3398.6L1295.9 3395.3L1298.5 3391.5L1302.7 3389.5L1305.6 3386.9L1307.1 3383.7L1310.1 3384L1310.7 3383L1311.6 3382.5L1313 3381.4L1316 3379.8L1318.8 3374.5L1325.6 3371.1L1331.6 3365.8L1336 3359.1L1342.5 3357L1346.4 3354.3L1350.3 3354.1L1353.5 3352.2L1357.1 3351.7L1361.1 3350.3L1364.8 3346.4L1370.5 3343.9L1374.9 3339.6L1379.7 3336.8L1383.1 3333.9L1385.8 3335.3L1387.8 3336L1390.1 3337.1L1391.8 3339.1L1395 3339.2L1398.8 3337L1400 3330.8L1405.7 3328L1409.3 3323.4L1413 3319.4L1416.6 3315.9L1421.6 3315.7L1424.7 3311.5L1430.2 3311.1L1436 3309.5L1441.3 3304L1449.2 3302.1L1456.6 3298L1465.1 3296.4L1473.2 3294.8L1480.8 3292.7L1487.1 3286.7L1494.9 3285.7L1502.7 3284.8L1510.4 3283.7L1517.5 3280.8L1524.7 3277.9L1532.4 3277.4L1539.8 3275.8L1547.2 3274.5L1554.6 3273.2L1562.2 3273.8L1569.6 3273.4L1577.1 3272.8L1584.5 3272.6L1591.9 3271.7L1599.2 3272.8L1606.4 3274.9L1614 3274L1621.9 3273.3L1630.6 3276.6L1640.6 3276.5L1650.2 3278.8L1658.7 3277.3L1664.7 3277.7L1657.2 3309L1654.7 3308.1L1651.3 3306.8L1647.1 3305.3L1642.2 3303.9L1636.7 3302.7L1630.4 3301.7L1623.2 3300.7L1615.4 3299.9L1607.4 3299.3L1599.4 3299L1591.5 3298.9L1583.3 3299.1L1575 3299.5L1566.7 3300.1L1558.4 3300.8L1550.2 3301.6L1542 3302.5L1533.8 3303.6L1525.6 3304.9L1517.4 3306.4L1509.2 3308.2L1501 3310.2L1492.8 3312.4L1484.6 3314.9L1476.4 3317.6L1468.2 3320.4L1460 3323.4L1451.8 3326.7L1443.6 3330.3L1435.4 3334.4L1427.2 3338.9L1418.9 3343.9L1410.6 3349.3L1402.4 3354.8L1394.4 3360.5L1386.7 3366.1L1379.1 3371.9L1371.6 3377.9L1364.3 3384L1357.2 3390.3L1350.2 3396.7L1343.3 3403.2L1336.6 3409.9L1330 3416.8L1323.6 3423.8L1317.3 3431L1311.1 3438.5L1305 3446L1299.2 3453.6L1293.8 3461.1L1288.7 3468.5L1284 3475.8L1279.5 3483.2L1275.3 3490.7L1271.4 3498.4L1267.9 3506.4L1264.7 3514.8L1261.7 3523.2L1259 3531.5L1256.5 3539.4L1254.2 3547.4L1252 3555.6L1250 3563.4L1248.4 3570L1247.2 3574.8L1211.8 3567.3L1174.5 3556.1Z" fill="#ca8b8b"/>
<path d="M1356 3369Q1349 3363 1343 3357M1356 3369Q1355 3378 1354 3386M1332 3365Q1332 3373 1333 3380M1354 3386Q1343 3384 1333 3380M1375 3357L1375 3351M1375 3357Q1364 3361 1356 3369M1370 3344L1375 3351M1660 3296Q1655 3290 1649 3286M1649 3286L1649 3279M1333 3380Q1327 3385 1319 3387M1319 3387L1311 3383M1375 3351Q1387 3347 1399 3342M1399 3342L1398 3337M1570 3273L1569 3284M1569 3284L1572 3288M1572 3288Q1580 3291 1587 3289M1587 3289Q1587 3280 1592 3272M1201 3468L1213 3471M1213 3471L1215 3465M1211 3454L1215 3465M1283 3414L1282 3407M1283 3414Q1294 3419 1305 3419M1298 3392Q1305 3403 1306 3416M1305 3419L1306 3416M1319 3387Q1323 3396 1326 3405M1306 3416Q1316 3410 1326 3405M1399 3342L1409 3350M1415 3317Q1420 3322 1424 3329M1424 3329L1423 3341M1441 3304L1447 3310M1447 3310Q1443 3317 1441 3325M1424 3329Q1433 3328 1441 3325M1375 3357Q1381 3361 1385 3368M1606 3287Q1599 3288 1593 3293M1606 3287Q1618 3292 1626 3301M1593 3293L1594 3299M1587 3289L1593 3293M1608 3275L1606 3287M1627 3275Q1626 3288 1626 3301M1649 3286Q1641 3296 1630 3302M1520 3300L1522 3306M1502 3298L1497 3303M1502 3298Q1511 3301 1520 3300M1498 3311L1497 3303M1251 3558L1247 3556M1247 3556Q1240 3565 1229 3571M1171 3557L1176 3545M1172 3536L1176 3545M1195 3489L1203 3490M1213 3471Q1207 3480 1203 3490M1356 3392Q1341 3398 1327 3406M1327 3406L1332 3414M1354 3386L1356 3391M1306 3427L1314 3434M1306 3427L1305 3419M1441 3325L1444 3330M1292 3436Q1292 3445 1290 3453M1290 3453L1294 3461M1306 3427Q1299 3432 1292 3436M1572 3288L1568 3300M1278 3486Q1271 3481 1263 3481M1258 3503Q1264 3493 1263 3481M1266 3511L1258 3503M1524 3278L1525 3284M1548 3274L1552 3282M1525 3284Q1535 3287 1545 3292M1552 3282L1545 3292M1498 3285L1502 3298M1520 3300Q1523 3292 1525 3284M1569 3284Q1561 3281 1552 3282M1547 3302L1545 3292M1474 3295L1479 3300M1471 3295Q1462 3302 1456 3312M1479 3300Q1479 3309 1479 3317M1456 3312L1464 3322M1497 3303Q1488 3301 1479 3300M1447 3310L1456 3312M1263 3481L1261 3476M1234 3482Q1241 3493 1249 3503M1234 3482L1241 3476M1258 3503L1249 3503M1241 3476Q1251 3473 1261 3476M1291 3465Q1278 3466 1264 3468M1264 3468L1261 3476M1237 3525L1248 3532M1237 3525Q1230 3529 1223 3535M1248 3532Q1248 3542 1245 3551M1245 3551Q1237 3547 1227 3547M1223 3535L1227 3547M1235 3514Q1242 3508 1249 3503M1235 3514L1237 3525M1260 3529L1248 3532M1247 3556L1245 3551M1211 3567Q1220 3557 1227 3547M1213 3471Q1224 3474 1233 3482M1233 3482Q1231 3491 1224 3498M1203 3490L1207 3497M1207 3497Q1216 3496 1224 3498M1235 3514L1228 3510M1228 3510L1224 3498M1195 3543Q1193 3535 1191 3527M1195 3543L1200 3546M1200 3546Q1206 3538 1215 3533M1215 3533Q1214 3525 1209 3518M1191 3527Q1196 3521 1201 3514M1209 3518L1202 3514M1176 3525Q1184 3525 1191 3527M1176 3545Q1186 3545 1195 3543M1205 3565Q1201 3556 1200 3546M1223 3535L1215 3533M1228 3510Q1218 3514 1209 3518M1185 3506Q1192 3511 1201 3514M1207 3497Q1202 3505 1202 3514M1290 3453Q1282 3448 1273 3447M1264 3468L1263 3459M1273 3447Q1267 3453 1263 3459M1273 3447L1271 3439M1292 3436Q1285 3434 1279 3429M1271 3439L1279 3429M1283 3414L1278 3422M1278 3422L1279 3429M1250 3450Q1251 3441 1255 3434M1250 3450L1239 3453M1233 3450L1232 3447M1233 3450L1239 3453M1255 3434L1252 3427M1263 3459Q1257 3453 1250 3450M1271 3439Q1263 3435 1255 3434M1241 3476Q1237 3465 1239 3453M1215 3465Q1222 3455 1233 3450M1278 3422Q1270 3421 1262 3418" fill="none" stroke="#ad7070" stroke-width="2"/>
<path d="M1666.5 3259.8L1669.7 3260.4L1674.1 3261.3L1679.4 3262.3L1685 3263.4L1690.4 3264.5L1695.7 3265.7L1701.3 3266.9L1707 3268.2L1712.7 3269.6L1718.4 3271L1724 3272.4L1729.6 3273.9L1735.1 3275.4L1740.7 3276.9L1746.3 3278.4L1751.9 3279.9L1757.4 3281.3L1762.9 3282.7L1768.5 3284.2L1774.3 3285.9L1780.3 3287.7L1786.6 3289.7L1792.9 3291.7L1799 3293.9L1804.8 3296.1L1810.1 3298.4L1815.2 3300.7L1820 3303.1L1824.8 3305.7L1829.7 3308.6L1834.7 3311.7L1839.6 3315L1844.6 3318.5L1849.5 3322.2L1854.5 3326L1859.5 3330L1864.5 3334.1L1869.4 3338.4L1874.4 3342.7L1879.4 3347.1L1884.4 3351.5L1889.3 3355.9L1894.3 3360.4L1899.2 3364.9L1904.2 3369.4L1909.3 3373.9L1914.5 3378.4L1919.6 3382.8L1924.5 3387.3L1929.1 3391.8L1933.3 3396.3L1937.1 3400.8L1940.7 3405.2L1944.2 3409.7L1947.7 3414.2L1951.2 3418.7L1954.6 3423.2L1957.9 3427.6L1961 3432.1L1963.9 3436.5L1966.4 3440.7L1968.6 3444.8L1970.7 3448.9L1972.8 3453.3L1975 3458L1977.5 3463.3L1980 3469.1L1982.7 3475.1L1985.2 3481L1987.7 3486.3L1990.1 3491L1992.4 3495.3L1994.6 3499.4L1996.8 3503.6L1998.9 3508L2000.9 3512.7L2002.8 3517.6L2004.6 3522.6L2006.4 3527.7L2008.2 3532.9L2010.1 3538.3L2011.9 3543.8L2013.8 3549.4L2015.6 3555.1L2017.5 3560.9L2019.4 3566.8L2021.2 3572.9L2023.1 3579L2024.9 3585L2026.8 3590.7L2028.7 3596.3L2030.6 3601.7L2032.5 3607L2034.4 3612L2036.1 3616.7L2037.7 3620.9L2039.2 3624.7L2040.7 3628.3L2042.1 3631.8L2043.6 3635.4L2045.1 3639.2L2046.7 3643.1L2048.2 3646.9L2049.6 3650.6L2051 3654L2052.3 3657.3L2053.6 3660.6L2054.8 3663.6L2055.9 3666.2L2056.6 3668L2021.2 3682.1L2019.9 3679.5L2020.9 3675.4L2018.5 3671.2L2018.4 3666.5L2017.1 3662.4L2016.6 3658.6L2015.2 3655.2L2015.2 3651.4L2014.2 3647.8L2012.8 3644L2012.2 3639.9L2012.5 3635.6L2009.2 3632.3L2007.6 3627.5L2007.7 3621L2002.5 3613.9L2003.6 3603.6L1999.7 3594L1998.5 3584.2L1995 3576.6L1991.6 3571.4L1991.3 3566.2L1989.3 3562.4L1986.6 3558.8L1983.6 3554.4L1982.3 3548.1L1979.8 3541.6L1978.2 3534.5L1975.9 3527.4L1971.9 3521L1971.3 3513.5L1966.7 3507.5L1964.2 3500.6L1960.7 3494.1L1958.3 3487L1954.5 3480.3L1951.2 3473.4L1947 3466.8L1942.9 3460.3L1938.9 3453.8L1934.3 3447.9L1930 3441.8L1926.3 3435.3L1921.2 3429.8L1917.4 3423.4L1912.5 3417.6L1909.3 3410.7L1903.5 3405.5L1899 3399.6L1894.1 3394.4L1888.9 3389.5L1883.5 3384.9L1877.9 3380.5L1873.5 3375.4L1866.8 3373.1L1863.4 3368.1L1861.6 3362.9L1858.2 3358.9L1857.8 3353.1L1853.9 3348.8L1847.9 3345.7L1841.5 3342.3L1835.4 3337.8L1829.2 3334L1824.7 3329.1L1819.3 3326.7L1814.8 3323.3L1811.4 3319.6L1808.4 3316.5L1805.1 3314.6L1802 3316.2L1799.4 3318.9L1797.3 3322.3L1795.8 3325.5L1794 3327.9L1791.2 3327.2L1788.3 3325.9L1786.4 3322.9L1784.2 3320.4L1783.1 3317.3L1780.6 3315.3L1782 3311.8L1781.8 3308.4L1778 3306.8L1775.3 3304.2L1770.2 3304.3L1764.2 3302.9L1757 3303.8L1749.5 3302.3L1741.7 3300.5L1733.3 3298.1L1724.2 3294.4L1714.2 3292.3L1705.4 3287.9L1697.1 3285.1L1688.7 3286.6L1681.6 3284L1675.2 3280.3L1669.4 3280.5L1665.2 3280.3Z" fill="#3d5b90"/>
<path d="M2053 3659L2043 3660M2042 3674L2040 3671M2043 3660L2040 3671M1892 3393Q1900 3390 1908 3388M1908 3388Q1908 3402 1912 3414M1822 3315Q1829 3316 1837 3318M1822 3304L1822 3315M1839 3315L1837 3318M1864 3352L1872 3341M1864 3352Q1871 3359 1877 3366M1877 3366L1883 3365M1889 3355L1884 3364M1868 3373L1877 3366M1888 3389Q1887 3377 1883 3365M1911 3376Q1896 3374 1884 3364M1911 3376L1908 3388M1852 3348Q1852 3338 1856 3329M1834 3337L1841 3328M1841 3328Q1849 3328 1856 3329M1864 3352L1856 3352M1822 3315L1815 3323M1837 3318L1841 3328M1803 3316L1799 3313M1788 3326Q1793 3319 1799 3313M1802 3295Q1798 3302 1798 3310M1799 3313L1798 3310M1766 3294L1764 3303M1766 3294L1779 3293M1779 3293Q1782 3300 1782 3308M1756 3285Q1753 3295 1746 3302M1756 3285L1766 3294M1756 3285L1754 3280M1783 3289L1779 3293M1798 3310Q1789 3311 1782 3308M1956 3464Q1966 3462 1975 3459M1956 3464Q1959 3455 1956 3445M1959 3443L1956 3445M1959 3443L1969 3445M1950 3471L1956 3464M1950 3471Q1960 3481 1972 3486M1972 3486Q1978 3480 1981 3472M1993 3497L1991 3498M1974 3494Q1982 3495 1991 3498M1974 3494L1972 3486M2030 3671L2023 3661M2030 3671L2022 3682M2023 3661L2017 3662M2040 3671L2030 3671M2012 3641L2026 3643M2023 3661L2032 3650M2026 3643L2032 3650M2043 3660L2037 3651M2037 3651L2032 3650M1993 3538Q1999 3533 2006 3527M1993 3538Q1988 3531 1983 3524M2003 3519L1990 3516M1983 3524L1990 3516M1965 3503L1974 3494M1973 3524L1983 3524M1991 3498Q1990 3507 1990 3516M2026 3643Q2032 3632 2037 3621M2037 3651L2046 3641M2012 3635L2017 3623M2017 3623Q2024 3620 2032 3619M2032 3619L2037 3621M1959 3443L1959 3433M1960 3431L1959 3433M1932 3426L1942 3426M1932 3426L1925 3433M1942 3444Q1941 3435 1943 3427M1942 3444L1936 3450M1912 3414L1923 3413M1923 3413Q1927 3420 1932 3426M1959 3433Q1951 3430 1943 3427M1956 3445Q1949 3443 1942 3444M1949 3416L1945 3418M1945 3418L1942 3426M1929 3391L1924 3394M1939 3403L1936 3407M1924 3394L1927 3408M1936 3407L1927 3408M1908 3388Q1916 3391 1924 3394M1945 3418Q1941 3413 1936 3407M1923 3413L1927 3408M1743 3277Q1735 3286 1729 3296M1720 3271Q1721 3283 1720 3293M1993 3538L1993 3541M1993 3541L1981 3545M2017 3623Q2009 3618 2004 3611M1702 3287L1703 3279M1685 3285L1684 3273M1703 3279Q1698 3272 1691 3267M1684 3273L1691 3267M1716 3270Q1710 3275 1703 3279M1666 3271Q1675 3270 1684 3273M1691 3265L1691 3267M2009 3605Q2010 3595 2006 3585M2009 3605L2022 3602M2022 3602L2027 3592M2027 3592Q2018 3589 2010 3584M2006 3585L2010 3584M2004 3611L2009 3605M1998 3582L2006 3585M2032 3619Q2028 3610 2022 3602M2019 3566Q2011 3564 2003 3561M2012 3545L2000 3550M2003 3561L2000 3555M2000 3550L2000 3555M1997 3580Q1999 3570 2003 3561M2010 3584Q2017 3578 2020 3569M1993 3541L2000 3550M1988 3560L2000 3555" fill="none" stroke="#2b4473" stroke-width="2"/>
<path d="M1665.2 3280.3L1669.4 3280.5L1675.2 3280.3L1681.6 3284L1688.7 3286.6L1697.1 3285.1L1705.4 3287.9L1714.2 3292.3L1724.2 3294.4L1733.3 3298.1L1741.7 3300.5L1749.5 3302.3L1757 3303.8L1764.2 3302.9L1770.2 3304.3L1775.3 3304.2L1778 3306.8L1781.8 3308.4L1782 3311.8L1780.6 3315.3L1783.1 3317.3L1784.2 3320.4L1786.4 3322.9L1788.3 3325.9L1791.2 3327.2L1794 3327.9L1795.8 3325.5L1797.3 3322.3L1799.4 3318.9L1802 3316.2L1805.1 3314.6L1808.4 3316.5L1811.4 3319.6L1814.8 3323.3L1819.3 3326.7L1824.7 3329.1L1829.2 3334L1835.4 3337.8L1841.5 3342.3L1847.9 3345.7L1853.9 3348.8L1857.8 3353.1L1858.2 3358.9L1861.6 3362.9L1863.4 3368.1L1866.8 3373.1L1873.5 3375.4L1877.9 3380.5L1883.5 3384.9L1888.9 3389.5L1894.1 3394.4L1899 3399.6L1903.5 3405.5L1909.3 3410.7L1912.5 3417.6L1917.4 3423.4L1921.2 3429.8L1926.3 3435.3L1930 3441.8L1934.3 3447.9L1938.9 3453.8L1942.9 3460.3L1947 3466.8L1951.2 3473.4L1954.5 3480.3L1958.3 3487L1960.7 3494.1L1964.2 3500.6L1966.7 3507.5L1971.3 3513.5L1971.9 3521L1975.9 3527.4L1978.2 3534.5L1979.8 3541.6L1982.3 3548.1L1983.6 3554.4L1986.6 3558.8L1989.3 3562.4L1991.3 3566.2L1991.6 3571.4L1995 3576.6L1998.5 3584.2L1999.7 3594L2003.6 3603.6L2002.5 3613.9L2007.7 3621L2007.6 3627.5L2009.2 3632.3L2012.5 3635.6L2012.2 3639.9L2012.8 3644L2014.2 3647.8L2015.2 3651.4L2015.2 3655.2L2016.6 3658.6L2017.1 3662.4L2018.4 3666.5L2018.5 3671.2L2020.9 3675.4L2019.9 3679.5L2021.2 3682.1L2010 3673.5L1998.8 3664.2L1987.6 3651.2L1965.3 3634.4L1965.3 3634.4L1965.1 3631.2L1964.9 3626.7L1964.6 3621.4L1964.2 3615.8L1963.4 3610.2L1962.4 3604.6L1961.1 3598.8L1959.6 3592.8L1957.9 3586.6L1955.9 3580.4L1953.8 3573.9L1951.4 3567.4L1948.8 3560.7L1946 3553.8L1942.9 3546.8L1939.6 3539.6L1936 3532.2L1932.3 3524.6L1928.3 3517.1L1924.3 3509.5L1920.1 3502L1915.8 3494.5L1911.3 3486.9L1906.7 3479.5L1901.9 3472.3L1897 3465.3L1891.9 3458.6L1886.7 3452L1881.3 3445.4L1875.8 3438.7L1870.1 3432L1864.3 3425.1L1858.4 3418.3L1852.3 3411.6L1846 3405.2L1839.6 3398.9L1833 3392.8L1826.3 3386.8L1819.5 3381L1812.4 3375.4L1805.3 3369.8L1798 3364.4L1790.5 3359.1L1782.9 3354.1L1775.2 3349.3L1767.2 3344.7L1759 3340.4L1750.8 3336.3L1742.4 3332.4L1734.2 3328.8L1725.9 3325.3L1717.5 3322L1709.2 3318.9L1701 3316.2L1693.2 3313.9L1685.2 3312.1L1676.9 3310.7L1669.1 3309.7L1662.5 3308.9L1657.8 3308.3Z" fill="#b3c3e0"/>
<path d="M2015 3656Q2007 3659 2000 3665M1692 3304L1692 3314M1692 3304Q1683 3299 1673 3295M1667 3299L1673 3295M1667 3299L1667 3309M1714 3297L1718 3306M1699 3299Q1706 3296 1714 3297M1718 3306Q1716 3313 1710 3319M1699 3299L1692 3304M1676 3281Q1676 3288 1673 3295M1694 3286L1699 3299M1661 3297L1667 3299M1718 3306Q1726 3308 1732 3313M1728 3326L1733 3319M1733 3319L1732 3313M1959 3591Q1969 3596 1979 3597M1965 3620L1976 3621M1979 3597Q1975 3608 1976 3621M1979 3597L1987 3594M1955 3576Q1970 3575 1985 3573M1987 3594Q1985 3583 1985 3573M2015 3653Q2006 3648 2000 3640M1981 3646L1984 3641M2000 3640Q1992 3640 1984 3641M1976 3621L1980 3624M1984 3641Q1981 3633 1980 3624M1732 3313Q1739 3308 1746 3301M1714 3297L1716 3293M1782 3329Q1773 3325 1768 3317M1781 3330Q1772 3337 1762 3342M1768 3317L1760 3317M1760 3317Q1755 3323 1750 3329M1751 3336L1750 3329M1772 3304L1768 3317M1788 3325L1782 3329M1748 3302Q1752 3311 1760 3317M1733 3319Q1740 3326 1750 3329M1863 3366L1859 3376M1862 3363Q1853 3355 1841 3353M1859 3376Q1848 3375 1837 3380M1837 3380Q1841 3367 1841 3353M1985 3573L1991 3565M1989 3563Q1980 3558 1971 3552M1955 3576L1958 3564M1971 3552Q1965 3558 1958 3564M1956 3501Q1948 3507 1943 3515M1956 3501Q1950 3493 1950 3484M1943 3515Q1935 3508 1932 3497M1932 3497Q1936 3491 1939 3484M1950 3484L1939 3484M1919 3500L1932 3497M1913 3491Q1918 3483 1918 3474M1930 3473L1922 3472M1930 3473L1939 3484M1918 3474L1922 3472M1940 3456Q1938 3466 1930 3473M1955 3480L1950 3484M2001 3596L1996 3597M1996 3597Q1996 3607 1994 3617M2008 3624Q2001 3620 1994 3617M1987 3594L1996 3597M2000 3640Q2003 3631 2008 3624M1980 3624Q1988 3623 1994 3617M1865 3388Q1860 3397 1856 3407M1865 3388L1877 3387M1856 3407Q1869 3407 1882 3411M1877 3387Q1883 3393 1888 3398M1888 3398L1882 3411M1859 3376L1865 3388M1880 3382L1877 3387M1896 3396L1888 3398M1900 3419L1887 3422M1887 3422L1882 3411M1907 3409L1900 3419M1854 3408Q1843 3396 1836 3381M1854 3408L1852 3411M1828 3383L1836 3381M1828 3383L1825 3386M1837 3380L1836 3381M1856 3407L1854 3408M1885 3426L1887 3422M1885 3426Q1878 3431 1870 3432M1893 3443Q1887 3436 1885 3426M1885 3450L1893 3443M1819 3367Q1824 3375 1828 3383M1799 3365Q1809 3366 1819 3367M1792 3360L1793 3357M1793 3357Q1786 3344 1781 3330M1902 3473Q1910 3471 1918 3474M1839 3350L1827 3352M1839 3350L1842 3342M1827 3352Q1819 3348 1811 3344M1819 3326L1812 3331M1812 3331L1811 3344M1819 3367Q1822 3359 1827 3352M1841 3353L1839 3350M1793 3357Q1801 3350 1811 3344M1797 3324Q1804 3328 1812 3331M1896 3444Q1906 3440 1913 3433M1896 3444L1903 3455M1903 3455L1916 3456M1916 3456Q1923 3447 1928 3438M1913 3433L1925 3434M1893 3443L1896 3444M1900 3419Q1907 3426 1913 3433M1899 3468L1903 3455M1922 3472Q1920 3464 1916 3456M1971 3542Q1964 3536 1958 3530M1971 3542L1979 3538M1958 3530Q1967 3525 1971 3515M1971 3552L1971 3542M1956 3501L1965 3503M1943 3520Q1950 3525 1957 3530M1943 3520L1932 3525M1957 3530Q1952 3538 1947 3547M1943 3547L1947 3547M1943 3515L1943 3520M1958 3564Q1954 3555 1947 3547" fill="none" stroke="#93a6cb" stroke-width="2"/>
<g fill="none" stroke="#1d2b36" stroke-width="3" stroke-linejoin="round" stroke-linecap="round">
<path d="M1128 3548.7L1129.6 3545L1132 3539.8L1134.8 3533.6L1137.8 3527.1L1141 3520.7L1144.2 3514.4L1147.7 3507.9L1151.4 3501.1L1155.3 3494.2L1159.6 3487.2L1164.4 3479.8L1169.5 3472.2L1174.9 3464.5L1180.4 3456.9L1185.7 3449.9L1190.9 3443.5L1196 3437.4L1201.1 3431.7L1206.4 3425.9L1211.8 3420.1L1217.5 3414.1L1223.3 3408L1229.3 3401.9L1235.4 3396L1241.6 3390.3L1248.1 3384.8L1254.8 3379.5L1261.6 3374.3L1268.4 3369.2L1275.2 3364.2L1281.8 3359.2L1288.4 3354.3L1295 3349.4L1301.8 3344.6L1308.7 3340L1315.9 3335.3L1323.4 3330.8L1330.9 3326.3L1338.5 3321.9L1346 3317.6L1353.4 3313.3L1360.9 3309.1L1368.4 3304.9L1375.8 3300.9L1383.3 3297.1L1390.7 3293.4L1398.2 3289.9L1405.6 3286.6L1413.1 3283.4L1420.5 3280.3L1427.9 3277.4L1435.3 3274.7L1442.6 3272L1450.1 3269.6L1457.8 3267.3L1465.8 3265.1L1473.9 3263.1L1482.2 3261.3L1490.5 3259.6L1498.8 3258L1506.9 3256.4L1515 3255L1523.1 3253.6L1531.4 3252.5L1539.8 3251.6L1548.5 3251L1557.4 3250.6L1566.5 3250.4L1575.5 3250.4L1584.5 3250.5L1593.6 3250.7L1602.8 3251.1L1611.9 3251.6L1620.8 3252.3L1629.3 3253.1L1637.8 3254.3L1646.5 3255.8L1654.7 3257.4L1661.6 3258.8L1666.5 3259.8L1669.7 3260.4L1674.1 3261.3L1679.4 3262.3L1685 3263.4L1690.4 3264.5L1695.7 3265.7L1701.3 3266.9L1707 3268.2L1712.7 3269.6L1718.4 3271L1724 3272.4L1729.6 3273.9L1735.1 3275.4L1740.7 3276.9L1746.3 3278.4L1751.9 3279.9L1757.4 3281.3L1762.9 3282.7L1768.5 3284.2L1774.3 3285.9L1780.3 3287.7L1786.6 3289.7L1792.9 3291.7L1799 3293.9L1804.8 3296.1L1810.1 3298.4L1815.2 3300.7L1820 3303.1L1824.8 3305.7L1829.7 3308.6L1834.7 3311.7L1839.6 3315L1844.6 3318.5L1849.5 3322.2L1854.5 3326L1859.5 3330L1864.5 3334.1L1869.4 3338.4L1874.4 3342.7L1879.4 3347.1L1884.4 3351.5L1889.3 3355.9L1894.3 3360.4L1899.2 3364.9L1904.2 3369.4L1909.3 3373.9L1914.5 3378.4L1919.6 3382.8L1924.5 3387.3L1929.1 3391.8L1933.3 3396.3L1937.1 3400.8L1940.7 3405.2L1944.2 3409.7L1947.7 3414.2L1951.2 3418.7L1954.6 3423.2L1957.9 3427.6L1961 3432.1L1963.9 3436.5L1966.4 3440.7L1968.6 3444.8L1970.7 3448.9L1972.8 3453.3L1975 3458L1977.5 3463.3L1980 3469.1L1982.7 3475.1L1985.2 3481L1987.7 3486.3L1990.1 3491L1992.4 3495.3L1994.6 3499.4L1996.8 3503.6L1998.9 3508L2000.9 3512.7L2002.8 3517.6L2004.6 3522.6L2006.4 3527.7L2008.2 3532.9L2010.1 3538.3L2011.9 3543.8L2013.8 3549.4L2015.6 3555.1L2017.5 3560.9L2019.4 3566.8L2021.2 3572.9L2023.1 3579L2024.9 3585L2026.8 3590.7L2028.7 3596.3L2030.6 3601.7L2032.5 3607L2034.4 3612L2036.1 3616.7L2037.7 3620.9L2039.2 3624.7L2040.7 3628.3L2042.1 3631.8L2043.6 3635.4L2045.1 3639.2L2046.7 3643.1L2048.2 3646.9L2049.6 3650.6L2051 3654L2052.3 3657.3L2053.6 3660.6L2054.8 3663.6L2055.9 3666.2L2056.6 3668"/><path d="M1247.2 3574.8L1248.4 3570L1250 3563.4L1252 3555.6L1254.2 3547.4L1256.5 3539.4L1259 3531.5L1261.7 3523.2L1264.7 3514.8L1267.9 3506.4L1271.4 3498.4L1275.3 3490.7L1279.5 3483.2L1284 3475.8L1288.7 3468.5L1293.8 3461.1L1299.2 3453.6L1305 3446L1311.1 3438.5L1317.3 3431L1323.6 3423.8L1330 3416.8L1336.6 3409.9L1343.3 3403.2L1350.2 3396.7L1357.2 3390.3L1364.3 3384L1371.6 3377.9L1379.1 3371.9L1386.7 3366.1L1394.4 3360.5L1402.4 3354.8L1410.6 3349.3L1418.9 3343.9L1427.2 3338.9L1435.4 3334.4L1443.6 3330.3L1451.8 3326.7L1460 3323.4L1468.2 3320.4L1476.4 3317.6L1484.6 3314.9L1492.8 3312.4L1501 3310.2L1509.2 3308.2L1517.4 3306.4L1525.6 3304.9L1533.8 3303.6L1542 3302.5L1550.2 3301.6L1558.4 3300.8L1566.7 3300.1L1575 3299.5L1583.3 3299.1L1591.5 3298.9L1599.4 3299L1607.4 3299.3L1615.4 3299.9L1623.2 3300.7L1630.4 3301.7L1636.7 3302.7L1642.2 3303.9L1647.1 3305.3L1651.3 3306.8L1654.7 3308.1L1657.2 3309"/><path d="M1657.8 3308.3L1662.5 3308.9L1669.1 3309.7L1676.9 3310.7L1685.2 3312.1L1693.2 3313.9L1701 3316.2L1709.2 3318.9L1717.5 3322L1725.9 3325.3L1734.2 3328.8L1742.4 3332.4L1750.8 3336.3L1759 3340.4L1767.2 3344.7L1775.2 3349.3L1782.9 3354.1L1790.5 3359.1L1798 3364.4L1805.3 3369.8L1812.4 3375.4L1819.5 3381L1826.3 3386.8L1833 3392.8L1839.6 3398.9L1846 3405.2L1852.3 3411.6L1858.4 3418.3L1864.3 3425.1L1870.1 3432L1875.8 3438.7L1881.3 3445.4L1886.7 3452L1891.9 3458.6L1897 3465.3L1901.9 3472.3L1906.7 3479.5L1911.3 3486.9L1915.8 3494.5L1920.1 3502L1924.3 3509.5L1928.3 3517.1L1932.3 3524.6L1936 3532.2L1939.6 3539.6L1942.9 3546.8L1946 3553.8L1948.8 3560.7L1951.4 3567.4L1953.8 3573.9L1955.9 3580.4L1957.9 3586.6L1959.6 3592.8L1961.1 3598.8L1962.4 3604.6L1963.4 3610.2L1964.2 3615.8L1964.6 3621.4L1964.9 3626.7L1965.1 3631.2L1965.3 3634.4"/><path d="M1247.2 3574.8L1249.1 3577.6L1251.6 3581.7L1252.1 3587.4L1252.8 3593.2L1255.5 3597.5L1258.6 3601.4L1258.5 3606.3L1261.1 3610.2L1262.2 3614.3L1263.9 3617.7L1268 3618.7L1267.1 3622.5L1269.8 3622.9L1272.8 3624.3L1278.2 3624.1L1286.2 3624.2L1296.6 3624.4L1308.5 3625.6L1320.6 3625.6L1331.7 3622.5L1342.5 3622.4L1352.5 3619.1L1362.7 3615.4L1373.8 3616.5L1385.4 3616.3L1398.2 3615.8L1411.9 3618L1425.9 3620.1L1439.8 3620.1L1452.7 3620.7L1464.8 3623.3L1476.9 3624.5L1488.3 3625.2L1498.2 3627.3L1506.4 3627.9L1510.4 3624L1512.9 3622.3L1513.8 3619.7L1514.9 3617.7L1519.7 3617L1528.7 3615.5L1540.4 3617.9L1553.5 3621L1567.2 3621.5L1580.1 3621.8L1591.8 3625.2L1603.8 3628.3L1615.8 3629.7L1627.3 3631.2L1636.8 3636.2L1646.6 3635.5L1653.8 3640.2L1661.1 3642.3L1668.4 3643.6L1674 3648.8L1680.7 3650.6L1687.3 3652.2L1692 3656.9L1698.1 3657.7L1704.1 3656.4L1711.2 3655.8L1719.4 3652.9L1727.5 3648.6L1734.9 3644L1741.6 3641.9L1747.2 3642.9L1752.3 3644.4L1756 3648.8L1761.7 3650.9L1767.6 3653.4L1774.7 3655.1L1782.7 3654.2L1790.9 3655.5L1799.3 3659.2L1808.7 3659L1818.7 3659.9L1829.4 3662.6L1840.7 3663.6L1851.2 3666.5L1861.1 3667.2L1869.4 3670.1L1877.7 3669.8L1884.2 3675L1891.5 3674.2L1898.3 3673.5L1904.7 3675.1L1910.8 3674.3L1916.7 3673.8L1921.9 3670.7L1928.2 3670.2L1935.9 3670.6L1938.5 3661.9L1945.1 3659.4L1949.6 3654.7L1954.2 3651.3L1955.7 3646.1L1959 3642.8L1962.8 3640.1L1963.9 3636.6L1965.3 3634.4"/><path d="M2056.6 3667.9L2057.2 3670L2058 3672.8L2058.9 3676.2L2059.9 3680.3L2060.9 3685.2L2062 3691L2063.3 3697.9L2064.5 3705.2L2065.5 3712.8L2066.1 3720L2066.1 3727L2065.5 3734.1L2064.8 3741.1L2064.3 3748.1L2064.3 3754.8L2064.9 3761.3L2065.8 3767.7L2067 3774L2068.3 3780.1L2069.6 3786.1L2071 3791.8L2072.6 3797.1L2074.2 3802.4L2075.6 3807.9L2076.5 3813.9L2076.9 3820.4L2076.8 3827.3L2076.5 3834.4L2076 3841.6L2075.5 3848.7L2074.9 3855.7L2074.3 3862.6L2073.5 3869.6L2072.6 3876.5L2071.5 3883.5L2070.3 3890.5L2069 3897.4L2067.6 3904.4L2066 3911.3L2064.3 3918.3L2062.5 3925.3L2060.5 3932.4L2058.5 3939.4L2056.3 3946.3L2053.9 3953L2051.4 3959.5L2048.8 3965.9L2046 3972.2L2043.1 3978.3L2040 3984.3L2036.7 3990.2L2033.3 3996L2029.7 4001.7L2026.1 4007.1L2022.6 4012.2L2019.2 4016.8L2015.8 4021L2012.4 4025L2008.9 4028.9L2005.2 4033L2001.3 4037.2L1997.3 4041.4L1993.1 4045.5L1988.8 4049.7L1984.3 4053.9L1979.7 4058.1L1974.8 4062.3L1969.9 4066.4L1964.9 4070.6L1960 4074.8L1955.1 4079L1950.3 4083.2L1945.4 4087.3L1940.6 4091.5L1935.7 4095.7L1930.8 4099.9L1925.8 4104.3L1920.8 4108.6L1916 4112.7L1911.3 4116.5L1907 4120.1L1902.9 4123.5L1898.8 4126.7L1894.7 4129.6L1890.4 4132.2L1885.7 4134.6L1880.8 4136.8L1875.7 4138.6L1870.8 4140.1L1866.1 4140.9L1861.6 4141L1857.3 4140.5L1853.1 4139.6L1849.1 4138.5L1845.2 4137.4L1841.4 4136.3L1837.7 4134.9L1834.2 4133.5L1830.9 4132L1827.8 4130.4L1824.9 4128.7L1822.3 4126.9L1819.8 4125L1817.6 4123.2L1815.7 4121.7L1814 4120.1L1812.5 4118.3L1811.3 4116.8L1810.3 4116L1809.7 4116.5L1809.5 4118.5L1809.6 4121.7L1810 4125.6L1810.5 4129.8L1811.1 4133.9L1811.9 4137.9L1812.8 4142.2L1813.9 4146.5L1814.9 4150.8L1815.7 4154.8L1816.4 4158.6L1817 4162.2L1817.5 4165.7L1817.7 4169L1817.4 4172.2L1816.8 4175.2L1816.1 4178L1814.9 4180.7L1813 4183.4L1810.4 4186.1L1806.8 4188.9L1802.3 4191.7L1797.2 4194.5L1791.7 4197.3L1786.1 4200L1780.4 4202.7L1774.4 4205.4L1768.2 4208L1761.6 4210.6L1754.8 4213L1747.6 4215.3L1740.1 4217.5L1732.4 4219.7L1724.5 4221.7L1716.5 4223.5L1708.4 4225.2L1700.2 4226.7L1691.9 4228L1683.4 4229.3L1674.8 4230.5L1665.8 4231.6L1656.5 4232.6L1647.1 4233.5L1638.2 4234.3L1630 4235L1623.1 4235.6L1617.2 4236L1611.6 4236.3L1605.5 4236.5L1598 4236.5L1588.9 4236.4L1578.8 4236.1L1568 4235.7L1556.9 4235L1545.9 4234L1535 4232.6L1523.8 4230.9L1512.5 4228.9L1501.2 4226.6L1490 4224L1478.8 4221.2L1467.6 4218.1L1456.5 4214.8L1445.3 4211.1L1434.1 4207L1422.9 4202.5L1411.6 4197.6L1400.3 4192.4L1389.1 4186.8L1378.2 4181L1367.5 4174.9L1356.9 4168.5L1346.4 4161.8L1336.1 4154.8L1326 4147.5L1315.9 4139.8L1306 4131.6L1296.2 4123.3L1286.7 4114.8L1277.5 4106.5L1268.8 4098.4L1260.4 4090.3L1252.3 4082.2L1244.3 4074L1236.5 4065.5L1228.8 4056.8L1221.2 4048L1213.7 4038.9L1206.4 4029.8L1199.3 4020.5L1192.2 4011L1185.2 4001.3L1178.4 3991.6L1171.9 3981.7L1165.7 3972L1159.9 3962.4L1154.5 3953L1149.4 3943.5L1144.5 3933.8L1139.6 3923.6L1134.8 3912.9L1130.1 3901.8L1125.5 3890.4L1121.2 3879L1117.3 3867.7L1113.7 3856.5L1110.5 3845.3L1107.5 3834.2L1104.8 3823L1102.4 3811.8L1100.3 3800.6L1098.6 3789.2L1097.1 3778L1095.9 3766.9L1094.9 3756L1094.1 3745.4L1093.6 3734.8L1093.3 3724.5L1093.2 3714.6L1093.5 3705L1094.1 3696.2L1095 3688L1096.1 3680L1097.5 3671.8L1099 3662.7L1100.7 3652.4L1102.7 3641.2L1104.7 3629.8L1106.9 3618.9L1109 3609L1111.1 3600.3L1113.3 3592.3L1115.4 3585L1117.5 3578.3L1119.5 3572L1121.5 3566.1L1123.4 3560.6L1125.3 3555.7L1126.8 3551.6L1128 3548.7"/>
<path d="M1666.5 3259.8L1664.7 3277.7L1657.2 3309" stroke-width="2"/>
<path d="M1128 3548.7L1139.1 3559.9L1174.5 3556.1L1211.8 3567.3L1247.2 3574.8"/><path d="M1965.3 3634.4L1987.6 3651.2L1998.8 3664.2L2010 3673.5L2021.2 3682.1L2043.5 3673.5L2056.6 3667.9"/>
</g>
<path d="M1141 3560L1143.1 3559L1146.6 3558.8L1150 3557L1152.7 3553.5L1155.8 3551.8L1158.3 3549.7L1161.4 3548.9L1163.3 3546.4L1166.4 3544.2L1166.8 3539L1172.6 3535.5L1174.1 3528.4L1177.9 3521.8L1180.2 3514.5L1183.1 3508.2L1186.9 3503.2L1190.5 3498.4L1192.9 3493.1L1195.8 3488.4L1198.9 3483.8L1198.7 3478.3L1198.5 3472.9L1200.7 3467.7L1200.5 3462.6L1201.7 3457.5L1206.7 3455.2L1212 3453.5L1217.5 3451.3L1222.8 3449.5L1228 3448.8L1232.1 3446.9L1234.1 3443.3L1236.2 3440L1239.8 3437.5L1243.5 3434.4L1247.1 3429.9L1252.6 3426.5L1258.1 3422.7L1262.6 3417.6L1267.3 3413.3L1273.1 3411L1278.4 3407.9L1284 3405.8L1287.7 3400.9L1292.3 3398.6L1295.9 3395.3L1298.5 3391.5L1302.7 3389.5L1305.6 3386.9L1307.1 3383.7L1310.1 3384L1310.7 3383L1311.6 3382.5L1313 3381.4L1316 3379.8L1318.8 3374.5L1325.6 3371.1L1331.6 3365.8L1336 3359.1L1342.5 3357L1346.4 3354.3L1350.3 3354.1L1353.5 3352.2L1357.1 3351.7L1361.1 3350.3L1364.8 3346.4L1370.5 3343.9L1374.9 3339.6L1379.7 3336.8L1383.1 3333.9L1385.8 3335.3L1387.8 3336L1390.1 3337.1L1391.8 3339.1L1395 3339.2L1398.8 3337L1400 3330.8L1405.7 3328L1409.3 3323.4L1413 3319.4L1416.6 3315.9L1421.6 3315.7L1424.7 3311.5L1430.2 3311.1L1436 3309.5L1441.3 3304L1449.2 3302.1L1456.6 3298L1465.1 3296.4L1473.2 3294.8L1480.8 3292.7L1487.1 3286.7L1494.9 3285.7L1502.7 3284.8L1510.4 3283.7L1517.5 3280.8L1524.7 3277.9L1532.4 3277.4L1539.8 3275.8L1547.2 3274.5L1554.6 3273.2L1562.2 3273.8L1569.6 3273.4L1577.1 3272.8L1584.5 3272.6L1591.9 3271.7L1599.2 3272.8L1606.4 3274.9L1614 3274L1621.9 3273.3L1630.6 3276.6L1640.6 3276.5L1650.2 3278.8L1658.7 3277.3L1664.7 3277.7M1665.2 3280.3L1669.4 3280.5L1675.2 3280.3L1681.6 3284L1688.7 3286.6L1697.1 3285.1L1705.4 3287.9L1714.2 3292.3L1724.2 3294.4L1733.3 3298.1L1741.7 3300.5L1749.5 3302.3L1757 3303.8L1764.2 3302.9L1770.2 3304.3L1775.3 3304.2L1778 3306.8L1781.8 3308.4L1782 3311.8L1780.6 3315.3L1783.1 3317.3L1784.2 3320.4L1786.4 3322.9L1788.3 3325.9L1791.2 3327.2L1794 3327.9L1795.8 3325.5L1797.3 3322.3L1799.4 3318.9L1802 3316.2L1805.1 3314.6L1808.4 3316.5L1811.4 3319.6L1814.8 3323.3L1819.3 3326.7L1824.7 3329.1L1829.2 3334L1835.4 3337.8L1841.5 3342.3L1847.9 3345.7L1853.9 3348.8L1857.8 3353.1L1858.2 3358.9L1861.6 3362.9L1863.4 3368.1L1866.8 3373.1L1873.5 3375.4L1877.9 3380.5L1883.5 3384.9L1888.9 3389.5L1894.1 3394.4L1899 3399.6L1903.5 3405.5L1909.3 3410.7L1912.5 3417.6L1917.4 3423.4L1921.2 3429.8L1926.3 3435.3L1930 3441.8L1934.3 3447.9L1938.9 3453.8L1942.9 3460.3L1947 3466.8L1951.2 3473.4L1954.5 3480.3L1958.3 3487L1960.7 3494.1L1964.2 3500.6L1966.7 3507.5L1971.3 3513.5L1971.9 3521L1975.9 3527.4L1978.2 3534.5L1979.8 3541.6L1982.3 3548.1L1983.6 3554.4L1986.6 3558.8L1989.3 3562.4L1991.3 3566.2L1991.6 3571.4L1995 3576.6L1998.5 3584.2L1999.7 3594L2003.6 3603.6L2002.5 3613.9L2007.7 3621L2007.6 3627.5L2009.2 3632.3L2012.5 3635.6L2012.2 3639.9L2012.8 3644L2014.2 3647.8L2015.2 3651.4L2015.2 3655.2L2016.6 3658.6L2017.1 3662.4L2018.4 3666.5L2018.5 3671.2L2020.9 3675.4L2019.9 3679.5L2021.2 3682.1" fill="none" stroke="#111" stroke-width="4.4" stroke-linejoin="round"/>
<path d="M2032 3602.5H2010" stroke="#fff" stroke-width="4.5"/><path d="M2014 3584V3621L1978 3602.5Z" fill="#fff"/>
<text x="978" y="3317" font-size="50.5" font-style="italic">Cell-types</text>
<text x="978" y="3404" font-size="48">(ONNE)</text>
<text x="994" y="3491" font-size="48">(INNE)</text>
<text x="2054" y="3480" font-size="48">(ONE)</text>
<text x="2068" y="3584" font-size="48">(INE)</text>
<g stroke="#404040" stroke-width="4.5" fill="none">
<path d="M926 3424H1172"/>
<path d="M929 4098H975.5V3504H1200"/>
<path d="M2246 3506H2034"/>
<path d="M2246 4094H2198V3602.5H2030"/>
</g>
<path d="M1168 3405V3443L1206 3424Z" fill="#404040"/>
<path d="M1196 3485V3523L1235 3504Z" fill="#404040"/>
<path d="M2039 3487V3525L2000 3506Z" fill="#404040"/>
<text x="1030.5" y="4258.5" font-size="51.2" font-style="italic">Gene expression</text>
<rect x="1033" y="4291" width="48" height="45" fill="#f73d43" stroke="#41609c" stroke-width="1.6"/>
<text x="1101.7" y="4332" font-size="48.3">Pan-ectoderm</text>
<rect x="1034" y="4369.5" width="48" height="45" fill="#6b9ef5" stroke="#41609c" stroke-width="1.6"/>
<text x="1103" y="4410.7" font-size="48.3">Inner NNE + NE</text>
<rect x="1034" y="4445.5" width="48" height="45" fill="#c39be3" stroke="#41609c" stroke-width="1.6"/>
<text x="1101.7" y="4487" font-size="48.3">Outer NE</text>
<rect x="1034" y="4520" width="48" height="45" fill="#8d5fb8" stroke="#41609c" stroke-width="1.6"/>
<text x="1105" y="4560" font-size="48.3">Inner NE</text>
<rect x="1691" y="4289.5" width="48" height="45" fill="#3dbd75" stroke="#41609c" stroke-width="1.6"/>
<text x="1757.5" y="4330.7" font-size="48.3">Outer NNE + NE</text>
<rect x="1692" y="4371" width="48" height="45" fill="#f2a33a" stroke="#41609c" stroke-width="1.6"/>
<text x="1759" y="4412" font-size="48.3">Outer NNE</text>
<rect x="1694" y="4449.5" width="48" height="45" fill="#57585a" stroke="#41609c" stroke-width="1.6"/>
<text x="1763" y="4492" font-size="48.3">Inner NNE</text>
</g>
</svg>
</body></html>
